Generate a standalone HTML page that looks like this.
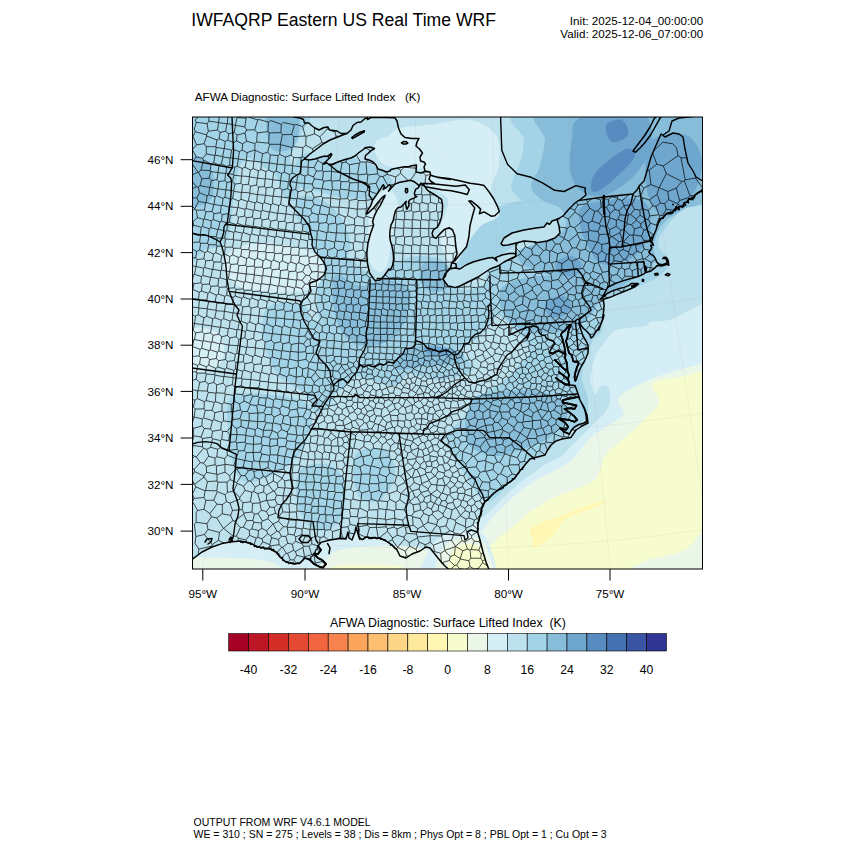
<!DOCTYPE html><html><head><meta charset="utf-8"><title>WRF</title><style>html,body{margin:0;padding:0;background:#fff}svg{display:block}text{font-family:"Liberation Sans",sans-serif;fill:#000}</style></head><body>
<svg width="850" height="850" viewBox="0 0 850 850">
<rect width="850" height="850" fill="#fff"/>
<defs><clipPath id="mc"><rect x="192.5" y="117.0" width="510.0" height="452.0"/></clipPath></defs>
<g clip-path="url(#mc)">
<rect x="192.5" y="117.0" width="510.0" height="452.0" fill="#bde2ee"/>
<path d="M185,110C204.5,85.8,282.8,105.8,302,110C321.2,114.2,302,126.7,300,135C298,143.3,290,153.3,290,160C290,166.7,299,168.3,300,175C301,181.7,298.7,196.5,296,200C293.3,203.5,287.3,200,284,196C280.7,192,279.7,181,276,176C272.3,171,266.3,169,262,166C257.7,163,253.7,158,250,158C246.3,158,242.7,159.8,240,166C237.3,172.2,235.7,184.3,234,195C232.3,205.7,232,221.7,230,230C228,238.3,226.2,241.7,222,245C217.8,248.3,211.2,248.3,205,250C198.8,251.7,188.3,278.3,185,255C181.7,231.7,165.5,134.2,185,110Z" fill="#a3d3e6"/>
<path d="M298,158C303,152,319.7,149.7,330,150C340.3,150.3,350.8,156.3,360,160C369.2,163.7,379.7,167.8,385,172C390.3,176.2,393.7,180.7,392,185C390.3,189.3,382.8,195.8,375,198C367.2,200.2,354.2,199,345,198C335.8,197,327.5,194,320,192C312.5,190,303.7,191.7,300,186C296.3,180.3,293,164,298,158Z" fill="#a3d3e6"/>
<path d="M322,262C326.7,254.5,337.3,253.3,345,255C352.7,256.7,359.7,270.8,368,272C376.3,273.2,386.3,264.7,395,262C403.7,259.3,411.7,256,420,256C428.3,256,439.7,257.2,445,262C450.3,266.8,447.8,280.3,452,285C456.2,289.7,463.3,290.3,470,290C476.7,289.7,487.5,279.7,492,283C496.5,286.3,498.7,301.3,497,310C495.3,318.7,487.8,328.3,482,335C476.2,341.7,463.7,344.2,462,350C460.3,355.8,475.7,365,472,370C468.3,375,450.3,379.3,440,380C429.7,380.7,417.5,373,410,374C402.5,375,401.7,385,395,386C388.3,387,377.5,382.3,370,380C362.5,377.7,355.8,376.2,350,372C344.2,367.8,339.7,362,335,355C330.3,348,325,339.2,322,330C319,320.8,317,311.3,317,300C317,288.7,317.3,269.5,322,262Z" fill="#a3d3e6"/>
<path d="M524,110C555,105,679,95.3,710,110C741,124.7,713.3,182.2,710,198C706.7,213.8,696.7,201,690,205C683.3,209,675.3,215.7,670,222C664.7,228.3,658.3,236.7,658,243C657.7,249.3,667.3,254.8,668,260C668.7,265.2,666.7,269.7,662,274C657.3,278.3,647,282.8,640,286C633,289.2,626,290.7,620,293C614,295.3,607,293.8,604,300C601,306.2,604,323,602,330C600,337,595.3,334.5,592,342C588.7,349.5,582.7,365.3,582,375C581.3,384.7,587.7,392.5,588,400C588.3,407.5,588.3,414,584,420C579.7,426,568.2,430.8,562,436C555.8,441.2,553.7,446,547,451C540.3,456,528.7,460.2,522,466C515.3,471.8,512.7,480,507,486C501.3,492,493.3,501.3,488,502C482.7,502.7,479.3,495.3,475,490C470.7,484.7,466.2,476.7,462,470C457.8,463.3,452.7,455.7,450,450C447.3,444.3,445,440.2,446,436C447,431.8,452,429.3,456,425C460,420.7,465.7,415.2,470,410C474.3,404.8,477,398.3,482,394C487,389.7,494.3,388.3,500,384C505.7,379.7,511,373.3,516,368C521,362.7,529.3,357.5,530,352C530.7,346.5,524.2,340.3,520,335C515.8,329.7,510.3,325,505,320C499.7,315,491.2,312,488,305C484.8,298,484.3,285.8,486,278C487.7,270.2,492.3,262.7,498,258C503.7,253.3,513,251.8,520,250C527,248.2,534.7,250,540,247C545.3,244,550.7,237.3,552,232C553.3,226.7,552,219.5,548,215C544,210.5,534,209.2,528,205C522,200.8,514.3,194.8,512,190C509.7,185.2,512.5,181,514,176C515.5,171,519.3,166,521,160C522.7,154,523.5,148.3,524,140C524.5,131.7,493,115,524,110Z" fill="#a3d3e6"/>
<path d="M235,395C247,390,287.2,395.8,300,400C312.8,404.2,311.7,411.7,312,420C312.3,428.3,307,441.7,302,450C297,458.3,290.7,464.7,282,470C273.3,475.3,257.8,482,250,482C242.2,482,238.7,478.7,235,470C231.3,461.3,228,442.5,228,430C228,417.5,223,400,235,395Z" fill="#a3d3e6"/>
<path d="M300,470C305.3,463.3,322.5,462.5,330,465C337.5,467.5,343.3,475.8,345,485C346.7,494.2,345,512.5,340,520C335,527.5,322,532.5,315,530C308,527.5,300.5,515,298,505C295.5,495,294.7,476.7,300,470Z" fill="#a3d3e6"/>
<path d="M355,455C359.5,447.5,378.3,446.7,385,450C391.7,453.3,395.8,466.7,395,475C394.2,483.3,386.2,496.7,380,500C373.8,503.3,362.2,502.5,358,495C353.8,487.5,350.5,462.5,355,455Z" fill="#a3d3e6"/>
<path d="M455,264C456,257.5,463.8,245.8,468,238C472.2,230.2,474.7,222.3,480,217C485.3,211.7,491.7,208.8,500,206C508.3,203.2,521.3,200,530,200C538.7,200,549.2,201.7,552,206C554.8,210.3,552,220.2,547,226C542,231.8,529.8,236,522,241C514.2,246,506.7,251.5,500,256C493.3,260.5,488.3,264.5,482,268C475.7,271.5,466.5,277.7,462,277C457.5,276.3,454,270.5,455,264Z" fill="#a3d3e6"/>
<path d="M296,200C298,196,304.3,195.2,310,196C315.7,196.8,324.2,200.2,330,205C335.8,209.8,341.7,217.5,345,225C348.3,232.5,351.7,243.8,350,250C348.3,256.2,340.3,261.2,335,262C329.7,262.8,322.5,259.5,318,255C313.5,250.5,311.3,240.8,308,235C304.7,229.2,300,225.8,298,220C296,214.2,294,204,296,200Z" fill="#a3d3e6"/>
<path d="M267.6,307.6C272,303.3,281.9,302.5,288.4,302.5C294.8,302.5,302.6,303.3,306.5,307.6C310.4,312,309.5,321.4,311.6,328.4C313.8,335.3,316.4,342.2,319.4,349.1C322.4,356,327.2,363.7,329.8,369.8C332.3,375.8,334.9,379.2,334.9,385.3C334.9,391.3,333.2,401.7,329.8,406C326.3,410.3,318.1,412.9,314.2,411.2C310.4,409.5,309.9,400,306.5,395.6C303,391.3,298.3,388.7,293.5,385.3C288.8,381.8,282.3,380.1,278,374.9C273.7,369.8,270.2,362,267.6,354.2C265.1,346.5,262.5,336.1,262.5,328.4C262.5,320.6,263.3,312,267.6,307.6Z" fill="#a3d3e6"/>
<path d="M291.2,322.9C295.9,320.6,322.9,319.4,333.5,322.9C344.1,326.5,350.2,337.1,354.7,344.1C359.2,351.2,361.3,358.7,360.4,365.3C359.4,371.9,354,378.5,349.1,383.6C344.1,388.8,336.1,393.1,330.7,396.4C325.3,399.6,320.8,403.9,316.6,403.4C312.4,402.9,306,398.7,305.3,393.5C304.6,388.4,310.5,379.4,312.4,372.4C314.2,365.3,317.8,357.1,316.6,351.2C315.4,345.3,309.5,341.8,305.3,337.1C301.1,332.4,286.5,325.3,291.2,322.9Z" fill="#a3d3e6"/>
<path d="M546,110C573.5,105,682.7,96.2,710,110C737.3,123.8,714.7,176.3,710,193C705.3,209.7,690,204.7,682,210C674,215.3,666.7,219.2,662,225C657.3,230.8,655.3,238.8,654,245C652.7,251.2,656.7,256.8,654,262C651.3,267.2,645,271,638,276C631,281,620,288,612,292C604,296,596.2,300,590,300C583.8,300,580,295.3,575,292C570,288.7,565.8,283.3,560,280C554.2,276.7,546.3,274.7,540,272C533.7,269.3,525.5,267.5,522,264C518.5,260.5,516.3,254.5,519,251C521.7,247.5,531.5,245.5,538,243C544.5,240.5,553.3,239.5,558,236C562.7,232.5,565.7,226.7,566,222C566.3,217.3,564,211.7,560,208C556,204.3,546.8,203.7,542,200C537.2,196.3,531.3,191.7,531,186C530.7,180.3,537.7,173.7,540,166C542.3,158.3,544,149.3,545,140C546,130.7,518.5,115,546,110Z" fill="#87bdd9"/>
<path d="M505,285C511.7,280.2,527.5,276.8,540,276C552.5,275.2,570.3,276.8,580,280C589.7,283.2,596.3,289,598,295C599.7,301,594.7,310.3,590,316C585.3,321.7,578.3,326.2,570,329C561.7,331.8,549.2,333.5,540,333C530.8,332.5,521.7,330.7,515,326C508.3,321.3,501.7,311.8,500,305C498.3,298.2,498.3,289.8,505,285Z" fill="#87bdd9"/>
<path d="M335,275C339.3,271,351.7,285.2,360,286C368.3,286.8,376.7,279.3,385,280C393.3,280.7,406.7,283.3,410,290C413.3,296.7,408.3,311.7,405,320C401.7,328.3,396.7,335.7,390,340C383.3,344.3,372.5,346.7,365,346C357.5,345.3,350.2,342,345,336C339.8,330,335.7,320.2,334,310C332.3,299.8,330.7,279,335,275Z" fill="#87bdd9"/>
<path d="M394,364C394.3,361.3,397.7,356.5,400,354C402.3,351.5,404.7,350.3,408,349C411.3,347.7,416,346.7,420,346C424,345.3,427.7,344.8,432,345C436.3,345.2,441.7,346,446,347C450.3,348,455,349.7,458,351C461,352.3,463.7,353.3,464,355C464.3,356.7,462.3,359.5,460,361C457.7,362.5,454,363.3,450,364C446,364.7,441,364.5,436,365C431,365.5,424.7,366.3,420,367C415.3,367.7,411.7,368.5,408,369C404.3,369.5,400.3,370.8,398,370C395.7,369.2,393.7,366.7,394,364Z" fill="#87bdd9"/>
<path d="M480,395C490,392.5,516.3,389.2,530,390C543.7,390.8,556,395,562,400C568,405,568.7,413.3,566,420C563.3,426.7,553.7,435,546,440C538.3,445,528.5,447.3,520,450C511.5,452.7,503.3,456.7,495,456C486.7,455.3,475,451.2,470,446C465,440.8,465,431.8,465,425C465,418.2,467.5,410,470,405C472.5,400,470,397.5,480,395Z" fill="#87bdd9"/>
<path d="M188,158C191.7,151.8,205.8,158.8,210,165C214.2,171.2,214.7,188.2,213,195C211.3,201.8,204.2,204.8,200,206C195.8,207.2,190,210,188,202C186,194,184.3,164.2,188,158Z" fill="#87bdd9"/>
<path d="M268,112C272.5,106.3,292.2,107.3,297,112C301.8,116.7,299,133.5,297,140C295,146.5,289.5,150,285,151C280.5,152,272.8,152.5,270,146C267.2,139.5,263.5,117.7,268,112Z" fill="#87bdd9"/>
<path d="M425,262C429.5,259.5,442.8,261.2,447,265C451.2,268.8,452.5,280.5,450,285C447.5,289.5,437,292.8,432,292C427,291.2,421.2,285,420,280C418.8,275,420.5,264.5,425,262Z" fill="#87bdd9"/>
<path d="M580,118C591.3,113.3,628,108.3,640,112C652,115.7,651.7,131,652,140C652.3,149,647,158.3,642,166C637,173.7,629,181,622,186C615,191,607,195.3,600,196C593,196.7,585,194.3,580,190C575,185.7,571.3,178.3,570,170C568.7,161.7,570.3,148.7,572,140C573.7,131.3,568.7,122.7,580,118Z" fill="#6ea6ce"/>
<path d="M652,140C658.8,134.2,677.7,131.7,686,135C694.3,138.3,701,149.8,702,160C703,170.2,698,186.7,692,196C686,205.3,673,215.3,666,216C659,216.7,653.5,207.7,650,200C646.5,192.3,644.7,180,645,170C645.3,160,645.2,145.8,652,140Z" fill="#6ea6ce"/>
<path d="M585,205C595,200.8,629,196.7,640,200C651,203.3,650.8,216.7,651,225C651.2,233.3,646.2,243.7,641,250C635.8,256.3,626.8,260.8,620,263C613.2,265.2,605.3,265.8,600,263C594.7,260.2,591.3,252.3,588,246C584.7,239.7,580.5,231.8,580,225C579.5,218.2,575,209.2,585,205Z" fill="#6ea6ce"/>
<path d="M548,300C551,297.8,559.2,295,563,296C566.8,297,571,302.7,571,306C571,309.3,566.3,314.2,563,316C559.7,317.8,554,318.2,551,317C548,315.8,545.5,311.8,545,309C544.5,306.2,545,302.2,548,300Z" fill="#6ea6ce"/>
<path d="M424,348C425.3,346.8,432,346.5,436,346.6C440,346.7,444.7,347.5,448,348.6C451.3,349.7,455.7,351.7,456,353C456.3,354.3,453,356.2,450,356.6C447,357,441.7,355.8,438,355.4C434.3,355,430.3,355.2,428,354C425.7,352.8,422.7,349.2,424,348Z" fill="#6ea6ce"/>
<path d="M556,262C558,259,567.7,255.3,572,256C576.3,256.7,581.7,262.7,582,266C582.3,269.3,577.7,274.7,574,276C570.3,277.3,563,276.3,560,274C557,271.7,554,265,556,262Z" fill="#6ea6ce"/>
<path d="M596,172C601.7,165,619.7,151.3,626,149C632.3,146.7,637.3,151.8,634,158C630.7,164.2,613,180.5,606,186C599,191.5,593.7,193.3,592,191C590.3,188.7,590.3,179,596,172Z" fill="#588cc0"/>
<path d="M606,125C607.7,121.3,618.3,118.3,622,120C625.7,121.7,629.7,131.3,628,135C626.3,138.7,615.7,143.7,612,142C608.3,140.3,604.3,128.7,606,125Z" fill="#588cc0"/>
<path d="M602.4,298 607.1,293.5 612.9,290.6 618.8,288.8 624.7,287.1 629.4,285.3 631.2,283.5 637.6,283.5 631.8,286.2 635.3,285.9 638.5,283.9 635.3,286.5 630.6,288.8 624.7,291.2 617.6,294.1 610.6,297.1 603.5,299.2 602.4,298Z" fill="#a3d3e6"/>
<path d="M304.5,159 310,154 318,148 323,144 330,140 339,136.5 345,134 347,133.5 351,130 353,125.5 357,122.5 361,122 365,118.5 367.5,117.8 367.5,119.5 371,117.5 377,117.2 385,117.5 395,117.8 397,121 398.5,128 401,134 405,137.5 412,138.5 419,138.5 417,142 416,146 419.5,149 422.5,153 420,157 420.5,161 424,162 425.5,164 424,167 425,171 430,172 430.5,175 430,172 425,171.5 421,173 416,172 416.5,165 413,165.5 409,166.5 403,167 395,168.5 391,169.5 390,171 386,172 383,170.5 378,169 376,165 373,162 369,160 365,159 365.5,155.5 368,153.5 371,150.7 374.5,148.5 370,147 365,147.8 364,149 359,152.5 355,156 351,158 345,159.5 339,161.5 333,164 329,164.5 327,163 323.5,164 326,161.5 328,159.5 330,157.5 331.8,154.5 331,153.5 329.5,155 327,156.5 325,156 321,157 315,159 309,160 304.5,159Z" fill="#bde2ee"/>
<path d="M390.3,270 389,269 384,276 380,280 375,280.6 369.6,273 367.4,263 366.8,253 368,243 370.4,234 373.6,225 372.6,221.8 374.4,215.9 376.8,210.6 380.3,205.3 383.2,199.4 385,196.1 385,195.3 382.6,197.1 378.5,201.8 373.8,207.7 369.1,212.3 366.2,214.1 367.9,210 370.9,205.3 372.6,200.3 376.2,195.3 380.3,189.4 383.2,184.7 384.4,186.5 383.2,189.4 386.2,187.7 389.1,184.7 390.9,185.9 389.7,189.4 388.5,191.2 391.5,187.7 395,184.1 399.7,182.3 405.6,181.2 410.3,180.3 414.4,181.8 417.4,184.1 419.1,185.9 420.3,184.1 418.5,187.7 415.6,189.4 414.4,192.9 415,195.9 416.8,196.5 413.8,198.2 410.3,199.4 408.5,201.8 409.1,205.3 406.8,209.4 405.6,204.1 406.2,201.2 403.2,204.7 400.9,207.1 397.9,207.7 395.6,210.6 394.4,214.7 393.2,220.6 390.9,225.3 390.1,230 389.7,235.9 390.3,240.6 392.1,246.5 393.2,252.3 393.6,259.4 392.6,265.3 390.3,270Z" fill="#bde2ee"/>
<path d="M420.6,183.2 427.6,190.3 437.1,197.3 442.9,205.6 442.9,216.2 440.6,224.4 435.9,230.3 433.5,233.8 435.9,237.3 440.6,235 446.5,229.1 451.6,227.5 454.7,235 455.9,246.8 457.1,253.8 453.5,260.9 460.6,253.8 466.5,246.8 468.8,237.3 470,225.6 472.4,216.2 474.7,207.9 471.2,200.9 477.1,205.6 480.6,209.1 484.1,211.9 491.2,216.2 499.4,211.5 497.1,205.6 493.5,198.5 488.8,191.5 484.1,185.6 479.4,184.4 470,183.2 460.6,180.9 448.8,178.5 437.1,177.3 427.6,175 422.9,178.5Z" fill="#bde2ee"/>
<path d="M443,279 445,274 450,269 455,268 460,269 466,265 473,262 480,260 488,258 493,257.6 497,261 495.6,257.6 502,255 509,253.6 515,253.6 515.9,256.2 510,259 504,262 498,266 490,269 484,273 478,277 472,280 466,283 460,286 455,287.6 451,286.4 448,286 445,282 443,279Z" fill="#bde2ee"/>
<path d="M501,243.6 504,238 512,233 524,230 536,228 544,227 547,223 549.6,224.4 552,221 558,219 557,219.4 559,226 560,233 555,238 547,241 535,243 536,242 524,241 516,243 508,245 503,245.6 501,243.6Z" fill="#bde2ee"/>
<path d="M232,250C238,245.8,248.7,243.3,260,243C271.3,242.7,289.5,244.8,300,248C310.5,251.2,320,255.8,323,262C326,268.2,322.7,280,318,285C313.3,290,304.3,291,295,292C285.7,293,271.5,292,262,291C252.5,290,244.3,289.8,238,286C231.7,282.2,225,274,224,268C223,262,226,254.2,232,250Z" fill="#d6eef5"/>
<path d="M428,125C440.5,123.3,458.7,118.3,470,120C481.3,121.7,491.2,127.5,496,135C500.8,142.5,499.8,155.8,499,165C498.2,174.2,491,181.7,491,190C491,198.3,500.7,209,499,215C497.3,221,486.5,220.8,481,226C475.5,231.2,470.2,239.8,466,246C461.8,252.2,459.5,261.3,456,263C452.5,264.7,447.7,261.5,445,256C442.3,250.5,439.5,239.3,440,230C440.5,220.7,449.7,207.3,448,200C446.3,192.7,434.7,191.7,430,186C425.3,180.3,425,170.3,420,166C415,161.7,405.8,162.7,400,160C394.2,157.3,385.8,155,385,150C384.2,145,387.8,134.2,395,130C402.2,125.8,415.5,126.7,428,125Z" fill="#d6eef5"/>
<path d="M375,196C378.3,192.7,386.2,188.5,390,190C393.8,191.5,397.7,197.5,398,205C398.3,212.5,393.7,225.5,392,235C390.3,244.5,390,255.8,388,262C386,268.2,383,272,380,272C377,272,372,268.2,370,262C368,255.8,368,243.7,368,235C368,226.3,368.8,216.5,370,210C371.2,203.5,371.7,199.3,375,196Z" fill="#d6eef5"/>
<path d="M378,140C384.8,135.7,409.5,132.3,420,134C430.5,135.7,439.2,144.7,441,150C442.8,155.3,437.8,162.8,431,166C424.2,169.2,408.7,170,400,169C391.3,168,382.7,164.8,379,160C375.3,155.2,371.2,144.3,378,140Z" fill="#d6eef5"/>
<path d="M188,332C192,325.3,206,327.8,212,330C218,332.2,223,339,224,345C225,351,224,361.8,218,366C212,370.2,193,375.7,188,370C183,364.3,184,338.7,188,332Z" fill="#d6eef5"/>
<path d="M717.1,297.7C713.5,251.1,706.9,301.9,702.2,304.1C697.5,306.2,693.4,308.1,688.8,310.4C684.2,312.8,678.9,316.4,674.7,318.2C670.5,319.9,667.4,320.4,663.4,321C659.4,321.6,653.5,320.9,650.7,321.7C647.9,322.5,649.5,325,646.5,325.9C643.4,326.9,637.1,326.8,632.4,327.4C627.6,327.9,621.8,328.4,618.2,329.5C614.7,330.5,613.5,331.5,611.2,333.7C608.8,335.9,606.5,339.7,604.1,342.9C601.8,346.1,598.9,349.2,597.1,352.8C595.2,356.3,593.9,360.1,592.8,364.1C591.8,368.1,591.1,374,590.7,376.8C590.3,379.5,589.7,377.7,590.4,380.6C591.1,383.5,593.3,393.2,595,394.1C596.7,395,598.2,387.1,600.4,386C602.7,384.9,607,384.6,608.5,387.4C610.1,390.1,610.6,398,609.9,402.2C609.2,406.5,606.7,409.9,604.5,413.1C602.2,416.2,599.1,418.5,596.4,421.2C593.6,423.9,590.9,426.6,588.2,429.3C585.5,432,583.3,434.3,580.1,437.4C577,440.6,572.4,445.1,569.3,448.2C566.1,451.4,564.8,453.9,561.2,456.4C557.6,458.8,552.2,460.4,547.6,463.1C543.1,465.8,538.6,469.4,534.1,472.6C529.6,475.7,525.1,478.5,520.6,482.1C516.1,485.7,511.6,490,507.1,494.2C502.6,498.5,498,503.5,493.5,507.8C489,512,484.1,515.4,480,519.9C475.9,524.5,471,524.2,469.2,534.8C467.4,545.4,426.8,575.4,469.2,583.5C511.6,591.6,682.2,631.2,723.5,583.5C764.8,535.9,720.6,344.3,717.1,297.7Z" fill="#d6eef5"/>
<path d="M717.1,359.8C713.5,323.1,706.9,362.2,702.2,363.4C697.5,364.5,693.4,365.6,688.8,366.9C684.2,368.2,679.4,369.7,674.7,371.1C670,372.5,665.3,373.7,660.6,375.4C655.9,377,651.2,378.9,646.5,381C641.8,383.1,636.4,385.9,632.4,388.1C628.4,390.2,624.8,391.8,622.5,393.7C620.1,395.6,618.8,397.5,618.2,399.4C617.7,401.2,618.5,403.6,618.9,405C619.4,406.4,620,406.1,620.7,407.6C621.5,409.2,624.3,412.2,623.4,414.4C622.5,416.7,618.9,418.7,615.3,421.2C611.7,423.7,606.3,426.1,601.8,429.3C597.3,432.4,592.3,436.1,588.2,440.1C584.2,444.2,580.6,450,577.4,453.6C574.3,457.3,572.9,459.1,569.3,461.8C565.7,464.5,560.7,467.2,555.8,469.9C550.8,472.6,544.9,474.8,539.5,478C534.1,481.2,528.7,484.8,523.3,488.8C517.9,492.9,512,497.8,507.1,502.4C502.1,506.9,497.6,511.4,493.5,515.9C489.5,520.4,485.9,525.3,482.7,529.4C479.6,533.5,475.9,531.2,474.6,540.2C473.2,549.3,433.1,576.3,474.6,583.5C516.1,590.7,683.1,620.8,723.5,583.5C763.9,546.2,720.6,396.5,717.1,359.8Z" fill="#e9f6e8"/>
<path d="M717.1,366.9C713.5,331.4,706,369.4,702.2,370.4C698.5,371.5,697.9,372.2,694.5,373.2C691.1,374.3,686,375.8,681.8,376.8C677.5,377.7,673.3,378.2,669.1,378.9C664.8,379.6,659.2,379.9,656.4,381C653.5,382.1,652.6,383.6,652.1,385.2C651.6,386.9,652.6,389,653.5,390.9C654.5,392.8,656.9,394.2,657.8,396.5C658.6,398.9,659.2,402.7,658.5,405C657.7,407.3,655.9,407.7,653.2,410.4C650.5,413,646,417.6,642.4,421.2C638.7,424.8,636,427.9,631.5,432C627,436.1,619.8,441.5,615.3,445.5C610.8,449.6,607.2,451.8,604.5,456.4C601.8,460.9,600.9,468.5,599.1,472.6C597.3,476.6,596.8,478.2,593.6,480.7C590.5,483.2,585.5,485.2,580.1,487.5C574.7,489.7,567,491.8,561.2,494.2C555.3,496.7,550.4,499.2,544.9,502.4C539.5,505.5,534.1,509.1,528.7,513.2C523.3,517.2,517.4,522.7,512.5,526.7C507.5,530.8,503,533.9,498.9,537.5C494.9,541.1,490.8,545.2,488.1,548.4C485.4,551.5,484.1,550.6,482.7,556.5C481.4,562.3,439.9,579,480,583.5C520.1,588,684,619.6,723.5,583.5C763,547.4,720.6,402.4,717.1,366.9Z" fill="#f7fcce"/>
<path d="M631.5,575.4C618,573.2,636.9,565,642.4,561.9C647.8,558.7,656.8,558.5,664,556.5C671.2,554.4,679.8,553.3,685.6,549.7C691.5,546.1,696,538.7,699.2,534.8C702.3,531,700.5,528.1,704.6,526.7C708.6,525.4,720.4,518.6,723.5,526.7C726.7,534.8,738.9,567.3,723.5,575.4C708.2,583.5,645.1,577.7,631.5,575.4Z" fill="#e9f6e8"/>
<path d="M530.1,529.4C532.1,526.7,539.8,523.5,544.9,521.3C550.1,519,555.8,517.9,561.2,515.9C566.6,513.9,572,511.1,577.4,509.1C582.8,507.1,588.7,505.1,593.6,503.7C598.6,502.4,607.2,500.3,607.2,501C607.2,501.7,599.5,505.3,593.6,507.8C587.8,510.2,577.4,513.2,572,515.9C566.6,518.6,564.8,520.4,561.2,524C557.6,527.6,554.9,533.7,550.4,537.5C545.8,541.4,537.1,547,534.1,547C531.2,547,533.4,540.5,532.8,537.5C532.1,534.6,528,532.1,530.1,529.4Z" fill="#fff7b3"/>
<path d="M449,569.6 446,567 442,563 438,558 434,553 430,548 426,547 420,551 412,554 406,558 400,556 397,550 392,545 386,541 380,538 372,538 366,537 362.4,539.6 360,538 358,534 356,527 355,532 352,540 349,538 348,532 346,539 340,538.4 330,540 321,542.4 318,546 321,550 318,554 314,554 318,558 322,560 326,564 323,567.6 320,567 314,564 310,560 305,558 300,563 294,564 286,562 280,557 276,552 270,549 264,548 258,547 250,543 240,541 230,542 222,543.6 212,547 202,552 192,559.4 185,560 185,580 450,580Z" fill="#d6eef5"/>
<path d="M185,580C167.8,576.7,177.5,563.7,185,560C192.5,556.3,215.8,557.7,230,558C244.2,558.3,260.3,558.3,270,562C279.7,565.7,302.2,577,288,580C273.8,583,202.2,583.3,185,580Z" fill="#e9f6e8"/>
<path d="M322,580C302.5,576,325.3,561.3,330,556C334.7,550.7,338.3,549.7,350,548C361.7,546.3,386.7,545.3,400,546C413.3,546.7,422.2,546.3,430,552C437.8,557.7,465,575.3,447,580C429,584.7,341.5,584,322,580Z" fill="#e9f6e8"/>
<path d="M328,580C315.2,577.7,326.3,568.5,335,566C343.7,563.5,368.3,564.7,380,565C391.7,565.3,399.7,565.5,405,568C410.3,570.5,424.8,578,412,580C399.2,582,340.8,582.3,328,580Z" fill="#f7fcce"/>
<path d="M425,580C414.7,574.7,426.7,555.5,430,548C433.3,540.5,438.3,538,445,535C451.7,532,463.2,529.5,470,530C476.8,530.5,482.3,529.7,486,538C489.7,546.3,502.2,573,492,580C481.8,587,435.3,585.3,425,580Z" fill="#d6eef5"/>
<path d="M438,580C429.5,575.3,438.7,558.5,441,552C443.3,545.5,447.2,543.5,452,541C456.8,538.5,464.8,537,470,537C475.2,537,480,538.5,483,541C486,543.5,486.5,545.5,488,552C489.5,558.5,500.3,575.3,492,580C483.7,584.7,446.5,584.7,438,580Z" fill="#e9f6e8"/>
<path d="M448,580C441.3,576.7,448.8,565.3,450,560C451.2,554.7,452.5,550.7,455,548C457.5,545.3,461.5,544.5,465,544C468.5,543.5,473.3,544,476,545C478.7,546,479.5,547.5,481,550C482.5,552.5,483.5,555,485,560C486.5,565,496.2,576.7,490,580C483.8,583.3,454.7,583.3,448,580Z" fill="#f7fcce"/>
<path d="M193,136.3l-0.5,0.1M196.6,144.9l-4.1,4.6M192.5,150l3.8,6.9M192.5,161.8l3.8,-4.9M192.5,164.3l5.6,7.8M192.5,175.3l0.2,-0.6M192.5,182l4.1,4.8M192.5,188.6l4.1,-1.8M192.5,197.8l4.4,0.1M192.5,206.7l2.4,2M192.5,210.7l2.5,-1.6M192.5,221.4l0.5,0.2M192.5,227.3l1.2,-2.1M192.5,232.2l0.7,1.5M192.5,235.2l0.7,-1.5M192.5,242.3l7.1,-0.2M192.5,249.3l4.2,2.1M192.5,257.8l3.2,0M196.1,266.4l-3.6,-0.5M192.5,274.7l0.9,0.3M192.5,279.8l0.9,-4.8M192.5,281.9l1.4,1.8M192.5,289.7l0.3,-0.2M192.5,299.1l6,-0.1M192.5,307.3l6.2,0.4M195.6,316.2l-3.1,-1.3M194.5,323.5l-2,-0.5M193.1,330.1l-0.6,0.1M193.8,340l-1.3,-0.4M192.5,356.4l6.5,-0.5M192.5,363.4l5.2,2M192.5,371.6l4,0.5M192.5,380.3l3.6,-1.1M192.5,389.6l5.1,1.3M192.5,399.4l2.5,0.8M192.5,406.9l0.9,-0.1M192.5,416.7l1.6,0.3M194.2,417.1l-1.7,5.2M192.5,426.8l1.2,1.5M193.8,435.8l-1.3,5.5M192.5,444.7l0.6,0.7M193.1,445.4l-0.6,3.3M194.3,456.4l-1.8,-2.1M194.3,456.4l-1.8,1.7M192.5,468.5l1.7,0.8M192.5,475.1l2.1,-3.5M194.2,484l-1.7,-3.9M192.5,484.5l1.7,-0.5M192.5,494l3.4,-7.1M194,498.4l-1.5,-4.2M194,498.4l-1.5,3.1M197.7,510.5l-5.2,-8.8M192.6,346.6l7.5,2.7M192.6,346.6l1.2,-6.6M192.7,174.7l5.4,-2.6M192.8,289.5l6.5,2.8M192.8,289.5l1.1,-5.8M193.7,225.2l-0.7,-3.6M193,221.6l4.5,-3.9M196.6,144.9l-3.6,-8.6M193,136.3l2.3,-4.6M202.5,446.9l-9.4,-1.5M193.1,330.1l2.6,2.8M194.5,323.6l-1.4,6.5M193.2,233.7l7,0.8M193.4,406.8l1.8,2.3M193.4,406.8l1.6,-6.6M194.5,274.4l-1.1,0.6M201.3,227.3l-7.6,-2.1M193.7,428.3l-0.4,6.8l0.5,0.7M193.7,428.3l8.2,-2.3M193.8,340l0.7,-0.5M193.8,435.8l7.3,1.2M193.9,283.7l6.9,-0.9M194,498.4l10.1,-0.9M194.1,417l1.1,-7.9M194.2,417.1l8.1,1.8M194.2,469.3l0.4,2.3M194.2,469.3l6.1,-6.7M194.2,484l0.5,0.3M194.3,456.4l2,0.5M195.6,316.2l-1.1,7.3M194.5,274.4l7,2.1M196.1,266.5l-1.6,7.9M194.5,339.5l8.4,1.7M194.5,339.5l1.2,-6.6M194.5,323.6l8.2,0.9M204,476l-9.4,-4.4M195.9,486.9l-1.2,-2.6M194.7,484.3l9.3,-7.2M195,209.1l-0.1,-0.4M194.9,208.7l3.6,-7.3M195,209.1l1.3,1.1M195,400.2l2.4,-1.6M204.1,408.8l-8.9,0.3M206.5,134.8l-11.2,-3.1M196.3,122.3l-2,6.8l1,2.6M195.6,316.2l2.5,-1.5M195.7,332.9l6.5,-1.1M197.2,259.5l-1.5,-1.7M196.7,251.4l-1,6.4M195.9,486.9l9.2,3.9M198.9,549.1l-3.8,-5.5l0.7,-7l0.1,-0.1M196.2,522.3l-1.9,1.8l1.6,12.4M204.4,534.5l-8.5,2M196.1,266.4l1.1,-6.9M196.1,266.5l7.5,1.7M196.1,379.2l3.7,3.2M196.1,379.2l1,-6.1M206.9,523.7l-10.7,-1.4M196.2,522.3l0,-10l1.5,-1.8M196.3,156.9l6.4,1.5M197.5,217.7l-1.2,-7.5M196.3,210.2l8.1,-0.1M207.1,123.7l-10.8,-1.4M196.3,122.3l-1,-2.2l2.6,-3.1M196.3,456.9l4,5.7M196.3,456.9l7.3,-8.6M197.1,373.1l-0.6,-1M197.7,365.4l-1.2,6.7M198.3,187.1l-1.7,-0.3M196.6,144.9l7.5,-1.2M199.7,250l-3,1.4M196.9,197.9l1.6,3.5M199.5,192.8l-2.6,5.1M205.7,373.2l-8.6,-0.1M197.2,259.5l6.7,-0.7M204.3,401.6l-6.9,-3M197.4,398.6l0.2,-7.7M197.5,217.7l6.1,1.7M197.9,390.7l-0.3,0.2M199.6,364.1l-1.9,1.3M204,509.3l-6.3,1.2M207.3,391.1l-9.4,-0.4M197.9,390.7l1.9,-8.3M198.5,172.2l-0.4,-0.1M198.1,314.7l5.9,3.1M198.1,314.7l0.9,-6.6M199.5,192.8l-1.2,-5.7M200,185.7l-1.7,1.4M198.5,201.4l7.1,1.4M198.5,299l0.9,1.1M199.3,292.3l-0.8,6.7M201.9,178.8l-3.4,-6.6M201,170.1l-2.5,2.1M198.6,554.5l-0.4,-0.6l0.7,-4.8M198.7,307.7l0.3,0.4M198.7,307.7l0.7,-7.6M211.6,546.2l-12.7,2.9M199,308.1l8.2,0.6M199,355.9l1.5,1.8M199,355.9l1.1,-6.6M199.3,292.3l2.1,-1.3M199.4,300.1l7.5,-0.2M207.2,195.8l-7.7,-3M199.6,242.1l1,1.1M200.6,235l-1,7.1M206.3,366.8l-6.7,-2.7M200.5,357.7l-0.9,6.4M199.7,250l5.1,2.6M199.7,250l0.9,-6.8M205,381.3l-5.2,1.1M209.7,187.5l-9.7,-1.8M201.9,178.8l-1.9,6.9M200.1,349.3l1.6,-1M200.2,234.5l0.4,0.5M200.2,234.5l1.1,-7.2M200.3,462.6l3.2,0.6M207.7,357.4l-7.2,0.3M207.6,243.4l-7,-0.2M200.6,235l7.8,0.5M200.8,282.8l1.5,1.6M201.5,276.5l-0.7,6.3M210,170.6l-9,-0.5M201,170.1l2.5,-9.9M201.1,437l1.3,1.5M201.1,437l3.2,-8.6M201.3,227.3l1.2,-0.8M201.4,291l6.6,2.2M202.3,284.4l-0.9,6.6M201.5,276.5l1.4,-1M208.9,350.6l-7.2,-2.3M201.7,348.3l1.2,-7.1M204.3,428.4l-2.4,-2.4M202.3,418.9l-0.4,7.1M201.9,178.8l7.1,-0.5M202.2,331.8l2,2M202.8,324.7l-0.6,7.1M202.3,284.4l7,-0.3M202.3,418.9l1.3,-1M202.5,446.9l-0.1,-8.4M202.4,438.5l9.2,-1.3M203.6,448.3l-1.1,-1.4M202.5,226.5l6.8,2.2M203.6,219.4l-1.1,7.1M202.7,324.5l1.3,-6.7M202.7,158.4l0.8,1.8M206.3,153.9l-3.6,4.5M202.8,324.7l8.9,1.2M202.9,341.2l0.5,-0.5M210.6,277.4l-7.7,-1.9M202.9,275.5l0.7,-7.3M211.4,342.3l-8,-1.6M203.4,340.7l0.8,-6.9M206.3,466.4l-2.8,-3.2M203.5,463.2l5.2,-7M211.2,163.9l-7.7,-3.7M203.6,448.3l3.1,1M203.6,417.9l8.8,2.7M205.2,410.4l-1.6,7.5M203.6,219.4l0.7,-0.4M203.6,268.2l1.1,-0.7M203.9,258.8l1.9,2.1M203.9,258.8l0.9,-6.2M204,509.3l5.9,4.3M205.8,500.4l-1.8,8.9M204,317.8l2.7,-1.6M204,477.1l0,-1.1M206.6,472.4l-2.6,3.6M207.4,481.6l-3.4,-4.5M204.1,408.8l1.1,1.6M204.3,401.6l-0.2,7.2M204.1,143.7l2.2,2.9M206.7,136l-2.6,7.7M205.8,500.4l-1.7,-2.9M204.1,497.5l1,-6.7M204.2,333.8l6.4,-1M210.5,429l-6.2,-0.6M204.3,219l7.1,1.8M205.9,211.8l-1.6,7.2M204.3,401.6l1.6,-1M204.4,210.1l1.5,1.7M205.6,202.8l-1.2,7.3M212.2,544.6l-7.8,-10.1M207.9,529.4l-3.5,5.1M212.4,269.6l-7.7,-2.1M205.8,260.9l-1.1,6.6M207.5,251.3l-2.7,1.3M208.3,383.8l-3.3,-2.5M205,381.3l1.3,-7.3M205.6,490.5l-0.5,0.3M205.2,410.4l6.9,-0.1M205.6,490.5l11.1,0.3M207.4,481.6l-1.8,8.9M206,202.5l-0.4,0.3M206.3,374l-0.6,-0.8M206.3,366.8l-0.6,6.4M205.8,500.4l7.9,-0.2M205.8,260.9l6.6,-0.8M205.9,211.8l6.2,-0.3M205.9,400.6l8.5,1.7M205.9,400.6l2.4,-8.3M213.8,204.5l-7.8,-2M207.2,195.8l-1.2,6.7M206.3,153.9l8.5,1.6M206.3,153.9l0,-7.3M206.6,472.4l-0.3,-6M215,464.7l-8.7,1.7M206.3,146.6l9.5,0.2M206.3,374l8.3,0.7M208.7,365.1l-2.4,1.7M206.5,134.8l0.2,1.2M208.3,131.2l-1.8,3.6M216.6,474.2l-10,-1.8M212.8,318.8l-6.1,-2.6M206.7,316.2l0.6,-7.2M206.7,136l10.3,4M206.7,449.3l2,6.9M206.7,449.3l3.9,-2M206.9,299.9l1.7,2M208,293.2l-1.1,6.7M206.9,523.7l1,5.7M206.9,523.7l4.5,-6.9M208.3,131.2l-1.2,-7.5M208.9,121.1l-1.8,2.6M207.2,308.7l1.4,-6.8M208.6,194.9l-1.4,0.9M207.3,391.1l1,1.2M208.3,383.8l-1,7.3M207.3,309l8.7,1.3M207.4,481.6l9.6,-0.6M207.5,251.3l6,2.7M208.6,244.6l-1.1,6.7M208.6,244.6l-1,-1.2M207.6,243.4l1.4,-7.1M209.6,359.6l-1.9,-2.2M207.7,357.4l1.2,-6.8M219.4,532.4l-11.5,-3M208,293.2l1.7,-1.1M208.3,392.3l7.6,0.8M208.3,383.8l5.5,-1.3M208.3,131.2l9.2,-1.2M208.4,235.5l0.6,0.8M209.3,228.7l-0.9,6.8M215.2,301.3l-6.6,0.6M208.6,244.6l7.5,0.3M215.2,196.7l-6.6,-1.8M208.6,194.9l1.1,-7.4M208.7,456.2l6.3,1.9M208.7,365.1l7.1,3.3M209.6,359.6l-0.9,5.5M208.9,117.2l0,3.9M208.9,117.2l0.3,-0.2M210.1,349.9l-1.2,0.7M208.9,121.1l9.6,1.4M216.2,236.8l-7.2,-0.5M209,178.3l2.3,2.2M210.7,171.6l-1.7,6.7M209.3,228.7l1.6,-1.1M209.3,284.1l1.7,2.2M209.3,284.1l1.3,-6.7M209.6,359.6l6.8,-1.1M209.7,187.5l0.3,-0.3M216.4,295.2l-6.7,-3.1M211,286.3l-1.3,5.8M209.9,513.6l1.5,3.2M209.9,513.6l7.1,-9.4M210,170.6l0.7,1M210,170.6l1.2,-6.7M210,187.2l7.9,1.8M210,187.2l1.3,-6.7M210.1,349.9l7.2,2.1M210.1,349.9l1.3,-7.6M212.5,431.3l-2,-2.3M212.4,420.6l-1.9,8.4M210.6,277.4l0.4,-0.3M210.6,447.3l7,1.9M212.5,438.7l-1.9,8.6M213,335.3l-2.4,-2.5M211.8,326.1l-1.2,6.7M218,172.5l-7.3,-0.9M210.9,227.6l6.9,1.9M210.9,227.6l0.5,-6.8M217.9,285.9l-6.9,0.4M211,277.1l7.7,1.7M212.4,269.6l-1.4,7.5M211.2,163.9l2.6,-1.2M217,179.7l-5.7,0.8M213.2,219.5l-1.8,1.3M211.4,516.8l5.3,1.1M212.1,341.8l-0.7,0.5M211.6,546.2l0.3,0.8M211.6,546.2l0.6,-1.6M211.6,437.2l0.9,1.5M212.5,431.3l-0.9,5.9M211.7,325.9l1.1,-7.1M211.8,326.1l8.3,1.3M219.7,343.9l-7.6,-2.1M212.1,341.8l0.9,-6.5M212.1,410.3l2.7,2.4M212.1,410.3l2.3,-8M213.9,213.6l-1.8,-2.1M213.8,204.5l-1.7,7M218.5,540.3l-6.3,4.3M212.8,269.3l-0.4,0.3M214,262l-1.6,-1.9M212.4,260.1l1.1,-6.1M213.9,419.7l-1.5,0.9M212.5,431.3l8.3,-1.5M212.5,438.7l8,1.9M220.7,270.7l-7.9,-1.4M212.8,269.3l1.2,-7.3M212.8,318.8l2,-1.1M213,335.3l5.9,-1.1M220,222l-6.8,-2.5M213.9,213.6l-0.7,5.9M213.5,254l2.3,-1.3M213.7,500.2l3.3,4M213.7,500.2l3.6,-8.5M213.8,382.5l2.8,2.3M215,375.2l-1.2,7.3M219,165l-5.2,-2.3M214.8,155.5l-1,7.2M220.4,212.8l-6.5,0.8M221.5,422.4l-7.6,-2.7M214.8,412.7l-0.9,7M214,204.4l7.3,1.3M215.2,196.7l-1.2,7.7M220.8,262l-6.8,0M214.4,402.3l1,-0.6M215,375.2l-0.4,-0.5M214.6,374.7l1.2,-6.3M214.8,412.7l7.1,-1.7M221.2,320.2l-6.4,-2.5M216.3,310.7l-1.5,7M214.8,155.5l0.4,-0.3M215,375.2l8.8,1.5M215,464.7l0,-6.6M215,458.1l1.8,-1.3M216.4,465.9l-1.4,-1.2M215.2,196.7l1.4,-0.9M216.8,303.1l-1.6,-1.8M215.2,301.3l1.2,-6.1M215.2,155.2l7.5,1.3M215.2,155.2l1,-7.8M215.4,401.7l6.7,2.3M215.4,401.7l0.5,-8.6M215.8,146.8l0.4,0.6M215.8,146.8l1.2,-6.8M217.7,367l-1.9,1.4M221.8,255.4l-6,-2.7M217,246.1l-1.2,6.6M215.9,393.1l0.4,-0.3M216.3,310.7l-0.3,-0.4M216,310.3l0.8,-7.2M216.1,244.9l0.9,1.2M216.1,244.9l1.1,-6.8M216.2,147.4l8,1.2M216.2,236.8l1,1.3M216.2,236.8l1.6,-7.3M224.4,311.3l-8.1,-0.6M216.3,392.8l8.4,0.5M216.3,392.8l0.3,-8M216.6,474.2l-0.2,-8.3M216.4,465.9l8.5,-1.4M216.4,295.2l1.9,-1.2M216.4,358.5l2.1,2.2M216.4,358.5l0.9,-6.5M216.6,195.8l6.5,2.6M217.9,189l-1.3,6.8M216.6,384.8l6.4,-1.6M216.6,474.2l0.4,0.4M223.4,528.4l-6.7,-10.5M216.7,517.9l5.6,-4.1M216.7,490.8l0.6,0.9M216.7,490.8l1.2,-8.6M216.8,303.1l7,-0.4M224.7,458.6l-7.9,-1.8M217.6,449.2l-0.8,7.6M217,481l0,-6.4M217,474.6l8,-2.4M217,140l2.1,-1.3M218.9,181.6l-1.9,-1.9M218,172.6l-1,7.1M217,246.1l7.6,0.2M217,481l0.9,1.2M222.3,504.6l-5.3,-0.4M217.2,238.1l7.4,0M217.3,352l1.5,-1M225.1,494.7l-7.8,-3M217.5,130l2.6,2.4M217.5,130l1.1,-7.4M217.6,449.2l2.8,-1.5M217.7,367l7.2,2.2M218.5,360.7l-0.8,6.3M218.3,229.2l-0.5,0.3M217.9,189l0.2,-0.2M217.9,285.9l1.4,1.4M218.7,278.8l-0.8,7.1M217.9,482.2l9.1,-0.1M219,165l-1,7.5M225.5,173.5l-7.5,-0.9M218.1,188.8l7.7,1.1M218.9,181.6l-0.8,7.2M218.3,294l6.5,2.3M218.3,294l1,-6.7M225.8,231.3l-7.5,-2.1M220,222l-1.7,7.2M218.5,540.3l5.5,2.9M218.5,540.3l0.9,-7.9M219.4,117l-0.9,5.5M225.6,359.5l-7.1,1.2M218.6,122.6l8.4,1.2M220.1,277.8l-1.4,1M226,353.2l-7.2,-2.2M219.7,343.9l-0.9,7.1M221.7,336.8l-2.8,-2.6M218.9,334.2l1.2,-6.8M225,180.7l-6.1,0.9M219,165l2.3,-1.1M219.1,138.7l6.2,2.7M219.1,138.7l1,-6.3M219.3,287.3l6.8,-0.3M219.4,532.4l4,-4M220.6,343.3l-0.9,0.6M221.4,221.2l-1.4,0.8M227,279.9l-6.9,-2.1M220.7,270.7l-0.6,7.1M220.1,132.4l5.5,-1.2M220.7,327.1l-0.6,0.3M220.4,212.8l1.9,1.8M220.4,212.8l0.9,-7.1M227,450.4l-6.6,-2.7M220.5,440.6l-0.1,7.1M220.5,440.6l1.2,-1.1M220.6,343.3l8.3,1.8M220.6,343.3l1.1,-6.5M228.3,328.7l-7.6,-1.6M220.7,327.1l0.5,-6.9M220.7,270.7l0.6,-0.5M220.8,429.8l1.8,1.7M221.5,422.4l-0.7,7.4M222.1,263.5l-1.3,-1.5M220.8,262l1,-6.6M223.7,318.6l-2.5,1.6M229.5,271.6l-8.2,-1.4M221.3,270.2l0.8,-6.7M222.1,205.2l-0.8,0.5M221.3,163.9l5.5,2.6M221.3,163.9l1.7,-6.9M227.7,223.1l-6.3,-1.9M221.4,221.2l0.9,-6.6M221.5,422.4l2,-1.5M221.7,336.8l5.7,-1.4M228.5,440.7l-6.8,-1.2M222.6,431.5l-0.9,8M224.5,254l-2.7,1.4M221.9,411l1.5,1.4M221.9,411l0.2,-7M222.1,205.2l7.1,1.9M223.1,198.4l-1,6.8M222.1,404l1.9,-1.3M229.3,262.7l-7.2,0.8M222.3,214.6l6.2,-1M222.3,513.8l0,-9.2M222.3,504.6l4.2,-3M230.6,515.4l-8.3,-1.6M222.6,431.5l4.4,0M223,157l-0.3,-0.5M222.7,156.5l1.5,-7.9M223,157l7.1,1M223,383.2l3.2,3.1M223.8,376.7l-0.8,6.5M223.1,198.4l1.9,-1.2M223.5,420.9l-0.1,-8.5M223.4,412.4l8,-0.7M223.5,420.9l8.1,1.1M223.6,528.4l9.7,7.9M223.6,528.4l9.3,-7.8M230.1,321.2l-6.4,-2.6M223.7,318.6l0.7,-7.3M225.5,304.7l-1.7,-2M223.8,302.7l1,-6.4M223.8,376.7l0.3,-0.2M231.2,404.4l-7.2,-1.7M224,402.7l1.3,-8.5M232.9,377.6l-8.8,-1.1M224.1,376.5l0.8,-7.3M224.4,148.5l7.2,1.5M224.4,148.5l0.9,-7.1M224.4,311.3l8.7,1.6M224.4,311.3l1.1,-6.6M229.8,256.5l-5.3,-2.5M224.5,254l0.8,-6.9M224.6,238.1l0.8,1M224.6,238.1l1.2,-6.8M225.3,247.1l-0.7,-0.8M225.4,239.1l-0.8,7.2M224.7,393.3l0.6,0.9M226.2,386.3l-1.5,7M225,464.3l-0.3,-5.7M227.3,455.2l-2.6,3.4M224.8,296.3l1.9,-1.2M224.9,464.5l0.1,7.7M226.6,368l-1.7,1.2M225,464.3l9,1.2M227,182.4l-2,-1.7M225.5,173.5l-0.5,7.2M225,197.2l6.1,2.1M225.8,189.9l-0.8,7.3M225,472.2l4.7,3.5M226.5,501.6l-1.4,-6.9M225.1,494.7l2.3,-2.4M227.8,140.1l-2.5,1.3M225.3,247.1l7.3,0.1M234.1,395.4l-8.8,-1.2M225.4,239.1l7.9,0.3M232.6,303.8l-7.1,0.9M225.5,173.5l0.4,-0.2M225.6,131.2l3.1,2.5M227,123.8l-1.4,7.4M227.4,361.4l-1.8,-1.9M226,353.2l-0.4,6.3M226.8,230.6l-1,0.7M225.9,173.3l7.5,1.2M225.9,173.3l0.9,-6.8M225.9,189.8l7.7,1M227,182.4l-1.1,7.4M226,353.2l2,-1.6M226.1,287l1.2,1.3M227,279.9l-0.9,7.1M226.2,386.3l6.1,-1.6M226.5,501.6l3.5,1.5M233.8,370.4l-7.2,-2.4M227.4,361.4l-0.8,6.6M233.1,297.3l-6.4,-2.2M226.7,295.1l0.6,-6.8M229.6,165.1l-2.8,1.4M226.8,230.6l7,1.7M227.7,223.1l-0.9,7.5M228.4,278.9l-1.4,1M232.4,181.5l-5.4,0.9M227,123.8l0.4,-0.2M227.4,492.3l-0.4,-10.2M227,482.1l3.2,-2.5M229.8,434.5l-2.8,-3M227,431.5l5.4,-6.2M229.9,442.2l-2.9,8.2M227.3,455.2l-0.2,-4.7M237.1,449.3l-10,1.2M227.3,455.2l8.6,3.5M234.5,287.8l-7.2,0.5M235.4,125.2l-8,-1.6M227.8,117l-0.4,6.6M233.7,491.3l-6.3,1M227.4,361.4l6.9,-0.8M229.9,337.9l-2.5,-2.5M227.4,335.4l0.9,-6.7M227.7,223.1l1.5,-0.8M227.8,140.1l5.9,2.6M228.7,133.7l-0.9,6.4M228,351.6l7.4,2.7M228,351.6l0.9,-6.5M228.3,328.7l0.9,-0.6M228.4,278.9l7.1,2.1M229.5,271.6l-1.1,7.3M228.5,542.3l4.8,-6M230.4,215.5l-1.9,-1.9M228.5,213.6l0.7,-6.5M229.9,442.2l-1.4,-1.5M228.5,440.7l1.3,-6.2M228.7,133.7l5.5,-1.3M229.9,337.9l-1,7.2M228.9,345.1l8.8,0.6M229.2,207.1l0.5,-0.4M235.9,224.5l-6.7,-2.2M229.2,222.3l1.2,-6.8M229.2,328.1l7.8,1.8M229.2,328.1l0.9,-6.9M230.8,264.4l-1.5,-1.7M229.8,256.5l-0.5,6.2M229.5,271.6l8.3,1.3M230.8,264.4l-1.3,7.2M234.9,167.3l-5.3,-2.2M229.6,165.1l0.5,-7.1M237.7,207.8l-8,-1.1M231.1,199.3l-1.4,7.4M229.7,475.7l0.5,3.9M235.9,469l-6.2,6.7M237,434.6l-7.2,-0.1M229.8,256.5l2.9,-1.6M235.8,441.9l-5.9,0.3M229.9,337.9l6.3,-1.1M232.5,510.4l-2.5,-7.3M239.7,499.2l-9.7,3.9M230.1,158l0.3,-0.3M230.1,321.2l1.9,-1.3M236.7,482.7l-6.5,-3.1M236.3,215l-5.9,0.5M238.2,158.9l-7.8,-1.2M230.4,157.7l1.2,-7.7M230.6,515.4l2.3,5.2M230.6,515.4l1.9,-5M237.5,264l-6.7,0.4M231.1,199.3l1.5,-0.8M231.4,411.7l-0.2,-7.3M231.2,404.4l3.5,-2.9M231.4,411.7l0.3,0.3M232.8,149.3l-1.2,0.7M231.6,422l0.8,3.3M231.6,422l1.7,-2.4M231.7,412l1.6,7.6M231.7,412l8.8,-2M232,319.9l7.2,2.4M232,319.9l1.1,-7M232.3,384.7l3.4,3M233.1,377.9l-0.8,6.8M232.4,425.3l4.1,3.2M232.4,181.5l2.6,2.6M232.4,181.5l1.5,-6.3M242.1,509.6l-9.6,0.8M232.6,247.2l0.9,1.1M232.6,247.2l1,-7.3M232.6,198.5l6.1,2.4M233.9,191.3l-1.3,7.2M234.3,305.5l-1.7,-1.7M232.6,303.8l0.5,-6.5M232.7,254.9l5.8,2.6M232.7,254.9l0.8,-6.6M239.5,151.6l-6.7,-2.3M233.7,142.7l-0.9,6.6M234.5,521.1l-1.6,-0.5M233.1,377.9l-0.2,-0.3M233.8,370.4l-0.9,7.2M235.1,296l-2,1.3M241.5,378.3l-8.4,-0.4M233.2,312.8l8.5,1.3M233.2,312.8l1.1,-7.3M233.3,239.4l0.3,0.5M233.3,239.4l0.5,-7.1M233.3,419.6l6.6,-0.9M233.3,536.3l3.2,-0.2M233.9,175.2l-0.5,-0.7M233.4,174.5l1.5,-7.2M233.5,248.3l7.2,-0.1M233.6,190.8l0.3,0.5M235,184.1l-1.4,6.7M233.6,239.9l7.3,0.5M236.5,141l-2.8,1.7M239.7,497.4l-6,-6.1M233.7,491.3l3.5,-7.9M235.3,369.2l-1.5,1.2M234.9,231.5l-1.1,0.8M233.9,175.2l7.7,0.9M241.4,192.5l-7.5,-1.2M234,465.5l1.9,3.5M235.9,458.7l-1.9,6.8M234.7,401.5l-0.6,-6.1M234.1,395.4l1.3,-1.5M237,135.1l-2.8,-2.7M234.2,132.4l1.3,-7.1M240.7,304.9l-6.4,0.6M234.3,360.6l1.6,1.8M235.4,354.3l-1.1,6.3M240.3,527.6l-5.8,-6.5M234.5,521.1l9.2,-7M235.9,289.4l-1.4,-1.6M235.5,281l-1,6.8M234.7,401.5l4.8,2.4M234.9,167.3l2.3,-1.1M234.9,231.5l7.4,1.6M235.9,224.5l-1,7M235,184.1l5.8,-0.8M241.8,298.2l-6.7,-2.2M235.9,289.4l-0.8,6.6M235.3,369.2l7.5,1.9M235.3,369.2l0.6,-6.8M235.4,125.2l1.7,-7.7M235.4,354.3l1.5,-1.1M242.6,394.7l-7.2,-0.8M235.7,387.7l-0.3,6.2M244.8,126.9l-9.3,-1.6M236.8,280.2l-1.3,0.8M241.4,385.4l-5.7,2.3M235.8,441.9l0.9,0.9M235.8,441.9l1.2,-7.3M235.9,469l0.9,0.2M235.9,224.5l1.6,-1.1M243.2,289l-7.3,0.4M235.9,458.7l0.4,-0.2M235.9,362.4l7.4,-0.5M236.2,336.8l2.6,2.5M237,329.9l-0.8,6.9M238.5,217.2l-2.2,-2.2M236.3,215l1.4,-7.2M244.6,460.5l-8.3,-2M238.6,450.9l-2.3,7.6M238.3,538.1l-1.8,-2M240.3,527.6l-3.8,8.5M237,434.5l-0.5,-6M241.1,426.5l-4.6,2M236.5,141l6.2,2.8M236.5,141l0.5,-5.9M237.1,449.3l-0.4,-6.5M245.2,442.1l-8.5,0.7M237.2,483.4l-0.5,-0.7M236.7,482.7l4.5,-7M236.8,117l0.3,0.5M236.8,469.2l4.4,6.5M243.4,466.6l-6.6,2.6M244,282.3l-7.2,-2.1M237.9,272.9l-1.1,7.3M236.9,353.2l6.9,2M237.7,345.7l-0.8,7.5M245.6,435.2l-8.6,-0.7M237,329.9l0.8,-0.5M237,135.1l8,-2.1M237.1,449.3l1.5,1.6M246.1,118.2l-9,-0.7M243.5,486.2l-6.3,-2.8M237.2,166.2l5,2.3M237.2,166.2l1.1,-7.2M237.5,264l1.4,1.6M237.5,264l1,-6.5M237.5,223.4l6.8,2.4M237.5,223.4l1,-6.2M237.7,345.7l0.3,-0.3M237.7,207.8l0.4,-0.3M237.8,329.4l7.7,1.9M237.8,329.4l1.4,-7.1M238.9,265.6l-1.1,7.3M246.2,274l-8.3,-1.1M238.3,538.1l-0.3,3.1M246.6,347.5l-8.6,-2.1M238,345.4l0.8,-6.1M238.1,207.5l6.9,1.7M238.1,207.5l0.6,-6.6M238.2,158.9l1.3,-7.3M238.3,159l8.1,1.2M238.3,538.1l7.5,1.9M238.5,217.2l6.1,-1.1M238.5,257.5l2.3,-1.3M238.6,450.9l5.7,-0.3M241,199.3l-2.3,1.6M238.8,339.3l6.1,-1.6M238.9,265.6l6.9,-0.3M239.2,322.3l1.9,-1.2M242.1,150.1l-2.6,1.5M239.5,403.9l1,6.1M244,401.1l-4.5,2.8M243,502.7l-3.3,-3.5M239.7,497.4l0,1.8M239.7,497.4l5.4,-7M241.2,420l-1.3,-1.3M239.9,418.7l2.3,-7.1M240.3,527.6l3,-0.4M240.5,410l1.7,1.6M240.7,304.9l2.1,2.1M240.7,304.9l1.1,-6.7M240.7,248.2l1,1.3M241.9,241.6l-1.2,6.6M246.7,258.6l-5.9,-2.4M240.8,256.2l0.9,-6.7M240.8,183.3l1.7,1.5M240.8,183.3l0.8,-7.2M240.9,240.4l1,1.2M242.3,233.1l-1.4,7.3M241,199.3l6.5,2.1M241.4,192.5l-0.4,6.8M241.1,321.1l6,2.4M241.1,321.1l0.7,-6.8M246.8,428.8l-5.7,-2.3M241.2,420l-0.1,6.5M245.2,475.5l-4,0.2M249.1,420.9l-7.9,-0.9M241.7,192.3l-0.3,0.2M241.4,385.4l3.7,2.6M242.1,379l-0.7,6.4M242.1,379l-0.6,-0.7M242.8,371.1l-1.3,7.2M249.7,192.9l-8,-0.6M241.7,192.3l0.8,-7.5M241.7,314.1l1.1,-7.1M249.3,176.6l-7.6,-0.6M241.7,176l0.5,-7.5M241.7,249.5l7.2,0.1M241.8,314.3l8.9,0.6M241.8,298.2l1.7,-1.1M241.9,241.6l7.5,0M242.1,379l8.6,0.6M247.1,152.6l-5,-2.5M242.1,150.1l0.6,-6.3M244,513l-1.9,-3.4M243,502.7l-0.9,6.9M242.2,168.5l2.8,-1.3M247.4,411.5l-5.2,0.1M243.3,232.5l-1,0.6M248.4,184.3l-5.9,0.5M243.9,396.3l-1.3,-1.6M242.6,394.7l2.5,-6.7M242.7,143.8l3.9,-2.6M242.8,307l6.2,-0.9M244.2,370.1l-1.4,1M250.4,501.8l-7.4,0.9M243.2,289l1.1,1.4M244,282.3l-0.8,6.7M244.9,363.7l-1.6,-1.8M243.3,361.9l0.5,-6.7M243.3,232.5l6.9,2.4M244.3,225.8l-1,6.7M243.3,527.2l6,3.1M243.3,527.2l3.4,-6.6M243.4,466.6l4.9,4.1M244.6,460.5l-1.2,6.1M245.1,490.4l-1.6,-4.2M248.4,481l-4.9,5.2M243.5,297.1l6.4,2.2M244.3,290.4l-0.8,6.7M243.7,514.1l3,6.5M244,513l-0.3,1.1M245.6,353.8l-1.8,1.4M243.9,396.3l0.1,4.8M243.9,396.3l7.3,-1.7M244,401.1l5.6,2.4M244,513l8,-1M245.2,281.5l-1.2,0.8M244.2,370.1l7.2,2.5M244.2,370.1l0.7,-6.4M244.3,290.4l7.4,-0.3M244.3,450.6l2,2M244.3,450.6l1.8,-7.1M244.3,225.8l1.2,-0.8M246.4,217.7l-1.8,-1.6M245,209.2l-0.4,6.9M244.9,460.4l-0.3,0.1M246.7,130l-1.9,-3.1M244.8,126.9l1.3,-8.7M244.9,460.4l7.5,1.5M246.3,452.6l-1.4,7.8M252,362.4l-7.1,1.3M247.5,339.8l-2.6,-2.1M245.5,331.3l-0.6,6.4M250.5,170l-5.5,-2.8M245,167.2l1.5,-6.8M245,209.2l1,-0.7M246.6,141.2l-1.6,-8.2M245,133l1.7,-3M252,492.3l-6.9,-1.9M249.9,387.6l-4.8,0.4M248.4,481l-3.2,-5.5M248.3,470.7l-3.1,4.8M246.1,443.5l-0.9,-1.4M245.2,442.1l0.7,-6.5M252.5,283.2l-7.3,-1.7M246.2,274l-1,7.5M245.5,225l7.2,1.5M245.5,225l0.9,-7.3M246.7,330.3l-1.2,1M245.9,435.6l-0.3,-0.4M245.6,435.2l1.2,-6.4M252.9,356.6l-7.3,-2.8M245.6,353.8l1,-6.3M245.8,265.3l1,1.1M245.8,265.3l0.9,-6.7M245.8,540l1.1,2.4M245.8,540l3.7,-4.7M253.5,436.6l-7.6,-1M246,208.5l7.3,1.9M246,208.5l1.5,-7.1M246.1,443.5l7.3,0.9M247.3,117l-1.2,1.2M246.2,274l8,0.6M246.2,274l0.6,-7.6M246.3,452.6l6.9,-0.2M252.3,217l-5.9,0.7M247.1,152.6l-0.7,7.6M253.8,161.3l-7.3,-0.9M246.6,347.5l0.4,-0.4M246.6,141.2l8.4,2.4M246.7,130l8,-0.2M246.7,520.6l6.1,-0.1M246.7,258.6l2.1,-1.2M254.4,331.7l-7.7,-1.4M246.7,330.3l0.4,-6.8M247.8,427.9l-1,0.9M246.8,266.4l7.4,-0.2M255.3,347.7l-8.3,-0.6M247,347.1l0.5,-7.3M247.1,152.6l7.7,-2.7M249.7,322l-2.6,1.5M247.4,411.5l1.8,2M247.4,411.5l2.8,-6.9M253.6,338.4l-6.1,1.4M248.3,201l-0.8,0.4M255.2,429.6l-7.4,-1.7M247.8,427.9l1.3,-7M257.8,119.9l-9.5,-2.9M248.3,201l6.7,1.9M250,193.3l-1.7,7.7M251.7,470.1l-3.4,0.6M248.4,481l2.2,0M250.5,186.2l-2.1,-1.9M248.4,184.3l1.1,-7.5M248.8,257.4l6,2.4M249.9,250.8l-1.1,6.6M249.9,250.8l-1,-1.2M248.9,249.6l1.1,-7.2M251.1,308l-2.1,-1.9M249,306.1l0.9,-6.8M249.2,413.5l0,7.3M249.2,413.5l8.8,-0.5M249.2,420.8l8.3,0.7M249.5,535.3l-0.2,-5M249.3,530.3l2.5,-1.4M249.5,176.8l-0.2,-0.2M249.3,176.6l1.2,-6.6M250,242.4l-0.6,-0.8M250.2,234.9l-0.8,6.7M249.5,535.3l6.7,2.7M249.5,176.8l7.9,1.4M249.6,403.5l0.6,1.1M252.7,396.2l-3.1,7.3M249.7,192.9l0.3,0.4M250.5,186.2l-0.8,6.7M256,324.7l-6.3,-2.7M250.7,314.9l-1,7.1M249.9,299.3l2,-1.2M249.9,250.8l7.6,0M249.9,387.6l0.3,0.2M249.9,387.6l0.8,-8M257.9,243.1l-7.9,-0.7M257.4,194.6l-7.4,-1.3M256.7,405.7l-6.5,-1.1M251.6,233.9l-1.4,1M250.2,387.8l1,6.8M250.2,387.8l8.6,-0.2M250.4,501.8l2.2,1.6M250.4,501.8l1.6,-9.5M253.1,168.6l-2.6,1.4M250.5,186.2l6,-1.2M250.6,481l4.6,6.1M250.6,481l4,-4M250.7,314.9l0.4,-6.9M258.8,316l-8.1,-1.1M250.9,379.5l8.7,1.2M251.4,372.6l-0.5,6.9M257.8,306.6l-6.7,1.4M251.2,394.6l1.5,1.6M251.4,372.6l1.9,-1.3M251.6,233.9l7.1,1.8M252.7,226.5l-1.1,7.4M251.7,470.1l2.2,1.4M251.7,470.1l0.7,-8.2M251.7,290.1l1.1,1.4M252.5,283.2l-0.8,6.9M251.8,528.9l6.7,1.6M253.8,522.2l-2,6.7M258.3,300.5l-6.4,-2.4M252.8,291.5l-0.9,6.6M252,512l2.4,2M252,512l0.6,-8.6M252,492.3l1.7,-0.8M254,364.6l-2,-2.2M252.9,356.6l-0.9,5.8M254.1,218.8l-1.8,-1.8M252.3,217l1,-6.6M253.9,460.8l-1.5,1.1M252.5,283.2l0.7,-0.5M252.6,503.4l7.2,-0.5M252.7,226.5l0.4,-0.4M258.1,396.3l-5.4,-0.1M252.8,520.5l1,1.7M254.4,514l-1.6,6.5M260.3,291.1l-7.5,0.4M254.8,355.2l-1.9,1.4M258.4,170.8l-5.3,-2.2M253.1,168.6l0.7,-7.3M253.1,226.1l7.4,1.4M253.1,226.1l1,-7.3M253.4,444.4l-0.2,8M253.2,282.7l7.8,1.6M253.2,282.7l1.2,-7.7M253.9,460.8l-0.7,-8.3M260.5,452.3l-7.3,0.2M253.3,371.3l7.3,1.9M253.3,371.3l0.7,-6.7M254.2,209.8l-0.9,0.6M253.6,444.3l-0.1,-7.7M253.5,436.6l1.5,-1.1M253.6,444.3l7.6,-0.5M256.2,341l-2.6,-2.6M254.4,331.7l-0.8,6.7M257.6,493.6l-3.9,-2.1M255.2,487.1l-1.5,4.4M261.2,523.1l-7.4,-0.9M253.9,460.8l5.5,0.8M253.9,471.5l0.7,5.5M260.4,469.5l-6.5,2M253.9,161.3l7.3,0.6M253.9,161.3l1.2,-11M254,545l2.2,-7M261,363.8l-7,0.8M260.4,218.2l-6.3,0.6M254.4,275l-0.2,-0.4M254.2,274.6l0.9,-7.3M261.2,211.4l-7,-1.6M255,202.9l-0.8,6.9M254.2,266.2l0.9,1.1M254.2,266.2l0.6,-6.4M255,331.2l-0.6,0.5M254.4,514l3.5,-0.4M262.2,276l-7.8,-1M259.2,479.1l-4.6,-2.1M257.3,132.9l-2.6,-3.1M257.8,119.9l-3.1,9.9M254.8,259.8l2.5,-1.6M254.8,149.9l0.3,0.4M255,143.6l-0.2,6.3M254.8,355.2l7,2.3M254.8,355.2l0.7,-7.2M261.9,437.5l-6.9,-2M255,435.5l0.2,-5.9M256.7,201.8l-1.7,1.1M255,143.6l1.6,-1.6M255,331.2l8,1.8M255,331.2l1,-6.5M262.7,153.7l-7.6,-3.4M262.3,267.2l-7.2,0.1M255.2,487.1l4.5,-2.6M257.4,427.8l-2.2,1.8M255.5,348l-0.2,-0.3M256.2,341l-0.9,6.7M255.5,348l8.7,0.9M256,324.7l2.1,-1.5M257.9,537.2l-1.7,0.8M256.2,341l6.1,-1.5M258.7,187.1l-2.2,-2.1M257.4,178.2l-0.9,6.8M268.7,143.2l-12.1,-1.2M257.3,132.9l-0.7,9.1M256.7,201.8l6,2M256.7,201.8l0.7,-7.2M256.7,405.7l1.3,7.3M257.9,404.6l-1.2,1.1M263.2,260.7l-5.9,-2.5M258,251.5l-0.7,6.7M257.3,132.9l10.7,-1.3M257.4,194.5l8.1,0.9M257.4,194.5l1.3,-7.4M263.3,430.4l-5.9,-2.6M257.6,421.6l-0.2,6.2M257.5,250.8l0.5,0.7M257.5,250.8l0.5,-7.5M265.1,179l-7.6,-0.8M258.4,170.8l-0.9,7.4M257.5,421.5l0.5,-8.5M260.4,502.3l-2.8,-8.7M257.6,493.6l6,-1.6M257.6,421.6l7.2,-0.1M257.8,119.9l0.8,-0.5l9.8,2.7M257.8,306.6l2,1.9M257.8,306.6l0.5,-6.1M257.9,404.6l7.3,1.2M259.3,397.6l-1.4,7M258.7,235.7l-0.8,7.4M262,538.9l-4.1,-1.7M258.5,530.5l-0.6,6.7M257.9,513.6l4.6,7.4M257.9,513.6l3.5,-3.3M263.6,412.7l-5.6,0.3M258,251.5l7.5,0.3M266.1,243.7l-8.1,-0.4M259.3,397.6l-1.2,-1.3M258.1,396.3l1.4,-7.5M258.1,323.2l6.4,2.2M258.9,316l-0.8,7.2M258.3,300.5l2,-1.3M260.9,169.5l-2.5,1.3M261.9,528.4l-3.4,2.1M259.8,234.9l-1.1,0.8M264.5,186.6l-5.8,0.5M259.5,388.8l-0.7,-1.2M260,381.2l-1.2,6.4M259.8,308.5l-1,7.5M267.2,316.8l-8.3,-0.8M259.1,547.2l3.7,-5.4M259.7,484.5l-0.5,-5.4M263.4,476.3l-4.2,2.8M259.3,397.6l6.9,0.5M261.9,454l-2.5,7.6M259.4,461.7l8.9,0.2M259.4,461.7l1,7.8M267.7,390l-8.2,-1.2M259.6,380.7l0.4,0.5M260.6,373.2l-1,7.5M259.7,484.5l4.4,1.6M259.8,234.9l7,1.5M260.5,227.5l-0.7,7.4M266.3,307.8l-6.5,0.7M259.8,502.9l1.6,7.4M260.4,502.3l-0.6,0.6M260,381.2l8.3,0.6M267.3,301.4l-7,-2.2M261.3,292.3l-1,6.9M261.3,292.3l-1,-1.2M260.3,291.1l0.7,-6.8M260.4,502.3l6,-2M262.2,220l-1.8,-1.8M261.2,211.4l-0.8,6.8M261.2,469.8l-0.8,-0.3M260.5,227.5l1.1,-0.8M260.5,452.3l1.4,1.7M260.5,452.3l1.9,-7.1M261.5,372.5l-0.9,0.7M260.9,169.5l5,2M260.9,169.5l0.7,-7.1M262.8,365.8l-1.8,-2M261,363.8l0.8,-6.3M261.7,283.7l-0.7,0.6M262.3,210.5l-1.1,0.9M261.6,162.4l-0.4,-0.5M261.2,161.9l1.5,-8.2M261.2,469.8l2.2,6.5M268.1,467.6l-6.9,2.2M261.2,523.1l0.7,5.3M261.2,523.1l1.3,-2.1M261.2,443.8l1.2,1.4M261.2,443.8l0.7,-6.3M268.3,292.4l-7,-0.1M261.4,510.3l5,1.2M261.5,372.5l7.8,2M262.8,365.8l-1.3,6.7M261.6,226.7l6.8,1.8M262.2,220l-0.6,6.7M269.3,163l-7.7,-0.6M269.7,284.8l-8,-1.1M261.7,283.7l0.5,-7.7M263.4,356.4l-1.6,1.1M261.9,454l7.8,1.4M261.9,437.5l1.1,-1M266.6,530.8l-4.7,-2.4M262,538.9l0.8,2.9M267.7,533.9l-5.7,5M268.3,218.9l-6.1,1.1M262.2,276l0.6,-0.5M262.3,210.5l7,1.6M262.3,210.5l0.4,-6.7M263.5,268.6l-1.2,-1.4M262.3,267.2l0.9,-6.5M265.2,342l-2.9,-2.5M262.3,339.5l0.7,-6.5M269.4,446l-7,-0.8M262.5,521l5.5,-2.1M262.7,203.8l1.6,-1.1M267.7,152.2l-5,1.5M262.8,365.8l7.3,-0.6M269.8,544.7l-7,-2.9M262.8,275.5l8.1,1.4M262.8,275.5l0.7,-6.9M263.8,332.4l-0.8,0.6M269.2,437.4l-6.2,-0.9M263.4,430.4l-0.4,6.1M265.8,259.1l-2.6,1.6M266.2,422.6l-2.9,7.8M272.1,430.2l-8.7,0.2M265.5,477l-2.1,-0.7M263.4,356.4l7.1,2M263.4,356.4l0.8,-7.5M270.6,267.9l-7.1,0.7M265.4,414.5l-1.8,-1.8M263.6,412.7l2.4,-5.6M266.7,494.8l-3.1,-2.8M263.6,492l0.5,-5.9M272.2,333.8l-8.4,-1.4M264.5,325.4l-0.7,7M268,484.2l-3.9,1.9M264.2,348.9l0.2,-0.2M271,204.7l-6.7,-2M265.5,195.4l-1.2,7.3M272.7,350.1l-8.3,-1.4M264.4,348.7l0.8,-6.7M266.1,187.9l-1.6,-1.3M265.1,179l-0.6,7.6M266.7,324l-2.2,1.4M264.8,421.5l1.4,1.1M265.4,414.5l-0.6,7M265.1,179l0.3,-0.3M271.3,340.3l-6.1,1.7M265.2,405.8l0.8,1.3M266.2,398.1l-1,7.7M265.4,414.5l6.3,0.2M272.7,179.6l-7.3,-0.9M265.4,178.7l0.5,-7.2M265.5,251.8l0.6,0.7M266.8,244.6l-1.3,7.2M268.1,484l-2.6,-7M265.5,477l7.5,-4.7M265.7,195.3l7.2,1M266.1,187.9l-0.4,7.4M265.8,259.1l5.6,2.3M266.1,252.5l-0.3,6.6M265.9,171.5l2.7,-1.3M266,407.1l6,0.3M266.1,243.7l0.7,0.9M266.8,236.4l-0.7,7.3M274.1,252.7l-8,-0.2M266.1,187.9l5.9,-1M272.6,423.3l-6.4,-0.7M266.2,398.1l1,-0.6M266.3,307.8l2,2.2M266.3,307.8l1,-6.4M266.4,500.3l0.4,0.3M266.4,500.3l0.3,-5.5M266.4,511.5l2.2,4.3M269.8,507l-3.4,4.5M266.6,530.8l1.1,3.1M273,523.9l-6.4,6.9M266.7,324l6.4,2.8M266.7,324l0.9,-6.6M266.7,494.8l6.6,-3.8M267.8,235.6l-1,0.8M269.8,507l-3,-6.4M266.8,500.6l8.2,-1.1M274.2,244.7l-7.4,-0.1M267,548.5l3.2,-2.7M267.6,317.4l-0.4,-0.6M268.3,310l-1.1,6.8M273.5,400.1l-6.3,-2.6M268.1,390.6l-0.9,6.9M267.3,301.4l1.6,-1.1M267.6,317.4l8.4,0.7M270.3,155l-2.6,-2.8M267.7,152.2l1.9,-7.9M268.1,390.6l-0.4,-0.6M267.7,390l0.9,-7.8M267.7,533.9l3,1.9M267.8,235.6l7.1,1.5M267.8,235.6l0.6,-7.1M268,131.6l1.2,1.3M268.4,122.1l-0.4,9.5M268,484.2l5.3,6.8M273,523.9l-5,-5M268,518.9l0.6,-3.1M268.1,467.6l4.9,4.7M268.3,461.9l-0.2,5.7M268.1,484l5.1,-2.9M268.1,390.6l7.7,-0.1M268.3,461.9l0.8,-1.1M270.8,221.2l-2.5,-2.3M268.3,218.9l1,-6.8M268.3,310l6.7,-0.8M268.6,382.2l-0.3,-0.4M269.3,374.5l-1,7.3M268.3,292.4l1.4,1.6M269.7,284.8l-1.4,7.6M269.9,227.5l-1.5,1M268.4,122.1l2.4,-1.6l10.5,3.9M275.6,513.3l-7,2.5M273.8,172.3l-5.2,-2.1M269.3,163l-0.7,7.2M277.3,383l-8.7,-0.8M268.7,143.2l0.9,1.1M269.2,132.9l-0.5,10.3M268.9,300.3l6.6,2.2M268.9,300.3l0.8,-6.3M269.1,460.8l7.1,2.8M269.1,460.8l0.6,-5.4M280.9,132.6l-11.7,0.3M270.2,438.9l-1,-1.5M272.4,430.7l-3.2,6.7M269.3,374.5l1.7,-1.2M269.3,212.1l0.5,-0.3M270,446.6l-0.6,-0.6M269.4,446l0.8,-7.1M277.1,164.2l-7.7,-1.3M270.3,155l-0.9,7.9M280.4,144.3l-10.8,0M269.7,284.8l0.5,-0.4M270.4,454.8l-0.7,0.6M269.7,294l7.4,-0.8M274.2,507.4l-4.4,-0.4M277.5,213.4l-7.7,-1.6M271,204.7l-1.2,7.1M270.2,545.8l-0.4,-1.1M269.8,544.7l1.8,-7M276.8,229.7l-6.9,-2.2M270.8,221.2l-0.9,6.3M270,446.6l0.4,8.2M270,446.6l7.3,-1.4M270.1,365.2l1.1,1.2M270.5,358.4l-0.4,6.8M270.2,284.4l7.7,1.9M270.2,284.4l0.7,-7.5M277.6,439l-7.4,-0.1M272.5,550.2l-2.2,-4.4M270.3,545.8l8.8,-1.1M278.1,155.5l-7.8,-0.5M277.6,455l-7.2,-0.2M270.5,358.4l1.7,-1.3M272.3,269.8l-1.7,-1.9M271.4,261.4l-0.8,6.5M271.6,537.7l-0.9,-1.9M276.9,531.2l-6.2,4.6M276.8,220l-6,1.2M270.9,276.9l0.3,-0.2M271,373.3l6.8,2M271.2,366.4l-0.2,6.9M272.6,203.7l-1.6,1M279.9,278l-8.7,-1.3M272.3,269.8l-1.1,6.9M271.2,366.4l7.7,-0.7M274.2,343.2l-2.9,-2.9M271.3,340.3l0.9,-6.5M273.7,260.1l-2.3,1.3M278.6,539.5l-7,-1.8M271.7,414.7l2.4,2.4M271.7,414.7l0.3,-7.3M272,407.4l0.9,-0.7M272,186.9l2.3,2M272.8,179.8l-0.8,7.1M272.1,430.2l0.3,0.5M272.6,423.3l-0.5,6.9M272.2,333.8l0.2,-0.2M272.2,357.1l7.7,2M272.2,357.1l0.5,-7M279,269l-6.7,0.8M272.4,430.7l5,2.3M272.4,333.6l8.7,1.1M272.4,333.6l0.7,-6.8M272.6,203.7l6.2,1.8M272.6,203.7l0.3,-7.4M272.6,423.3l0.6,-0.5M273.8,172.3l-1.1,7.3M273.4,349.5l-0.7,0.6M280.5,180.5l-7.7,-0.7M279.7,408.8l-6.8,-2.1M273.5,400.1l-0.6,6.6M273.6,473.4l-0.5,-1.1M273.1,472.3l1.5,-1.5M273.1,523.9l3.8,7.3M278.5,521.3l-5.4,2.6M281.5,197.1l-8.4,-0.9M274.3,188.9l-1.2,7.3M273.1,326.8l2.3,-1.6M273.2,422.8l7.5,1.8M273.2,422.8l0.9,-5.7M277.2,483l-4,-1.9M273.2,481.1l0.4,-7.7M274.3,491.2l-1,-0.2M281.7,351l-8.3,-1.5M273.4,349.5l0.8,-6.3M275.9,398.8l-2.4,1.3M273.6,473.4l8.5,4.8M279.6,262.6l-5.9,-2.5M274.8,253.4l-1.1,6.7M276.2,171.1l-2.4,1.2M274.1,417.1l6.4,-3M274.8,253.4l-0.7,-0.7M274.4,245l-0.3,7.7M275.6,513.3l-1.4,-5.9M277.4,504.3l-3.2,3.1M274.2,244.7l0.2,0.3M274.9,237.1l-0.7,7.6M274.2,343.2l6.3,-1.5M274.3,491.2l2.2,4M277.9,487.4l-3.6,3.8M279.8,188.1l-5.5,0.8M282,245.4l-7.6,-0.4M274.6,470.8l1.6,-7.2M274.6,470.8l9.3,-1.8M281.9,253.4l-7.1,0M274.9,237.1l1.2,-0.9M277.4,504.3l-2.4,-4.8M276.5,495.2l-1.5,4.3M275,309.2l1.4,1.3M275,309.2l0.5,-6.7M282.1,327.3l-6.7,-2.1M275.4,325.2l0.6,-7.1M275.5,302.5l2.3,-1.5M279.7,515.5l-4.1,-2.2M275.8,390.5l0.1,8.3M276.9,389.5l-1.1,1M275.9,398.8l6.3,1.2M283.2,238.1l-7.1,-1.9M276.8,229.7l-0.7,6.5M276.2,318l8.2,0.6M276.4,310.5l-0.2,7.5M281.7,173.5l-5.5,-2.4M277.1,164.2l-0.9,6.9M276.2,463.6l1.1,-0.6M276.4,310.5l7.3,-0.9M283.2,495.8l-6.7,-0.6M276.8,553l5,-5.8M276.8,220l1.8,1.7M276.8,220l0.7,-6.6M278,228.7l-1.2,1M278.9,531.7l-2,-0.5M276.9,389.5l7.6,2.7M277.3,383.1l-0.4,6.4M277.1,293.2l1.2,1.4M277.1,293.2l0.8,-6.9M284.8,164.8l-7.6,-0.7M278.1,155.5l-0.9,8.6M277.9,487.4l-0.7,-4.4M282.1,478.5l-4.9,4.5M277.3,383l0.5,-7.7M277.3,445.2l2,1.7M277.3,445.2l0.3,-6.2M284.2,464.8l-6.9,-1.8M278,455.3l-0.7,7.7M277.3,383.1l9.1,0.2M277.4,433l1.1,4.9M281.5,429.6l-4.1,3.4M281.6,504.9l-4.2,-0.6M277.5,213.4l0.3,-0.3M277.6,439l0.9,-1.1M277.6,455l0.4,0.3M279.3,446.9l-1.7,8.1M284.3,303.3l-6.5,-2.3M277.8,301l0.5,-6.4M277.8,213.1l8.1,0.9M278.8,205.5l-1,7.6M277.8,375.3l2,-1.3M277.9,286.3l0.8,-0.6M284.6,488.1l-6.7,-0.7M284.8,456.5l-6.8,-1.2M278,228.7l7.1,1.2M278,228.7l0.6,-7M279.7,154.4l-1.6,1.1M285.9,294.2l-7.6,0.4M283.6,526.6l-5.1,-5.3M280,517.5l-1.5,3.8M286.1,438.5l-7.6,-0.6M279.1,544.7l-0.5,-5.2M281.4,536.2l-2.8,3.3M278.6,221.7l6.2,-0.6M286,287.2l-7.3,-1.5M278.7,285.7l1.2,-7.7M278.8,205.5l1.7,-1M281.4,536.2l-2.5,-4.5M283.6,526.6l-4.7,5.1M278.9,365.7l1.9,2.3M279.9,359.1l-1,6.6M280.6,270.6l-1.6,-1.6M279,269l0.6,-6.4M281.8,547.2l-2.7,-2.5M279.3,446.9l6.3,-0.5M279.6,262.6l2.8,-1.8M279.7,515.5l0.3,2M279.7,515.5l3,-3.6M285.5,157.1l-5.8,-2.7M279.7,154.4l0.8,-9.8M280.5,414.1l-0.8,-5.3M282,406l-2.3,2.8M286.7,376.7l-6.9,-2.7M280.8,368l-1,6M279.8,188.1l2.3,1.8M279.8,188.1l0.9,-7.4M288,278.9l-8.1,-0.9M279.9,278l0.7,-7.4M280.8,358.5l-0.9,0.6M280,517.5l9.1,2.3M280.5,144.6l-0.1,-0.3M280.4,144.3l2,-9.6M283.8,416l-3.3,-1.9M286.6,206.7l-6.1,-2.2M280.5,204.5l1.1,-7.3M282.8,343.8l-2.3,-2.1M280.5,341.7l0.6,-7M280.5,180.5l1.2,-7M291.9,147.5l-11.4,-2.9M287.3,269.7l-6.7,0.9M280.7,424.6l0.8,5M282.3,423.2l-1.6,1.4M280.7,180.7l7.7,1.1M288.5,360.1l-7.7,-1.6M281.7,351l-0.9,7.5M287.8,367l-7,1M282.4,134.7l-1.5,-2.1M281.3,124.4l-0.4,8.2M281.5,334.3l-0.4,0.4M294.4,124.9l-11,-2.4l-2.1,1.9M281.3,558.1l5,-5M281.4,536.2l4.4,0.3M281.5,197.1l0.6,-7.2M281.5,429.6l5.8,2.3M289.7,335.5l-8.2,-1.2M281.5,334.3l0.6,-7M281.6,197.2l7.6,0.7M282.7,511.9l-1.1,-7M281.6,504.9l1.8,-1.3M281.7,351l0.6,-0.4M284.3,172.2l-2.6,1.3M281.8,547.2l0.8,0.1M281.9,253.4l1.1,1.4M281.9,253.4l1.2,-6.8M289,408.3l-7,-2.3M282,406l0.2,-6M282,245.4l1.1,1.2M283.2,238.1l-1.2,7.3M287.7,188.7l-5.6,1.2M282.1,478.5l0,-0.3M282.1,478.2l3.4,-6.3M282.1,327.3l2.1,-1.6M282.1,478.5l2.5,2.3M282.7,399.6l-0.5,0.4M282.3,350.6l7.9,1.3M282.3,350.6l0.5,-6.8M290.8,425.4l-8.5,-2.2M283.8,416l-1.5,7.2M291.6,134.5l-9.2,0.2M288.1,263.6l-5.7,-2.8M283,254.8l-0.6,6M282.6,547.3l3.7,5.8M287.8,543.3l-5.2,4M282.7,511.9l6.7,0.4M290.6,401l-7.9,-1.4M284.5,392.2l-1.8,7.4M289.1,342.5l-6.3,1.3M283,254.8l7.5,-0.4M283.1,246.6l7.2,-0.1M284.1,237.5l-0.9,0.6M283.4,503.6l-0.2,-7.8M290.5,496.2l-7.2,-0.5M284.6,488.1l-1.3,7.6M289,504l-5.6,-0.4M283.6,526.6l3.4,0.4M283.7,309.6l1.7,1.9M284.3,303.3l-0.6,6.3M288,415.4l-4.2,0.6M285.5,471.9l-1.6,-2.9M284.4,465.2l-0.5,3.8M291,239.1l-6.9,-1.6M284.1,237.5l1,-7.6M284.4,465.2l-0.2,-0.4M284.8,456.5l-0.6,8.3M291,328.1l-6.8,-2.4M284.2,325.7l0.5,-6.7M284.3,172.2l5.2,2.3M285.1,165.2l-0.8,7M284.3,303.3l2,-1.4M284.7,319l-0.3,-0.4M284.4,318.6l1,-7.1M292.2,464.1l-7.8,1.1M286.2,391l-1.7,1.2M284.6,488.1l0.5,-0.3M285.1,487.8l-0.5,-7M284.6,480.8l7.4,-1.2M284.7,319l8.9,0.5M286.6,223l-1.8,-1.9M285.9,214l-1.1,7.1M285.1,456.3l-0.3,0.2M285.1,165.2l-0.3,-0.4M285.5,157.1l-0.7,7.7M292.2,458l-7.1,-1.7M285.1,456.3l2.1,-7.5M285.5,229.6l-0.4,0.3M285.1,165.2l7.4,0.2M285.1,487.8l6.1,0.7M285.4,311.5l6.6,-0.7M291.7,473.3l-6.2,-1.4M291.2,155l-5.7,2.1M292.9,231.4l-7.4,-1.8M285.5,229.6l1.1,-6.6M287.2,448.8l-1.6,-2.4M287.1,440.9l-1.5,5.5M285.8,536.5l2,6.8M288.1,534.1l-2.3,2.4M285.9,294.2l1.4,1.5M285.9,294.2l0.1,-7M293.4,215.1l-7.4,-1.2M286,213.9l0.6,-7.2M286,287.2l1.3,-1M287.1,440.9l-1,-2.4M286.1,438.5l1.7,-4.6M291.3,392.7l-5.1,-1.7M286.2,391l0.4,-7.4M286.3,553.1l1.2,0.3M286.3,301.9l6.6,2.5M287.3,295.7l-1,6.2M286.6,383.6l-0.2,-0.3M286.4,383.3l0.3,-6.6M286.6,206.7l1.7,-1M286.6,383.6l9.1,0.2M293.1,222.2l-6.5,0.8M286.7,376.7l2.3,-1.9M287,527l0.4,0.4M287,527l2.1,-7.1M287.1,440.9l8.3,0.7M287.2,448.8l6.8,0.9M287.3,286.2l7.1,1.8M287.3,286.2l0.8,-7.2M287.3,431.9l0.5,2M290.9,425.4l-3.6,6.5M293.8,294.7l-6.5,1M289.1,271.6l-1.8,-1.9M287.3,269.7l0.8,-6.1M288.1,534.1l-0.7,-6.7M287.4,527.4l8.3,-0.2M290.4,559.9l-2.9,-6.5M287.5,553.4l6.1,-3.1M287.7,562.4l2.7,-2.5M290,190.5l-2.3,-1.8M287.7,188.7l0.7,-6.9M287.8,543.3l4.5,0.9M287.8,367l1.6,1.7M288.5,360.1l-0.7,6.9M296.7,434.9l-8.9,-1M288,415.4l2.1,2.1M288,415.4l2,-5.3M289.1,271.6l-1.1,7.3M288.1,279l8.4,1.1M294.1,535.1l-6,-1M290.8,262.1l-2.7,1.5M288.3,205.7l6.6,1.7M288.3,205.7l1,-7.7M289,181.3l-0.6,0.5M288.5,360.1l1.2,-0.9M289.6,512.2l-0.6,-8.2M290.3,503.2l-1.3,0.8M290,410.1l-1,-1.8M289,408.3l1.6,-7.3M289,181.3l7.6,1.3M289,181.3l0.5,-6.8M289,374.8l7.2,2.3M289.4,368.7l-0.4,6.1M289.1,519.8l0.3,-7.5M291.3,344.5l-2.2,-2M289.1,342.5l0.6,-7M289.1,271.6l6.6,-0.5M289.1,519.9l7.1,0.4M290,190.5l-0.8,7.4M289.3,198l7.5,0.9M296.6,367.7l-7.2,1M289.5,174.5l2.6,-1.4M289.6,512.2l6.7,-0.3M289.7,335.5l0.3,-0.3M289.7,359.2l8.4,1.9M289.7,359.2l0.5,-7.3M295.7,189.6l-5.7,0.9M290,410.1l7,-1M290,335.2l8.8,1.4M290,335.2l1,-7.1M290.8,425.4l-0.7,-7.9M290.1,417.5l8.5,-0.8M290.2,351.9l0.5,-0.5M290.3,503.2l6.5,1.2M290.3,503.2l0.2,-7M290.3,246.5l0.8,0.8M291,239.1l-0.7,7.4M290.4,559.9l3.4,0M291.3,255.2l-0.8,-0.8M291.1,247.3l-0.6,7.1M290.5,496.2l1.5,-1.4M291.9,400.4l-1.3,0.6M290.7,351.4l7.5,0.8M291.3,344.5l-0.6,6.9M296.4,264l-5.6,-1.9M290.8,262.1l0.5,-6.9M290.9,425.4l5,0.8M292.2,238.2l-1.2,0.9M291,328.1l1.6,-1M298.5,247.3l-7.4,0M291.2,155l2.5,2.5M291.2,155l0.7,-7.5M292,494.8l-0.8,-6.3M291.2,488.5l1.3,-8.3M291.2,488.5l6.6,-0.6M298.7,255.2l-7.4,0M291.3,392.7l0.6,7.7M291.3,392.7l4.1,-2M291.3,344.5l7.4,-1.5M293.8,136.6l-2.2,-2.1M294.4,124.9l-2.8,9.6M291.7,473.3l0.3,6.3M291.7,473.3l0.5,-0.4M291.9,147.5l1.3,-1M291.9,400.4l5.4,1.2M292,310.8l2,1.9M292.9,304.4l-0.9,6.4M292,479.6l0.5,0.6M292,494.8l5.7,1.5M297.8,175l-5.7,-1.9M292.7,165.7l-0.6,7.4M292.2,472.9l0.8,-8.1M292.2,472.9l6.1,-0.4M292.2,458l0,6.1M292.2,458l1.9,-1.4M292.2,464.1l0.8,0.7M299.4,240l-7.2,-1.8M292.9,231.4l-0.7,6.8M292.3,544.2l1.3,6.1M295.7,541.4l-3.4,2.8M292.5,165.4l0.2,0.3M293.7,157.5l-1.2,7.9M299.1,481l-6.6,-0.8M292.6,327.1l6.8,2M293.6,319.5l-1,7.6M300.7,166.8l-8,-1.1M295.5,302.8l-2.6,1.6M293.9,230.6l-1,0.8M293,464.8l6.4,0.1M294.5,223.5l-1.4,-1.3M293.1,222.2l0.3,-7.1M302.9,147.7l-9.7,-1.2M293.2,146.5l0.6,-9.9M293.4,215.1l0.6,-0.6M293.6,319.5l0.4,-6.8M293.6,319.5l6.6,0.9M295.4,551.5l-1.8,-1.2M301,157.7l-7.3,-0.2M293.8,136.6l11.5,-0.6M296.3,563.3l-2.5,-3.4M293.8,559.9l2.9,-4.6M293.8,294.7l1.8,1.5M293.8,294.7l0.6,-6.7M301.1,232l-7.2,-1.4M293.9,230.6l0.6,-7.1M294,449.7l0.1,6.9M294,449.7l1.1,-0.9M301.7,310.9l-7.7,1.8M302,215.8l-8,-1.3M294,214.5l0.9,-7.1M294.1,456.6l6.2,1.5M294.1,535.1l1.5,1.8M296.3,527.9l-2.2,7.2M294.4,124.9l1.1,-0.7l7.1,2.3M294.4,288l1.4,-1.1M294.5,223.5l6.5,-0.6M294.9,207.4l1.2,-0.8M295.1,448.8l7.2,1.9M295.9,442.6l-0.8,6.2M295.4,390.7l4,3.2M295.4,390.7l0.9,-6M296.7,555.3l-1.3,-3.8M303,547.4l-7.6,4.1M295.4,441.6l0.5,1M297.2,435.4l-1.8,6.2M301.3,305.2l-5.8,-2.4M295.6,296.2l-0.1,6.6M304.1,294.8l-8.5,1.4M295.6,536.9l0.1,4.5M295.6,536.9l6.4,-2.5M302.1,543.8l-6.4,-2.4M296.3,527.9l-0.6,-0.7M296.2,520.3l-0.5,6.9M296.3,384.7l-0.6,-0.9M295.7,383.8l0.6,-6.6M295.7,271.1l1.5,1.4M296.4,264l-0.7,7.1M295.7,189.6l2.2,2.1M296.7,182.7l-1,6.9M301.8,288.6l-6,-1.7M296.5,280.1l-0.7,6.8M296.7,434.9l-0.8,-8.7M295.9,426.2l1.4,-0.7M295.9,442.6l8.7,1M303,208.2l-6.9,-1.6M296.8,198.9l-0.7,7.7M296.2,563.6l0.1,-0.3M297.1,519.6l-0.9,0.7M296.6,367.7l-0.4,9.4M296.3,563.3l3.7,-0.3M302,529l-5.7,-1.1M296.3,511.9l0.8,7.7M296.3,511.9l0.8,-0.9M304.2,385.2l-7.9,-0.5M302.3,376l-6,1.2M296.4,264l2.4,-1.4M296.9,279.7l-0.4,0.4M298.3,366.2l-1.7,1.5M297.8,175l-1.2,7.6M296.7,555.3l7.5,1.9M304.4,183.4l-7.7,-0.7M296.7,434.9l0.5,0.5M296.8,198.9l0.6,-0.5M297.1,511l-0.3,-6.6M297.3,504l-0.5,0.4M302.2,280.3l-5.3,-0.6M297.2,272.5l-0.3,7.2M297,409.1l1.9,7.4M297.9,407.7l-0.9,1.4M297.1,511l7.6,0.8M303.9,520.3l-6.8,-0.7M297.2,435.4l5.5,-0.3M302.6,271.6l-5.4,0.9M297.3,425.5l6.7,1.1M298.6,416.7l-1.3,8.8M297.9,496.5l-0.6,7.5M297.3,504l7.8,-0.3M297.3,401.6l0.6,6.1M297.3,401.6l2,-1.8M297.4,198.4l7.5,1.4M297.9,191.7l-0.5,6.7M297.7,496.3l2,-6.5M299.7,173.9l-1.9,1.1M299.7,489.8l-1.9,-1.9M299.6,481.4l-1.8,6.5M305.4,497l-7.5,-0.5M297.9,407.7l8.5,0.8M297.9,191.7l5.9,-1.3M298.3,366.2l-0.2,-5.1M298.1,361.1l0.2,-0.3M298.7,343l-0.5,9.2M298.3,366.2l4.4,2.6M298.3,360.8l0,-8.5M298.3,360.8l7.6,-1.5M298.3,352.3l7.1,-0.6M299.5,473.7l-1.2,-1.2M298.3,472.5l1.9,-6.5M298.5,247.3l0.8,0.9M299.4,240l-0.9,7.3M298.6,416.7l0.3,-0.2M298.7,255.2l1.1,1.2M299.3,248.2l-0.6,7M298.8,336.6l0.6,-7.5M298.9,342.8l-0.1,-6.2M298.8,336.6l6.1,-0.5M305.2,265.6l-6.4,-3M299.8,256.4l-1,6.2M303,416.7l-4.1,-0.2M298.9,342.8l4.4,1.2M299.1,481l0.5,0.4M299.1,481l0.4,-7.3M299.3,248.2l8.2,-0.2M299.3,399.8l7.6,1.1M299.3,399.8l0.1,-5.9M299.4,393.9l5.2,-2.5M299.4,240l1.1,-0.7M299.4,329.1l1.3,-0.9M299.4,464.9l0.8,1.1M300.6,458.6l-1.2,6.3M307.3,473.9l-7.8,-0.2M299.6,481.4l5.8,0.5M306.5,489.7l-6.8,0.1M299.7,173.9l5.2,2.2M300.8,166.9l-1.1,7M299.8,256.4l7.9,-0.5M306.6,467.2l-6.4,-1.2M300.2,320.4l0.5,7.8M302.7,318.7l-2.5,1.7M300.6,458.6l-0.3,-0.5M300.3,458.1l2.1,-7.3M300.5,239.3l6.9,1.4M300.5,239.3l0.6,-7.3M308.1,459.4l-7.5,-0.8M300.7,166.8l0.3,-9.1M307.8,328.5l-7.1,-0.3M308,167.1l-7.2,-0.2M301,222.9l1.9,1.8M301,222.9l1,-7.1M302.2,156.8l-1.2,0.9M301.1,232l1.3,-1.1M301.3,305.2l0.4,0.6M304.6,295.1l-3.3,10.1M301.7,310.9l1.6,1.8M301.7,310.9l0,-5.1M310.7,304.1l-9,1.7M301.8,288.6l2.3,6.2M305.1,284.1l-3.3,4.5M302,529l0,5.4M302,529l1.1,-0.9M302,215.8l0.4,-0.4M302,534.4l2.8,2.5M302.1,543.8l1.5,2.4M304.8,536.9l-2.7,6.9M302.2,156.8l3.5,1.1M302.9,147.7l-0.7,9.1M305.1,284.1l-2.9,-3.8M305.9,275.2l-3.7,5.1M302.3,376l3.3,2M302.7,368.8l-0.4,7.2M304.6,443.6l-2.3,7.1M308.1,452.6l-5.7,-1.8M308.9,216.5l-6.5,-1.1M303,208.2l-0.6,7.2M302.4,230.9l5.9,1.7M302.4,230.9l0.5,-6.2M302.6,126.5l2.7,9.5M306.5,123l-3.9,3.5M305.9,275.2l-3.3,-3.6M305.2,265.6l-2.6,6M308.7,321.9l-6,-3.2M302.7,318.7l0.6,-6M304.7,443.4l-2,-8.3M302.7,368.8l5.2,-1.1M304,426.6l-1.2,8.4M309.4,434.8l-6.6,0.2M305.8,145.4l-2.9,2.3M302.9,224.7l6.3,-1.2M303,416.7l3.3,2.9M303,416.7l3.7,-7.7M304.2,207.3l-1.2,0.9M304.5,556.8l-1.5,-9.4M303.6,546.2l-0.6,1.2M303.1,528.1l6.8,1.4M303.1,528.1l0.9,-7.7M307.1,312.5l-3.8,0.2M306.2,347l-2.9,-3M303.3,344l4.2,-5.1M309,546.2l-5.4,0M303.8,190.4l2.4,2M304.4,183.4l-0.6,7M303.9,520.3l1.4,-7.8M311.3,521.5l-7.3,-1.1M304,426.6l2.2,-1.2M304.1,294.8l0.5,0.3M304.1,558.9l0.1,-1.7M304.5,556.8l-0.3,0.4M310.8,209l-6.6,-1.7M304.2,207.3l0.9,-7.3M304.6,391.4l-0.4,-6.2M304.7,384.7l-0.5,0.5M311.7,554.6l-7.2,2.2M312.2,184l-7.7,-0.6M304.5,183.4l0.4,-7.3M304.6,391.4l3.2,2M305.8,295.1l-1.2,0M304.7,384.7l8,1M304.7,384.7l0.9,-6.7M304.7,443.4l4.8,0M305.3,512.5l-0.6,-0.7M305.5,504.1l-0.8,7.7M309.9,536.3l-5.1,0.6M307.5,338.9l-2.6,-2.8M304.9,336.1l2.8,-5.3M306.2,192.4l-1.3,7.4M304.9,176.1l3,-1.4M308,284.2l-2.9,-0.1M305.1,503.7l0.4,0.4M305.4,497l-0.3,6.7M312.5,200.5l-7.4,-0.5M308.5,264.5l-3.3,1.1M310.8,512.5l-5.5,0M306,136.5l-0.7,-0.5M305.4,481.9l0.2,0.2M307.4,474.1l-2,7.8M306.7,353.5l-1.3,-1.8M306.2,347l-0.8,4.7M306,496.4l-0.6,0.6M305.5,504.1l5.3,0.4M307.6,377.2l-2,0.8M305.6,482.1l0.9,7.6M314.6,482.1l-9,0M312.5,148.7l-6.7,-3.3M305.8,145.4l0.2,-8.9M305.8,295.1l5.3,8.5M308.3,293.7l-2.5,1.4M309.2,362.3l-3.3,-3M305.9,359.3l0.8,-5.8M309.5,275.5l-3.6,-0.3M306,136.5l8.4,-2.6M313.5,498.6l-7.5,-2.2M306,496.4l0.8,-6.3M308.8,426.5l-2.6,-1.1M306.3,419.6l-0.1,5.8M311.5,191.4l-5.3,1M310.5,345.5l-4.3,1.5M309.4,418.1l-3.1,1.5M306.4,408.5l0.3,0.5M306.4,408.5l0.5,-7.6M306.8,490.1l-0.3,-0.4M306.6,467.2l1.5,-7.8M307.3,473.9l-0.6,-6.5M314.6,466.4l-7.9,1M309.8,410l-3.1,-1M313.3,353.2l-6.6,0.3M306.8,490.1l6,-0.3M306.9,400.9l0.6,-0.5M312.1,317.5l-5,-5M310.5,309.3l-3.4,3.2M307.4,240.7l0.1,7.3M307.4,240.7l1.5,-1.3M313.3,474.7l-5.9,-0.6M307.5,338.9l2.6,0.4M307.5,248l0.6,0.7M307.5,400.4l2,0.2M307.8,393.4l-0.3,7M311,377.5l-3.4,-0.3M308.4,368.2l-0.8,9M307.7,255.9l1.3,1.5M308.1,248.7l-0.4,7.2M312,336.8l-4.3,-6M307.7,330.8l0.1,-2.3M307.8,393.4l4.2,-1.7M307.8,328.5l0.9,-6.6M314.4,329.3l-6.6,-0.8M308.4,368.2l-0.5,-0.5M309.2,362.3l-1.3,5.4M307.9,174.7l5.6,2.2M308.2,167.4l-0.3,7.3M308,167.1l0.2,0.3M308.7,159.9l-0.7,7.2M310,286.5l-2,-2.3M311,278.5l-3,5.7M316.1,248l-8,0.7M308.1,459.4l0.3,-0.2M308.4,459.2l-0.3,-6.6M310.3,451.1l-2.2,1.5M314.1,167.6l-5.9,-0.2M308.3,293.7l7,0.6M310,286.5l-1.7,7.2M308.9,239.4l-0.6,-6.8M308.3,232.6l3,-2.3M315.6,371.3l-7.2,-3.1M314.2,459.9l-5.8,-0.7M311.8,271.9l-3.3,-7.4M308.5,264.5l0.7,-1M308.7,321.9l3.2,-2.1M310.7,429.4l-1.9,-2.9M308.8,426.5l7.3,-4.4M308.9,216.5l1.2,5.7M308.9,216.5l3.2,-3.5M316.6,239.8l-7.7,-0.4M309,546.2l2.7,8.4M309,546.2l2.8,-2.3M309.2,263.5l-0.2,-6.1M317.5,255.2l-8.5,2.2M311.3,230.3l-2.1,-6.8M310.1,222.2l-0.9,1.3M309.2,362.3l1.1,-0.3M317.3,264l-8.1,-0.5M309.4,418.1l6,2.1M309.4,418.1l2.1,-6.1M309.4,434.8l1.5,1.6M310.7,429.4l-1.3,5.4M309.5,443.4l0.8,7.7M310.3,442.9l-0.8,0.5M314.4,404.9l-4.9,-4.3M309.5,400.6l5.6,-3M311,278.5l-1.5,-3M311.8,271.9l-2.3,3.6M311.5,412l-1.7,-2M309.8,410l4.6,-5.1M309.9,536.3l1.7,1.4M309.9,536.3l0,-6.8M310,286.5l6.3,0M317.4,529.4l-7.3,-0.1M310.1,529.3l1.2,-7.8M310.5,345.5l-0.4,-6.2M311.9,338l-1.8,1.3M318.1,222l-8,0.2M310.3,362l7.3,1.2M314.3,354.1l-4,7.9M316.6,443.9l-6.3,-1M310.9,436.4l-0.6,6.5M314.8,451.9l-4.5,-0.8M313.4,346.6l-2.9,-1.1M316.2,312.7l-5.7,-3.4M310.5,309.3l0.2,-5.2M311.1,303.6l-0.4,0.5M310.7,429.4l6.6,0.7M312.3,506.3l-1.5,-1.8M313.5,498.6l-2.7,5.9M311.8,513.3l-1,-0.8M312.3,506.3l-1.5,6.2M312.1,213l-1.3,-4M313.9,204.5l-3.1,4.5M317.8,435.3l-6.9,1.1M311,278.5l5.5,1.7M314.1,382.5l-3.1,-5M315.5,372.6l-4.5,4.9M314.9,302.8l-3.8,0.8M311.7,521.3l-0.4,0.2M317.3,231.1l-6,-0.8M311.5,412l3.4,0.7M314.2,197.4l-2.7,-6M313.7,187.8l-2.2,3.6M311.6,537.7l0.2,6.2M311.6,537.7l5.6,-1.7M311.7,521.3l5.6,0.5M311.8,513.3l-0.1,8M314.2,555.5l-2.5,-0.9M311.8,543.9l6.2,2.1M317.9,271.4l-6.1,0.5M311.8,513.3l6.3,-0.2M317.9,322.8l-6,-3M312.1,317.5l-0.2,2.3M311.9,338l6.7,2.7M311.9,338l0.1,-1.2M312,336.8l3.9,-5.2M314.1,393.1l-2.1,-1.4M312.7,385.7l-0.7,6M316.2,312.7l-4.1,4.8M318.2,214.7l-6.1,-1.7M313.7,187.8l-1.5,-3.8M312.2,184l2.2,-5.1M318.3,506.5l-6,-0.2M313.9,204.5l-1.4,-4M314.2,197.4l-1.7,3.1M312.5,148.7l0.7,2.9M312.5,148.7l9.5,-6.4M314,384.5l-1.3,1.2M314.3,498.2l-1.5,-8.4M320.5,490.7l-7.6,-1M314.7,482.2l-1.8,7.5M313.3,353.2l1,0.9M313.4,346.6l-0.1,6.6M313.3,474.7l1.3,7.4M313.3,474.7l0.7,-0.5M313.4,346.6l4.7,-2.2M314.4,178.9l-0.9,-2M313.5,176.9l3,-5.8M314.3,498.2l-0.8,0.4M313.7,563.7l1.4,-0.5M313.7,187.8l8.1,1.2M320.6,205.9l-6.7,-1.4M321.3,475.2l-7.3,-1M315.7,467.5l-1.7,6.7M314,384.5l5.2,2M314,384.5l0.1,-2M319.7,378.1l-5.6,4.4M314.1,167.6l2.4,3.5M317.7,160.5l-3.6,7.1M314.1,393.1l1,4.5M314.1,393.1l5.2,-1.6M315.2,563l-1,-7.5M315,555l-0.8,0.5M314.6,466.4l-0.4,-6.5M315.1,459.2l-0.9,0.7M314.2,197.4l7.2,-1.1M314.3,498.2l4.1,0.6M318,355l-3.7,-0.9M315.9,331.6l-1.5,-2.3M318,323l-3.6,6.3M322.5,180l-8.1,-1.1M314.4,133.9l5.5,2.9M314.5,127.6l-0.1,6.3M314.4,404.9l1.3,0M314.6,466.4l1.1,1.1M320.1,482.5l-5.4,-0.3M315.1,459.2l-0.3,-7.3M316.5,450.6l-1.7,1.3M315.5,303l-0.6,-0.2M315.3,294.3l-0.4,8.5M316.9,416.3l-2,-3.6M319.4,408.3l-4.5,4.4M321.9,459.2l-6.8,0M315.1,397.6l2.8,1.6M315.1,563.2l0.8,1.8M322.4,561.5l-7.2,1.5M315.8,293.9l-0.5,0.4M315.4,420.2l0.7,1.9M315.4,420.2l1.5,-3.9M319.7,378.1l-4.2,-5.5M315.6,371.3l-0.1,1.3M315.5,303l2.6,9.1M322,302.2l-6.5,0.8M315.6,371.3l1.6,-1.5M321.8,467.4l-6.1,0.1M319.3,408l-3.6,-3.1M315.7,404.9l2.2,-5.7M321.9,295.7l-6.1,-1.8M315.8,293.9l1.3,-6.5M315.9,331.6l3.6,1.6M316.1,422.1l2.4,1.8M316.1,248l1.6,1.6M316.6,239.8l-0.5,8.2M316.2,312.7l1.9,-0.6M316.3,286.5l0.8,0.9M316.5,280.2l-0.2,6.3M316.5,280.2l1.4,-1.1M318.8,552.5l-2.3,1.5M322.4,453.6l-5.9,-3M317.7,445l-1.2,5.6M316.5,171.1l6,-0.3M316.6,443.9l1.1,1.1M318.2,435.8l-1.6,8.1M325.2,240.6l-8.5,-0.9M316.7,239.7l0.6,-8.6M317.7,160.5l-1,-2.1M316.9,416.3l5.4,-0.8M323.2,287.4l-6.1,0M317.2,536l2.9,1.5M317.5,529.5l-0.3,6.5M325.2,370.9l-8,-1.1M317.2,369.8l0.4,-6.6M317.3,430.1l0.5,5.2M317.3,430.1l1.4,-2M317.4,529.4l-0.1,-7.6M317.3,521.8l0.4,-0.2M318.3,264.9l-1,-0.9M318.2,255.9l-0.9,8.1M317.3,231.1l1,-0.8M317.5,529.5l6.8,0M318.2,255.9l-0.7,-0.7M317.5,255.2l0.2,-5.6M317.6,363.2l0.5,-0.5M322.5,163.4l-4.8,-2.9M317.7,521.6l6.2,1.7M317.7,521.6l2.1,-6.8M323.6,444.7l-5.9,0.3M324.9,248l-7.2,1.6M317.8,435.3l0.4,0.5M317.9,271.4l0.4,0.5M317.9,271.4l0.4,-6.5M317.9,399.2l0.7,-0.1M323.8,280.1l-5.9,-1M318.3,271.9l-0.4,7.2M321.7,316.9l-3.8,5.9M322.3,326l-4.3,-3M318.5,355.6l-0.5,-0.6M318,355l2.9,-7.5M318.1,513.1l1.7,1.7M318.3,506.5l-0.2,6.6M318.1,344.4l2.8,3.1M318.6,340.7l-0.5,3.7M318.1,362.7l7.4,0.6M318.5,355.6l-0.4,7.1M319.7,312.5l-1.6,-0.4M318.1,222l1.1,1.4M318.2,214.7l-0.1,7.3M318.2,435.8l4.6,0.6M324.7,257.3l-6.5,-1.4M318.2,214.7l1.1,-0.8M318.3,264.9l5.8,-0.8M318.3,506.5l0.4,-0.4M318.3,230.3l8.6,2.4M319.2,223.4l-0.9,6.9M318.3,271.9l6.7,0.5M318.4,498.8l0.3,7.3M319.8,497.8l-1.4,1M318.5,423.9l0.2,4.2M318.5,423.9l5.8,-2.9M325.9,355.8l-7.4,-0.2M318.6,340.7l0.7,-0.7M318.6,399.1l4.5,3.3M318.6,399.1l3.4,-4.9M318.7,428.1l6.7,1.7M318.7,506.1l6.9,0.5M318.8,552.5l0.6,-4.6M319.2,223.4l7.3,-0.9M319.2,386.5l0.1,5M319.2,386.5l3.5,-1.7M319.5,333.2l-0.2,6.8M326.1,339.7l-6.8,0.3M319.3,391.5l2.6,2.2M319.3,213.9l8.3,1.1M319.3,213.9l1.3,-8M320.1,537.5l-0.8,6.9M319.3,408l3.8,-5.6M319.4,408.3l1.6,1.1M319.5,333.2l2.5,-1.5M321.7,316.9l-2,-4.4M323.8,308.9l-4.1,3.6M322.9,378.7l-3.2,-0.6M319.8,514.8l5.2,-0.6M319.8,497.8l7.3,1.7M319.8,497.8l0.7,-7.1M322,142.3l-2.1,-5.5M327.3,129l-7.4,7.8M324,536.6l-3.9,0.9M320.1,482.5l0.7,0.8M322.1,476.2l-2,6.3M320.5,490.7l0.9,-0.7M320.6,205.9l0.9,-0.6M320.8,483.3l0.6,6.7M320.8,483.3l8.6,-0.2M320.9,347.5l5,0.7M321,409.4l1.3,6.1M327.9,408.8l-6.9,0.6M322.1,476.2l-0.8,-1M321.8,467.4l-0.5,7.8M321.4,490l5.7,0.5M321.4,196.3l1.4,1.6M321.4,196.3l0.4,-7.3M321.5,205.3l8,2.5M321.5,205.3l1.3,-7.4M327.2,318.3l-5.5,-1.4M322.2,467.1l-0.4,0.3M321.8,189l0.4,-0.4M321.9,393.7l0.1,0.5M325.5,389.9l-3.6,3.8M322,302.2l-0.1,-6.5M321.9,295.7l1.9,-1.4M321.9,459.2l0.3,7.9M322,302.2l1.2,0.8M322,142.3l1.9,1.2M327,397.3l-5,-3.1M322,331.7l5.2,1.7M322.3,326l-0.3,5.7M322.1,476.2l5.9,-0.2M322.2,459l6.8,0.4M322.2,459l0.2,-5.4M327.9,468l-5.7,-0.9M322.2,188.6l9.5,1.7M323.6,181.2l-1.4,7.4M322.3,415.5l2.1,1.6M322.3,326l5.1,-1.7M325.3,564.8l-2.9,-3.3M322.4,561.5l0.3,-0.8M322.4,453.6l2,-1.8M322.5,163.4l0,7.4M322.5,163.4l2.4,-0.8M322.5,170.8l0.9,0.7M322.5,180l1.1,1.2M322.5,180l0.9,-8.5M322.7,384.8l1.9,1.2M322.9,378.7l-0.2,6.1M324.6,438.2l-1.8,-1.8M325.4,429.8l-2.6,6.6M322.8,197.9l7.7,0.1M322.9,378.7l1.9,-1.3M323.1,402.4l3.9,-5.1M328.8,406.3l-5.7,-3.9M323.2,303l0.6,5.9M329.4,301.3l-6.2,1.7M324.3,288.2l-1.1,-0.8M323.8,280.1l-0.6,7.3M331.4,171.1l-8,0.4M323.6,181.2l7.4,-0.8M324.1,445.2l-0.5,-0.5M323.6,444.7l1,-6.5M324.9,279.3l-1.1,0.8M323.8,294.3l5.9,2.1M324.3,288.2l-0.5,6.1M323.8,308.9l6.1,1.8M324.3,529.5l-0.4,-6.2M323.9,523.3l1.9,-1.4M324,536.6l4.6,3.4M324,536.6l1.1,-6.4M326.2,265.8l-2.1,-1.7M324.1,264.1l0.6,-6.8M330.9,445.4l-6.8,-0.2M324.4,451.8l-0.3,-6.6M325.1,530.2l-0.8,-0.7M330,287.6l-5.7,0.6M327.4,423.6l-3.1,-2.6M324.3,421l0.1,-3.9M329.8,452.8l-5.4,-1M327.5,415.1l-3.1,2M324.6,386l0.9,3.9M330.8,384.4l-6.2,1.6M327.8,437.6l-3.2,0.6M327.5,255.6l-2.8,1.7M326.6,378.1l-1.8,-0.7M324.8,377.4l0.4,-6.5M331.2,281.2l-6.3,-1.9M325.5,273l-0.6,6.3M327.6,250.2l-2.7,-2.2M325.2,240.6l-0.3,7.4M325,514.2l1,0.7M325.6,506.6l-0.6,7.6M325,272.4l0.5,0.6M325,272.4l1.2,-6.6M330.5,529.6l-5.4,0.6M325.2,370.9l0.4,-0.4M325.9,240l-0.7,0.6M326.9,429.2l-1.5,0.6M325.5,273l7.1,0.4M330.4,391.9l-4.9,-2M325.6,370.5l-0.1,-7.2M326.5,362.3l-1,1M325.6,506.6l0.7,-0.6M325.6,370.5l7.3,0.1M325.8,521.9l5.9,1.6M326,514.9l-0.2,7M325.9,355.8l0,-7.6M326.6,347.7l-0.7,0.5M325.9,355.8l0.4,0.5M334.6,242l-8.7,-2M325.9,240l1,-7.3M326,514.9l6.5,-0.1M327.1,340.7l-1,-1M326.1,339.7l1.1,-6.3M326.2,265.8l5.3,-0.9M333.3,508.3l-7,-2.3M327.1,499.5l-0.8,6.5M326.3,356.3l0.2,6M333,355.1l-6.7,1.2M326.5,222.5l1.9,1.7M327.6,215l-1.1,7.5M329.7,362.8l-3.2,-0.5M333.4,348.5l-6.8,-0.8M327.1,340.7l-0.5,7M330.8,383.9l-4.2,-5.8M332.7,376.1l-6.1,2M327.3,129l-0.5,-1.8M327.9,232l-1,0.7M326.9,429.2l3.9,2.4M327.4,423.6l-0.5,5.6M329.6,397l-2.6,0.3M327.1,499.5l0.4,-0.3M327.9,491.5l-0.8,-1M329.4,483.1l-2.3,7.4M334.2,340.5l-7.1,0.2M327.2,318.3l0.2,6M328.6,317.3l-1.4,1M329.2,332.3l-2,1.1M327.3,129l2.1,0.9M327.4,423.6l5.7,-1.5M329.5,325.9l-2.1,-1.6M332.3,416.3l-4.8,-1.2M327.9,408.8l-0.4,6.3M333.5,499.5l-6,-0.3M327.5,499.2l0.4,-7.7M331.9,258.1l-4.4,-2.5M327.6,250.2l-0.1,5.4M327.6,215l1.3,-1M334.5,247.6l-6.9,2.6M331.4,440.9l-3.6,-3.3M331,432.8l-3.2,4.8M328.5,408l-0.6,0.8M336.3,233l-8.4,-1M328.4,224.2l-0.5,7.8M327.9,468l0.1,8M328.4,467.7l-0.5,0.3M334.7,491.5l-6.8,0M328,476l0.3,0.3M328.9,155.4l-0.7,3.9M328.3,476.3l1.2,6.8M328.3,476.3l6.3,-1.4M335.6,223.1l-7.2,1.1M328.4,540.4l0.2,-0.4M328.4,467.7l7,1.9M328.4,467.7l2.3,-6.8M328.5,408l6.1,3.6M328.5,408l0.3,-1.7M335.8,319.1l-7.2,-1.8M328.6,317.3l1.3,-6.6M328.6,540l4,-0.9M328.9,214l6.6,2.7M328.9,214l0.6,-6.2M329,406.1l1.5,-8.2M337.1,404.4l-8.1,1.7M330.7,460.9l-1.7,-1.5M329.8,452.8l-0.8,6.6M334.4,334.4l-5.2,-2.1M329.5,325.9l-0.3,6.4M329.4,301.3l2.7,2.3M329.7,296.4l-0.3,4.9M329.5,207.8l0.9,-0.8M329.5,483.1l5.4,0.9M334.5,324.8l-5,1.1M330.5,397.9l-0.9,-0.9M329.6,397l0.8,-5.1M331.6,294.7l-1.9,1.7M333.3,367.5l-3.6,-4.7M334,360l-4.3,2.8M331,451.9l-1.2,0.9M329.8,130l5.1,2.1M329.9,154.6l1.9,0M330.3,310.5l-0.4,0.2M331.3,288.9l-1.3,-1.3M331.2,281.2l-1.2,6.4M330.3,310.5l6.8,1.7M332.1,303.6l-1.8,6.9M330.9,391.5l-0.5,0.4M330.4,207l8.4,0.3M330.7,198.2l-0.3,8.8M330.5,529.6l2,2M330.5,529.6l1.2,-6.1M330.5,397.9l2.3,0.5M330.5,198l0.2,0.2M330.5,198l1.2,-7.7M331.8,165.4l-1.2,-1.1M330.7,460.9l4.4,-0.3M330.7,198.2l9.2,1.1M330.8,384.4l0.3,0.4M330.8,383.9l0,0.5M334.8,378.6l-4,5.3M330.8,431.6l0.2,1.2M335.4,428.1l-4.6,3.5M331.1,384.8l-0.2,6.7M336.5,391.1l-5.6,0.4M330.9,445.4l0.7,0.7M330.9,445.4l0.5,-4.5M331,451.9l5.2,2.1M331,451.9l0.6,-5.8M336.6,437.6l-5.6,-4.8M331,180.4l0.9,0.7M331.6,171.4l-0.6,9M338.3,386.3l-7.2,-1.5M331.2,281.2l0.7,-0.4M331.3,288.9l0.3,5.8M338.1,288.1l-6.8,0.8M331.4,171.1l0.2,0.3M331.4,171.1l0.4,-5.7M331.4,440.9l5.2,-3.3M332.5,265.8l-1,-0.9M331.9,258.1l-0.4,6.8M331.6,171.4l8.7,1.2M331.6,446.1l6.4,-0.1M337.7,296l-6.1,-1.3M331.7,190.3l0.7,-0.6M334,521.8l-2.3,1.7M331.8,165.4l7.5,-4M337.2,281.6l-5.3,-0.8M331.9,280.8l0.7,-7.4M331.9,181.1l0.5,8.6M331.9,181.1l7.9,-0.6M336.5,256.5l-4.6,1.6M336.1,303.1l-4,0.5M332.3,416.3l0.8,5.8M335,413.8l-2.7,2.5M332.4,189.7l7,0.5M332.5,531.6l0.1,7.5M332.5,531.6l8,-2.4M333.1,515.5l-0.6,-0.7M333.8,509l-1.3,5.8M332.5,265.8l0.3,7.4M332.5,265.8l6.4,-0.5M332.6,273.4l0.2,-0.2M332.6,539.1l0.8,0.4M334.8,378.6l-2.1,-2.5M332.7,376.1l0.2,-5.5M337.3,404l-4.5,-5.6M338,395.3l-5.2,3.1M332.8,273.2l6.8,0.4M337.9,371.2l-5,-0.6M333.3,367.5l-0.4,3.1M334.6,356.6l-1.6,-1.5M333,355.1l0.4,-6.6M333.1,515.5l0.9,6.3M341.3,515l-8.2,0.5M333.1,422.1l1.8,1M336.9,363.9l-3.6,3.6M333.8,509l-0.5,-0.7M334.3,500.2l-1,8.1M333.6,348.2l-0.2,0.3M342.4,537l-9,2.5M334.3,500.2l-0.8,-0.7M335.5,492.4l-2,7.1M333.6,348.2l7.6,0.8M333.6,348.2l0.8,-7.4M333.8,509l7.7,-1M339.3,523.7l-5.3,-1.9M334,360l2.9,3.9M334.6,356.6l-0.6,3.4M334.4,340.8l-0.2,-0.3M334.4,334.4l-0.2,6.1M334.3,500.2l7.3,1.1M341.7,341.6l-7.3,-0.8M336.6,333l-2.2,1.4M337.6,250.5l-3.1,-2.9M334.6,242l-0.1,5.6M334.5,324.8l2.3,2.2M335.8,319.1l-1.3,5.7M334.6,474.9l1.6,1.6M335.4,469.6l-0.8,5.3M341,356.3l-6.4,0.3M335,413.8l-0.4,-2.2M334.6,411.6l3.2,-4.8M335.5,241.1l-0.9,0.9M335.5,492.4l-0.8,-0.9M334.9,484l-0.2,7.5M334.8,378.6l4.2,0.6M335.9,425.4l-1,-2.3M339,419.6l-4.1,3.5M335.6,483.6l-0.7,0.4M336,136.1l-1.1,-4M335.9,130.8l-1,1.3M335,413.8l3.8,1.4M336.2,461.4l-1.1,-0.8M336.2,454l-1.1,6.6M335.4,137.9l0.6,-1.8M335.4,469.6l1.5,-1M339.3,431.9l-3.9,-3.8M335.4,428.1l0.5,-2.7M335.6,223.1l-0.1,-6.4M335.5,216.7l3.4,-2.5M335.5,241.1l9.2,1M335.5,241.1l0.8,-8.1M342.8,492.7l-7.3,-0.3M342,484.2l-6.4,-0.6M335.6,483.6l0.6,-7.1M335.6,223.1l1.3,1.2M335.8,319.1l1,-0.7M344,425.4l-8.1,0M339.3,136.4l-3.3,-0.3M338.5,304.7l-2.4,-1.6M336.1,303.1l1.6,-7.1M338.7,452.6l-2.5,1.4M342.5,476l-6.3,0.5M336.2,461.4l0.7,7.2M343,460.6l-6.8,0.8M336.3,233l0.3,-0.2M339.4,258.9l-2.9,-2.4M336.5,256.5l1.1,-6M338,395.3l-1.5,-4.2M336.5,391.1l2.4,-3.8M336.6,232.8l8.6,0.5M336.9,224.3l-0.3,8.5M336.6,437.6l1,0.1M341.9,334.1l-5.3,-1.1M336.8,327l-0.2,6M336.8,318.4l5.7,1.6M336.8,318.4l0.3,-6.2M342.3,325.6l-5.5,1.4M342.2,469.5l-5.3,-0.9M336.9,363.9l3.9,0.1M336.9,224.3l7.1,-1M339,310.7l-1.9,1.5M337.8,406.8l-0.7,-2.4M337.1,404.4l0.2,-0.4M338.1,288.1l-0.9,-6.5M339.2,280.1l-2,1.5M340.1,401.8l-2.8,2.2M337.6,250.5l5.6,-1M337.6,437.7l0.4,8.3M338.3,437.3l-0.7,0.4M338.1,295.7l-0.4,0.3M342.3,409.6l-4.5,-2.8M340.5,374.6l-2.6,-3.4M337.9,371.2l3.6,-5.1M340.8,396.6l-2.8,-1.3M338.7,446.5l-0.7,-0.5M344.6,297l-6.5,-1.3M338.8,288.6l-0.7,7.1M338.1,288.1l0.7,0.5M338.3,386.3l0.6,1M339,379.2l-0.7,7.1M338.3,437.3l3.8,0.7M339.3,431.9l-1,5.4M338.5,304.7l0.5,6M344,302.7l-5.5,2M338.7,452.6l0,-6.1M342.1,445.8l-3.4,0.7M338.7,452.6l4.5,2.1M338.8,288.6l5.4,-0.6M338.8,415.2l0.2,4.4M342,413.6l-3.2,1.6M338.9,214.2l-0.1,-6.9M338.8,207.3l0.3,-0.2M343.2,388.2l-4.3,-0.9M340.1,266.4l-1.2,-1.1M339.4,258.9l-0.5,6.4M338.9,214.2l6.5,2.8M339,379.2l1.4,-1M342.9,421l-3.9,-1.4M344.6,311.8l-5.6,-1.1M348.8,208.2l-9.7,-1.1M339.9,199.3l-0.8,7.8M339.2,280.1l5.6,2.2M339.2,280.1l0.6,-6.3M339.3,523.7l1.8,3.8M343,518l-3.7,5.7M339.3,431.9l4.6,-2M339.3,161.4l2.8,1.3M339.4,258.9l6.4,-1M340.4,198.9l-1,-8.7M339.4,190.2l1.1,-1M339.8,273.8l-0.2,-0.2M340.1,266.4l-0.5,7.2M339.8,273.8l6.7,0.3M339.8,180.5l1,1.2M340.9,173.5l-1.1,7M340.4,198.9l-0.5,0.4M346,265.7l-5.9,0.7M345.7,403.5l-5.6,-1.7M340.1,401.8l0.7,-5.2M340.3,172.6l0.6,0.9M342.1,162.7l-1.8,9.9M340.4,378.2l2.9,0.9M340.5,374.6l-0.1,3.6M340.4,198.9l7.1,-0.2M340.5,374.6l4.5,-3M342.4,537l-1.9,-7.8M341.1,527.5l-0.6,1.7M348.8,190l-8.3,-0.8M340.8,181.7l-0.3,7.5M340.8,364l0.7,1M341.7,357l-0.9,7M348.8,181.7l-8,0M341.6,396.2l-0.8,0.4M340.9,173.5l8.7,0.1M341,356.3l0.7,0.7M341.4,349.3l-0.4,7M347.9,526.8l-6.8,0.7M341.2,349l0.2,0.3M341.2,349l1,-6.9M343,518l-1.7,-3M341.3,515l1,-6M341.4,349.3l7.2,0.3M341.5,508l0.8,1M341.5,508l0.1,-6.7M345.1,370.8l-3.6,-4.7M341.5,366.1l0,-1.1M341.5,365l5.6,-0.8M344.2,498.6l-2.6,2.7M346.4,397.9l-4.8,-1.7M341.6,396.2l2.6,-5.7M342.2,342.1l-0.5,-0.5M341.9,334.1l-0.2,7.5M341.7,357l6.3,0.4M343.9,333l-2,1.1M342,413.6l4.4,2.9M342.3,409.6l-0.3,4M344.1,490.2l-2.1,-6M344.1,481.1l-2.1,3.1M342.1,438l2,4.7M346.2,435.8l-4.1,2.2M342.1,162.7l3.6,-0.6M346.5,449.3l-4.4,-3.5M344.1,442.7l-2,3.1M343.6,473.5l-1.4,-4M345.2,465.4l-3,4.1M342.2,342.1l6.5,-0.5M342.3,509l7.2,0.6M342.3,409.6l4.2,-2.5M342.3,325.6l2.7,2.5M342.3,325.6l0.2,-5.6M342.4,537l2.1,1.3M344.1,481.1l-1.6,-5.1M343.6,473.5l-1.1,2.5M343.7,319.3l-1.2,0.7M342.8,492.7l1.4,5.9M342.8,492.7l1.3,-2.5M344,425.4l-1.1,-4.4M346.4,416.5l-3.5,4.5M343,518l6.1,0.4M345.2,465.4l-2.2,-4.8M343,460.6l1.4,-3.3M344.4,457.3l-1.2,-2.6M346.5,449.3l-3.3,5.4M343.2,388.2l1,2.3M346.5,384.6l-3.3,3.6M345.8,251.6l-2.6,-2.1M344.7,242.1l-1.5,7.4M346.5,383.2l-3.2,-4.1M343.3,379.1l4.9,-3.7M343.6,473.5l8.1,0.1M343.7,319.3l6.5,1M343.7,319.3l0.9,-7.5M343.9,333l5.3,2.9M343.9,333l1.1,-4.9M346.2,435.8l-2.3,-5.9M343.9,429.9l0.8,-1.5M344.3,425.7l-0.3,-0.3M344,302.7l2.5,2.3M344.6,297l-0.6,5.7M344,223.3l1.7,2M344,223.3l1.4,-6.3M344.1,481.1l7.6,-0.3M347.6,442.3l-3.5,0.4M350.6,489.3l-6.5,0.9M350.9,500.2l-6.7,-1.6M344.2,390.5l5.2,2.4M344.2,288l2.1,1.9M344.2,288l0.6,-5.7M344.7,428.4l-0.4,-2.7M351.4,422l-7.1,3.7M351.7,456.9l-7.3,0.4M344.8,538.9l-0.3,-0.6M344.5,538.3l2.3,-2.1M345.9,311.1l-1.3,0.7M344.6,297l0.9,-0.6M345.5,241.3l-0.8,0.8M350.4,429.8l-5.7,-1.4M344.8,282.3l2.2,-1.7M345,328.1l5.2,-1.7M348.2,375.4l-3.2,-3.8M345,371.6l0.1,-0.8M345.1,370.8l4.3,-2.5M345.2,233.3l0.3,8M345.2,233.3l0.5,-8M345.2,233.3l8.8,-0.4M345.2,465.4l7.4,0.7M347.5,215.8l-2.1,1.2M345.5,296.4l6,1.4M345.5,296.4l0.8,-6.5M353.2,243.1l-7.7,-1.8M345.7,403.5l1,3.3M347.4,400.3l-1.7,3.2M345.7,225.3l8.9,-0.7M345.7,162.1l3.7,2.6M346.9,159l-1.2,3.1M345.8,257.9l0,-6.3M353.5,249.6l-7.7,2M345.8,257.9l1.1,1.1M345.9,311.1l5.7,1.8M346.5,305l-0.6,6.1M346,265.7l1.4,1.5M346,265.7l0.9,-6.7M351.8,288.7l-5.5,1.2M348.9,439.6l-2.5,-3.8M346.4,435.8l4.9,-2.7M348.1,416.4l-1.7,0.1M347.4,400.3l-1,-2.4M346.4,397.9l3.1,-4.5M346.5,449.3l5.1,-1M346.5,274.1l0.7,0.7M346.5,274.1l0.9,-6.9M346.5,305l4.7,-1M346.5,384.6l0,-1.4M351.1,379.6l-4.6,3.6M349.7,413.5l-3.2,-6.4M346.7,406.8l-0.2,0.3M346.5,384.6l6.6,3.1M351.5,406.1l-4.8,0.7M353.8,259l-6.9,0M352.5,282.9l-5.5,-2.3M347.2,274.8l-0.2,5.8M349.4,368.3l-2.3,-4.1M348.6,361.7l-1.5,2.5M347.2,274.8l6.5,-0.5M347.4,400.3l4.5,0M347.4,267.2l6.3,-0.3M354.5,218.7l-7,-2.9M348.8,208.2l-1.3,7.6M347.5,198.7l1.8,1.7M349.1,190.5l-1.6,8.2M347.6,442.3l4,6M347.6,442.3l1.3,-2.7M347.9,526.8l2.2,6.4M347.9,526.8l2.3,-2.4M348,357.4l0.6,4.3M348.7,356.7l-0.7,0.7M348.1,416.4l3.7,4.7M349.7,413.5l-1.6,2.9M351.1,379.6l-2.7,-4.2M351.8,372.6l-3.4,2.8M348.4,534.7l1.7,-1.5M348.7,356.7l-0.1,-7.1M349.6,348.6l-1,1M353.6,363.3l-5,-1.6M349.6,342.6l-0.9,-1M348.7,341.6l0.5,-5.7M348.7,356.7l7.4,-0.2M348.8,190l0.3,0.5M348.8,190l1.1,-7.1M348.8,181.7l1.1,1.2M349.6,173.6l-0.8,8.1M348.9,439.6l6.7,-0.7M349,208l8.2,1.2M349.3,200.4l-0.3,7.6M349.1,518.4l1.1,6M349.1,518.4l1.5,-1.9M357.5,191.7l-8.4,-1.2M349.2,335.9l3.1,-1.9M349.3,200.4l7.5,-1.2M349.8,368.5l-0.4,-0.2M349.4,392.9l0.1,0.5M353.1,387.7l-3.7,5.2M349.4,164.7l0.3,8.9M349.4,164.7l10,-1.7M352.8,396l-3.3,-2.6M350.6,516.5l-1.1,-6.9M349.5,509.6l1.1,-1.2M349.6,342.6l0,6M349.6,342.6l7.2,-0.7M349.6,348.6l7.1,1.8M349.7,173.6l7.9,0.5M349.7,413.5l4.5,-1.8M351.8,372.6l-2,-4.1M353.7,366.1l-3.9,2.4M349.9,182.9l8.4,-0.4M350.1,533.2l4.3,0.5M350.2,320.3l0,6.1M351.2,319.3l-1,1M350.2,524.4l7.8,1.8M352.4,327.9l-2.2,-1.5M351.3,433.1l-0.9,-3.3M352.4,427.2l-2,2.6M353.5,491.9l-2.9,-2.6M350.6,489.3l2,-7.3M357.3,516.7l-6.7,-0.2M358.7,509l-8.1,-0.6M350.9,500.2l-0.3,8.2M352.9,499.1l-2,1.1M351.1,379.6l3.6,0.5M357.5,320.4l-6.3,-1.1M351.6,312.9l-0.4,6.4M351.2,304l2.1,1.4M351.5,297.8l-0.3,6.2M355.6,435.5l-4.3,-2.4M352.4,427.2l-1,-5.2M351.8,421.1l-0.4,0.9M351.5,297.8l1.8,-0.9M351.5,406.1l3.1,4M351.5,406.1l2.2,-3.8M351.6,312.9l1.5,-0.9M351.6,448.3l1.2,0.3M351.7,473.6l0.6,1.1M351.7,473.6l0.9,-7.5M351.7,480.8l0.9,1.2M351.7,480.8l0.6,-6.1M354.1,459.8l-2.4,-2.9M351.7,456.9l1.1,-8.3M353.9,290.3l-2.1,-1.6M351.8,288.7l0.7,-5.8M351.8,372.6l3.7,0.8M355.4,420.4l-3.6,0.7M353.7,402.3l-1.8,-2M351.9,400.3l0.9,-4.3M352.3,334l4.7,2M352.3,334l0.1,-6.1M352.3,474.7l8.9,-0.2M357.4,326.8l-5,1.1M359.2,429.3l-6.8,-2.1M354.6,281.5l-2.1,1.4M352.6,466.1l1.3,-1.1M360.2,483.3l-7.6,-1.3M357.5,394.8l-4.7,1.2M353.8,448.2l-1,0.4M360.4,500.9l-7.5,-1.8M353.5,491.9l-0.6,7.2M353.1,387.7l0.7,-0.2M353.1,312l6.3,0.7M353.1,312l0.2,-6.6M353.2,243.1l0.3,6.5M353.2,243.1l1.8,-1.8M353.3,305.4l5.4,-1.8M353.3,296.9l5,1.7M353.9,290.3l-0.6,6.6M353.5,491.9l5.3,-1.7M353.5,249.6l1.9,1.9M353.6,363.3l0.1,2.8M356.4,360.4l-2.8,2.9M353.7,274.3l0.4,0.4M353.7,274.3l0.5,-7M353.7,402.3l3.7,0.1M356.5,368l-2.8,-1.9M353.7,266.9l0.5,0.4M353.8,259l-0.1,7.9M353.8,259l1.4,-1.2M353.8,448.2l5.7,1.3M353.8,448.2l2,-8.9M353.8,387.5l1.9,0.9M353.8,387.5l0.9,-7.4M353.9,290.3l6.1,-0.7M353.9,465l6,2M354.1,459.8l-0.2,5.2M354,232.9l1.1,1.4M354,232.9l1.2,-7.4M354.1,274.7l0.5,6.8M354.1,274.7l6.8,-0.2M354.1,459.8l7.7,-3.5M360.2,267.3l-6,0M354.2,411.7l3.1,3.6M354.6,410.1l-0.4,1.6M354.5,218.7l0.1,5.9M354.5,218.7l2.8,-2.4M354.6,281.5l5.5,1.1M354.6,224.6l0.6,0.9M354.6,410.1l3,-2M354.7,380.1l0.9,-0.7M363.1,242.5l-8.1,-1.2M355,241.3l0.1,-7M364.4,233.5l-9.3,0.8M355.2,225.5l8.8,0.5M355.2,257.8l5.6,2.1M355.2,257.8l0.2,-6.3M359.6,427.2l-4.2,-6.8M355.4,420.4l1.8,-1.8M355.4,251.5l7.4,-1.5M355.5,373.4l0.1,6M356.8,372.3l-1.3,1.1M355.8,439.3l-0.2,-0.4M355.6,435.5l0,3.4M355.6,435.5l3.6,-4M359.2,380.1l-3.6,-0.7M357.5,394.8l-1.8,-6.4M355.7,388.4l4.8,-1.5M355.8,439.3l8.1,2.1M356.6,357.2l-0.5,-0.7M356.1,356.5l0.6,-6.1M356.3,154.8l4.1,7.3M356.4,360.4l4.2,4.5M356.4,360.4l0.2,-3.2M356.5,368l0.3,4.3M356.5,368l4.1,-3.1M356.6,357.2l7.8,0.3M357.1,350l-0.4,0.4M358.1,200.5l-1.3,-1.3M357.5,191.7l-0.7,7.5M356.8,341.9l0.2,-5.9M360.8,372.5l-4,-0.2M364.9,342.6l-8,-0.6M356.9,342l0.2,8M357,336l2.7,-1.7M361.1,349.7l-4,0.3M357.2,418.6l5.4,1.2M357.3,415.3l-0.1,3.3M357.3,216.3l-0.1,-7.1M357.3,216.3l6.7,1.7M358.9,518.2l-1.6,-1.5M357.3,516.7l1.4,-7.7M357.3,415.3l3.8,-2.4M358.1,200.5l-0.7,8.6M366.1,208.8l-8.7,0.3M357.6,408.1l-0.2,-5.7M357.4,402.4l0.4,-0.3M359.6,328l-2.2,-1.2M357.5,320.4l-0.1,6.4M358.1,191.1l-0.6,0.6M358.1,395.2l-0.6,-0.4M359.3,319l-1.8,1.4M358.2,174.8l-0.6,-0.7M359.4,163l-1.8,11.1M357.6,408.1l3.6,1.2M362.2,402.6l-4.4,-0.5M357.8,402.1l0.3,-6.9M358.4,526.8l-0.4,-0.6M358.9,518.2l-0.9,8M365.7,537.2l-7.6,-3.5M358.1,533.7l0.3,-6.9M362.8,394.6l-4.7,0.6M365.5,191.9l-7.4,-0.8M358.1,191.1l0.2,-8.6M366,200.6l-7.9,-0.1M358.4,182.3l-0.2,-7.5M358.2,174.8l8.7,-0.8M358.7,303.6l-0.4,-5M360.8,296.6l-2.5,2M367.5,525.2l-9.1,1.6M367,183l-8.6,-0.7M358.7,303.6l2.4,2M359.9,508.1l-1.2,0.9M358.8,490.2l2.9,2.8M358.8,490.2l1.5,-6.8M358.9,518.2l8.4,-1.3M359.2,429.3l0.3,1M359.2,429.3l0.4,-2.1M364.5,436.3l-5.3,-4.8M359.2,431.5l0.3,-1.2M359.2,380.1l1.8,5.7M362.7,378.2l-3.5,1.9M359.3,319l6.6,2.5M359.3,319l0.1,-6.3M359.4,312.7l0.3,-0.3M360.4,162.1l-1,0.9M367.7,429.6l-8.2,0.7M361.8,456.3l-2.3,-6.8M359.5,449.5l4.2,-3.1M359.7,334.3l-0.1,-6.3M359.6,328l5.8,-1.7M359.6,427.2l4.7,-4.5M365.4,336.1l-5.7,-1.8M367,313.7l-7.3,-1.3M359.7,312.4l1.4,-6.8M359.9,467l1.7,7.1M364,464.5l-4.1,2.5M359.9,508.1l7.6,3.6M359.9,508.1l0.5,-7.2M361.1,290.7l-1.1,-1.1M360.1,282.6l-0.1,7M361.3,281.7l-1.2,0.9M360.2,483.3l1,-8.8M360.2,267.3l0.4,0.4M360.2,267.3l0.6,-7.4M368.7,484.5l-8.4,-1.1M360.4,500.9l0.6,-0.4M360.4,162.1l5.6,-0.1M364.3,391.2l-3.8,-4.3M360.5,386.9l0.5,-1.1M360.6,364.9l2.3,0.3M360.6,267.7l0.3,6.8M360.6,267.7l7.7,-0.6M360.8,296.6l6.8,2.5M361.1,290.7l-0.3,5.9M364.9,258.5l-4.1,1.4M362.7,378.2l-1.9,-5.7M361.6,371.9l-0.8,0.6M360.9,274.5l1,0.9M366.3,383.4l-5.3,2.4M361,500.5l8.1,0.2M361.7,493l-0.7,7.5M361.1,349.7l4.1,4.7M365.4,345l-4.3,4.7M361.1,305.6l6,-1.2M361.1,412.9l3.9,2.2M361.2,409.3l-0.1,3.6M367.5,290.1l-6.4,0.6M361.2,409.3l3.2,-2.3M361.6,474.1l-0.4,0.4M367.8,283.1l-6.5,-1.4M361.9,275.4l-0.6,6.3M361.6,371.9l4.6,0.3M361.6,371.9l1.3,-6.7M361.6,474.1l8.1,0M361.7,493l7.8,-2.3M361.8,456.3l1.1,0.5M366.4,274.6l-4.5,0.8M362.2,402.6l2.4,3.5M364.9,397.8l-2.7,4.8M364.3,422.7l-1.7,-2.9M362.6,419.8l2.4,-4.7M365.1,378.7l-2.4,-0.5M364.9,397.8l-2.1,-3.2M364.3,391.2l-1.5,3.4M365.5,252.2l-2.7,-2.2M362.8,250l0.3,-7.5M364,464.5l-1.1,-7.7M362.9,456.8l7.4,-1.9M362.9,365.2l2,-0.9M364.1,241.7l-1,0.8M363.7,446.4l7,4.7M363.7,446.4l0.6,-4.5M363.9,441.4l0.4,0.5M363.9,441.4l0.6,-5.1M364.7,226.8l-0.7,-0.8M364,218l0,8M364,464.5l6.8,1.8M366,216.4l-2,1.6M368.1,242.6l-4,-0.9M365,234.3l-0.9,7.4M365,390.9l-0.7,0.3M366.6,423.2l-2.3,-0.5M370.1,441.3l-5.8,0.6M364.4,407l2.9,4.5M364.6,406.1l-0.2,0.9M365.5,359.4l-1.1,-1.9M365.2,354.4l-0.8,3.1M365,234.3l-0.6,-0.8M364.7,226.8l-0.3,6.7M367.5,434.3l-3,2M368.2,404.7l-3.6,1.4M364.7,148.2l4,0.9l0.9,1.9M373,225.4l-8.3,1.4M366.7,365.6l-1.8,-1.3M364.9,364.3l0.6,-4.9M367.2,260.3l-2.3,-1.8M364.9,258.5l0.6,-6.3M365.4,345l-0.5,-2.4M366.2,340l-1.3,2.6M364.9,397.8l3.2,0.5M370.2,234.8l-5.2,-0.5M365,390.9l4.9,1.4M368.3,385.3l-3.3,5.6M365,415.1l1.2,-0.4M365.1,378.7l0.8,0.8M367.2,374l-2.1,4.7M367.9,352.5l-2.7,1.9M365.4,336.1l0.8,3.9M366.6,334.4l-1.2,1.7M366.5,327.5l-1.1,-1.2M365.4,326.3l0.5,-4.8M365.4,345l2.4,1.9M372.5,358.7l-7,0.7M366.9,251.8l-1.4,0.4M366.2,200.3l-0.7,-8.4M365.5,191.9l1.8,-1.5M366.3,383.4l-0.4,-3.9M365.9,379.5l7.9,-1.1M365.9,321.5l0.3,-0.2M373.6,218.3l-7.6,-1.9M366,216.4l0.1,-7.6M366,200.6l0.8,7.5M366.2,200.3l-0.2,0.3M366.9,174l-0.9,-12M366.8,161.6l-0.8,0.4M366.8,208.1l-0.7,0.7M366.2,321.3l7.6,0.2M366.2,321.3l1.4,-6.5M373.3,340.3l-7.1,-0.3M369.5,417.1l-3.3,-2.4M367.3,411.5l-1.1,3.2M367.2,374l-1,-1.8M366.2,372.2l1.6,-3.8M366.2,200.3l7.1,-0.9M368.3,385.3l-2,-1.9M369.6,277.8l-3.2,-3.2M368.8,269.2l-2.4,5.4M366.9,536.9l-0.4,0.2M366.5,327.5l7,0.6M366.6,334.4l-0.1,-6.9M368.4,428.8l-1.8,-5.6M366.6,423.2l3.1,-2.2M366.6,334.4l6.8,-0.8M367.8,368.4l-1.1,-2.8M372.8,364l-6.1,1.6M375.2,164.2l-8.4,-2.6M367.3,159.6l-0.5,2M366.8,208.1l2.2,0.2M366.9,536.9l5.7,1.1M369.6,527.5l-2.7,9.4M367.9,174.9l-1,-0.9M367,313.7l0.6,1.1M367,313.7l2,-5.3M367,183l1.1,1.3M367,183l0.9,-8.1M369,308.4l-1.9,-4M367.1,304.4l0.9,-1.9M367.2,374l5.1,0.3M376.8,193.8l-9.5,-3.4M367.3,190.4l0.8,-6.1M373.5,409.8l-6.2,1.7M367.3,516.9l0.6,0.8M367.3,516.9l0.2,-5.2M371.8,436.7l-4.3,-2.4M367.7,429.6l-0.2,4.7M369.6,527.5l-2.1,-2.3M367.5,525.2l0.4,-7.5M368.5,291l-1,-0.9M368.3,283.8l-0.8,6.3M367.5,511.7l1.7,-1.7M367.6,314.8l6.6,1M367.6,299.1l0.4,3.4M369.4,296.2l-1.8,2.9M368.4,428.8l-0.7,0.8M367.8,346.9l0.1,5.6M367.8,346.9l5.7,-0.2M367.8,283.1l0.5,0.7M369.6,277.8l-1.8,5.3M367.8,368.4l4.6,2M372.8,353.6l-4.9,-1.1M377.6,173.9l-9.7,1M377.3,518.7l-9.4,-1M376.1,302.7l-8.1,-0.2M376.1,183.3l-8,1M369.8,400.7l-1.7,-2.4M368.1,398.3l2.4,-3.4M368.2,404.7l5.7,4.1M369.8,400.7l-1.6,4M375.4,284.2l-7.1,-0.4M368.3,385.3l3.8,0.4M368.4,428.8l3.2,0.2M368.5,291l0.9,5.2M368.5,291l6.9,-1.6M368.7,484.5l0.8,6.2M368.7,484.5l0.7,-0.8M369,308.4l6.1,1.1M369.1,500.7l0.1,9.3M371.3,499l-2.2,1.7M377.8,509.7l-8.6,0.3M369.6,151l-0.4,1.4M369.4,296.2l6.8,0.2M369.4,483.7l9.2,0M369.4,483.7l0.9,-8.8M371,492.6l-1.5,-1.9M369.7,421l-0.2,-3.9M369.5,417.1l5,-3M369.6,527.5l6.7,-0.1M369.6,151l0.9,0.2M372.5,277.1l-2.9,0.7M369.7,421l4.4,1.3M369.7,474.1l0.6,0.8M370.8,466.3l-1.1,7.8M369.8,400.7l3.3,0.3M369.9,392.3l0.6,2.6M369.9,392.3l3.1,-3.6M370.1,441.3l3,2.9M371.8,436.7l-1.7,4.6M370.3,474.9l7.2,0.6M370.3,454.9l3.2,3.8M370.3,454.9l0.4,-3.8M370.5,394.9l5.2,1.1M370.7,451.1l2.8,-2.9M370.8,466.3l0.5,-0.5M371,492.6l0.3,6.4M371,492.6l8.2,-2.1M377.8,501.3l-6.5,-2.3M371.3,465.8l9.2,2.6M373.5,458.7l-2.2,7.1M374.8,432.2l-3.2,-3.2M371.6,429l3.3,-5.5M373.8,435.5l-2,1.2M373,388.7l-0.9,-3M372.1,385.7l2.4,-3.2M374.2,377.1l-1.9,-2.8M372.3,374.3l0.1,-3.9M372.4,370.4l2.9,-2.7M372.9,359.1l-0.4,-0.4M372.8,353.6l-0.3,5.1M372.8,208.7l2.7,0.3M373.6,352.9l-0.8,0.7M372.8,364l2.3,2.1M372.8,364l0.1,-4.9M379.1,359.3l-6.2,-0.2M373,225.4l0.2,0.8M373.5,224.7l-0.5,0.7M373,388.7l3.1,1.9M373.1,401l2.7,3M375.7,396l-2.6,5M373.1,444.2l0.4,4M378.3,440.4l-5.2,3.8M373.3,340.3l0.2,6.4M373.4,333.6l0.7,0.9M373.4,333.6l0.2,-5.5M373.5,458.7l6.3,-0.7M373.8,347.1l-0.3,-0.4M380.4,340.9l-6.9,-0.7M374.1,334.5l-0.6,5.7M373.5,328.1l0.6,-6.2M374.5,414.1l-1,-4.3M373.9,408.8l-0.4,1M381.3,449.3l-7.8,-1.1M373.6,328.1l6.7,0.1M379.4,353.6l-5.8,-0.7M373.6,352.9l0.2,-5.8M373.6,218.3l0.2,-0.4M374.1,321.9l-0.3,-0.4M374.2,315.8l-0.4,5.7M373.8,378.4l0.7,4.1M373.8,378.4l0.4,-1.3M373.8,435.5l4.6,3.9M373.8,435.5l1,-3.3M373.8,347.1l6,-0.4M375,407.9l-1.1,0.9M380.6,322.1l-6.5,-0.2M374.9,423.5l-0.8,-1.2M376.6,415.8l-2.5,6.5M374.1,334.5l6.4,-0.1M374.2,377.1l3.2,-1.3M374.2,315.8l0.6,-0.5M379.6,383.9l-5.1,-1.4M376.6,415.8l-2.1,-1.7M380.3,316.2l-5.5,-0.9M374.8,315.3l0.3,-5.8M374.8,432.2l3.1,-1M374.9,423.5l3.7,1M381.9,409.2l-6.9,-1.3M375,407.9l0.8,-3.9M375.1,309.5l0.7,-0.6M375.1,366.1l0.2,1.6M375.1,366.1l4.2,-3.6M375.3,367.7l4.3,2.6M375.4,289.4l0,-5.2M375.7,283.8l-0.3,0.4M375.4,289.4l1.3,1.2M376.3,211.7l-0.8,-2.7M379.4,202l-3.9,7M381.9,284.4l-6.2,-0.6M375.9,280.5l-0.2,3.3M375.8,404l2.7,-1.6M381.2,309.8l-5.4,-0.9M376.2,302.8l-0.4,6.1M375.9,395.9l3.3,1.3M376.1,390.6l-0.2,5.3M376.1,302.7l0.3,-6.1M376.1,390.6l4.1,-1.3M378.8,190.4l-2.7,-7.1M379.8,176.3l-3.7,7M376.7,290.6l-0.5,5.8M383,303.1l-6.8,-0.3M376.3,527.4l1,-8.7M382.8,296.9l-6.4,-0.3M378.3,537.9l-1.9,-10.4M386,526.8l-9.6,0.7M381,416.1l-4.4,-0.3M376.7,290.6l4.9,-0.6M376.8,194.4l0,-0.6M376.8,193.8l2,-3.4M377.6,173.9l-0.8,-7.3M377.3,518.7l0.3,-0.3M382.2,378.1l-4.8,-2.3M377.4,375.8l2.2,-5.5M377.5,475.5l1.8,7.4M377.5,475.5l1.7,-1.3M379.8,176.3l-2.2,-2.4M385.2,519.2l-7.6,-0.8M377.8,509.7l-0.2,8.7M378.9,508.6l-1.1,1.1M377.8,501.3l1.1,7.3M378.7,500.7l-0.9,0.6M380,432l-2.1,-0.8M378.6,424.5l-0.7,6.7M379.4,537.8l-1.1,0.1M378.3,440.4l4,4.3M378.4,439.4l-0.1,1M378.4,439.4l2.9,-2.7M378.5,402.4l5.2,1.9M379.2,397.2l-0.7,5.2M378.6,483.7l0.6,6.8M378.6,483.7l0.7,-0.8M379.1,424.4l-0.5,0.1M378.7,500.7l9,0.9M378.7,500.7l3.6,-8M379.7,190.3l-0.9,0.1M386.1,509.7l-7.2,-1.1M378.9,201.3l0.5,0.7M379.1,424.4l6.1,3.1M379.1,424.4l3.5,-5.8M379.5,359.7l-0.4,-0.4M379.4,353.6l-0.3,5.7M379.2,490.5l3.1,2.2M386.5,476.9l-7.3,-2.7M379.2,474.2l1.3,-5.8M381.8,396.4l-2.6,0.8M386.1,482.1l-6.8,0.8M382.1,365.5l-2.8,-3M379.5,359.7l-0.2,2.8M381.8,202.2l-2.4,-0.2M379.4,353.6l0.7,-0.7M379.8,538l-0.4,-0.2M379.4,537.8l8,-6.5M379.5,359.7l6.3,-0.4M379.6,383.9l0.6,5.4M381.6,382.6l-2,1.3M381.3,369.8l-1.7,0.5M379.8,458l0.3,0.2M379.8,458l1.5,-8.7M382.9,176.6l-3.1,-0.3M380,347l-0.2,-0.3M379.8,346.7l0.6,-5.8M381.3,436.7l-1.3,-4.7M380,432l5.9,-2.5M380,347l7,0.5M380.1,352.9l-0.1,-5.9M380.1,458.2l3.1,8.4M380.1,458.2l8.9,-1.1M380.1,352.9l6,0.9M381.7,390.2l-1.5,-0.9M380.6,322.1l-0.3,-5.9M381.6,315l-1.3,1.2M380.6,322.1l-0.3,6.1M380.3,328.3l6.8,0M380.3,328.3l0.2,6.1M380.5,468.4l2.7,-1.8M386.9,341l-6.3,-0.3M380.6,340.7l0,-6.2M380.6,334.5l6.3,-0.3M380.6,322.1l6.2,-0.2M381,416.1l1.4,1.3M381,416.1l0.9,-6.9M381.6,315l-0.4,-5.2M382.8,308.5l-1.6,1.3M381.3,436.7l3.3,0.5M384.8,371.4l-3.5,-1.6M381.3,369.8l0.8,-4.3M381.3,449.3l0.3,-0.2M389.6,451.2l-8,-2.1M382.3,444.7l-0.7,4.4M387,315.8l-5.4,-0.8M381.6,290l1.5,1.2M381.9,284.4l-0.3,5.6M381.6,382.6l4.1,1.6M382.2,378.1l-0.6,4.5M382.7,394.9l-1,-4.7M386.8,387.8l-5.1,2.4M381.8,396.4l3,4.6M382.7,394.9l-0.9,1.5M382.8,283.6l-0.9,0.8M381.9,409.2l2.7,-2M386.3,363.8l-4.2,1.7M384.9,376.6l-2.7,1.5M382.3,492.7l4.7,-0.5M382.3,444.7l4,-2.8M382.6,418.6l-0.2,-1.2M389.6,414l-7.2,3.4M387,422.4l-4.4,-3.8M382.6,277.4l0.2,6.2M388.6,394.5l-5.9,0.4M382.8,308.5l5.1,1.9M382.8,308.5l0.5,-5.1M383,303.1l-0.2,-6.2M382.8,283.6l5.6,1.3M389.5,296.8l-6.6,0M382.9,296.8l0.2,-5.6M388,185.8l-5.1,-9.2M386.9,174.3l-4,2.3M383,303.1l0.3,0.3M388,290l-4.9,1.2M388.4,467.3l-5.2,-0.7M388.9,303.1l-5.6,0.3M384.6,407.2l-0.9,-2.9M384.8,401l-1.1,3.3M385.2,275l-0.7,0.3M384.6,437.2l2.2,3.1M387.1,432l-2.5,5.2M386.6,407.8l-2,-0.6M384.9,376.6l-0.1,-5.2M386.6,370.5l-1.8,0.9M388.9,399.5l-4.1,1.5M384.9,376.6l4.2,1.9M385.2,275l4.2,3.1M385.2,275l0.9,-2M385.9,519.9l-0.7,-0.7M386.1,509.7l-0.9,9.5M385.9,429.5l-0.7,-2M385.2,427.5l1.8,-5.1M385.7,384.2l1.1,3.4M385.7,384.2l3.8,-4.5M385.8,359.3l0.6,0.7M386.1,353.8l-0.3,5.5M385.9,519.9l0.1,6.9M394.8,518.2l-8.9,1.7M387.6,528.8l-1.6,-2M386,429.6l1.1,2.4M386,429.6l6.7,-2.5M386.1,353.8l0.5,-0.5M386.8,509.3l-0.7,0.4M386.1,482.1l1.1,1.2M386.5,476.9l-0.4,5.2M387.5,365.3l-1.2,-1.5M386.3,363.8l0.1,-3.8M390.5,446.1l-4.2,-4.2M386.3,441.9l0.5,-1.6M386.4,360l6.2,-0.4M386.5,476.9l3.4,-4M386.6,370.5l4.7,1M386.6,370.5l0.9,-5.2M389.6,412.4l-3,-4.6M392.7,403.2l-6.1,4.6M386.6,353.3l6.3,0.8M387,347.5l-0.4,5.8M386.8,387.8l2.8,5.6M386.8,321.9l0.4,0.4M387,315.8l-0.2,6.1M394.4,510.8l-7.6,-1.5M386.8,509.3l0.9,-7.7M386.8,440.3l4.7,-1.9M392.2,386l-5.4,1.6M386.9,341l0.4,6.2M387.3,340.6l-0.4,0.4M387.5,334.7l-0.6,-0.5M386.9,334.2l0.2,-5.9M395.8,176.9l-8.9,-2.6M386.9,174.3l0.8,-2.7M387.3,347.2l-0.3,0.3M387,315.8l0.4,-0.2M390.6,421.6l-3.6,0.8M389.1,493.6l-2.1,-1.4M387.2,483.3l-0.2,8.9M387.1,432l5.5,3.1M394,328.6l-6.9,-0.3M387.2,322.3l-0.1,6M387.2,322.3l6.1,-0.3M394.8,482.9l-7.6,0.4M387.3,347.2l6.4,0.1M387.3,340.6l6.7,0.3M387.3,340.6l0.2,-5.9M387.4,315.6l6.4,0.5M387.4,315.6l0.5,-5.2M392.7,538l-5.3,-6.7M387.4,531.3l0.2,-2.5M387.4,542l4.8,-2.2M393.3,334.3l-5.8,0.4M387.5,365.3l5.5,0.3M387.6,528.8l6.3,-1.7M389.7,499.4l-2,2.2M387.9,310.4l1.7,-1.2M389.3,291.2l-1.3,-1.2M388.4,284.9l-0.4,5.1M388,270.4l2.2,-0.5M388.7,467.7l-0.3,-0.4M388.4,467.3l2.4,-7.6M388.6,284.7l6.2,0.2M389.4,278.1l-0.8,6.6M388.6,394.5l0.3,5M388.6,394.5l1,-1.1M388.7,467.7l1.2,5.2M388.7,467.7l9.9,-1.3M388.9,303.1l0.6,0.6M389.8,297.2l-0.9,5.9M388.9,399.5l3.4,2.3M390.8,459.7l-1.8,-2.6M389.6,451.2l-0.6,5.9M389.1,378.5l0.4,1.2M391.9,374.8l-2.8,3.7M389.7,499.4l-0.6,-5.8M397.2,490.7l-8.1,2.9M389.5,296.8l-0.2,-5.6M389.3,291.2l5.8,-0.7M389.4,278.1l5.7,-0.5M391.4,381.1l-1.9,-1.4M389.8,297.2l-0.3,-0.4M389.5,303.7l0.1,5.5M389.5,303.7l6,0M389.6,414l0.9,1.2M389.6,412.4l0,1.6M389.6,309.2l4.6,1.3M389.6,412.4l6,-3.5M393.3,393l-3.7,0.4M389.9,451l-0.3,0.2M395.9,502.4l-6.2,-3M394.5,235.7l-4.7,0.6M389.8,297.2l5.8,0M389.9,472.9l6.7,3.2M389.9,451l4.3,0.1M389.9,451l0.6,-4.9M395.1,183.9l-5.1,1.4M390.4,269.9l3.2,-0.8M390.5,446.1l4.2,-3.3M390.5,227.6l4.5,0.4M397.8,415.6l-7.3,-0.4M390.5,415.2l0.7,5.6M392.7,427.1l-2.1,-5.5M390.6,421.6l0.6,-0.8M390.8,459.7l4.6,-0.3M391.2,420.8l6.9,-0.1M391.3,371.5l0.6,3.3M391.3,371.5l3.2,-3.7M392.2,386l-0.8,-4.9M395.6,380.6l-4.2,0.5M391.5,244.6l2.9,0.6M394.7,442.8l-3.2,-4.4M392.6,435.1l-1.1,3.3M397.2,376.2l-5.3,-1.4M394.8,387.7l-2.6,-1.7M397.5,547.4l-5.3,-7.6M392.2,539.8l0.5,-1.8M392.7,403.2l-0.4,-1.4M396,395.5l-3.7,6.3M393.4,360.5l-0.8,-0.9M392.9,354.1l-0.3,5.5M392.6,435.1l2.9,-1.7M392.7,538l4.5,-2.8M393.8,403.8l-1.1,-0.6M392.7,427.1l1.7,0.7M394,353.1l-1.1,1M393,365.6l1.5,2.2M393.4,360.5l-0.4,5.1M393.2,261.9l0.5,0M393.8,322.6l-0.5,-0.6M393.3,322l0.5,-5.8M393.3,252.9l0.9,-0.1M394.3,335.5l-1,-1.2M393.3,334.3l0.7,-5.7M396,395.5l-2.7,-2.5M393.3,393l1.5,-5.3M393.4,360.5l3.6,-0.3M393.5,219.5l2.2,0.2M393.6,269.1l2.2,1.9M393.7,261.9l-0.1,7.2M394.3,261.4l-0.6,0.5M394,340.9l-0.3,6.4M394.2,310.5l-0.4,5.6M393.8,403.8l1.8,5.1M398.7,402.6l-4.9,1.2M400.2,316.6l-6.4,-0.4M394,328.5l-0.2,-5.9M400,322.1l-6.2,0.5M397,529l-3.1,-1.9M395.2,518.6l-1.3,8.5M394,353.1l-0.1,-5.6M393.9,347.5l6.6,-0.3M400.2,328.8l-6.2,-0.3M394,353.1l5.8,1.4M394.1,340.9l6.6,0.3M394.1,340.9l0.2,-5.4M394.2,451.1l3.1,4.2M394.2,451.1l3.7,-3.1M394.2,310.5l1.6,-1.2M394.4,245.2l-0.2,7.6M394.2,252.9l8.5,0.4M394.2,252.9l0.1,8.5M394.3,261.4l8.2,0.4M394.3,335.5l6.1,-0.8M395.5,433.4l-1.1,-5.6M394.4,427.8l3.1,-2.4M394.4,245.2l1.3,-1.2M394.8,518.2l-0.4,-7.4M396,509.3l-1.6,1.5M394.5,367.8l0.5,0.1M396,237.1l-1.5,-1.4M394.5,235.7l0.5,-7.7M397.8,443.4l-3.1,-0.6M394.8,284.9l0.3,5.6M395.5,284.2l-0.7,0.7M395.8,387.3l-1,0.4M394.8,482.9l2.5,3.5M396.6,476.1l-1.8,6.8M395.2,518.6l-0.4,-0.4M395.3,227.7l-0.3,0.3M399.7,375l-4.7,-7.1M400.2,365.8l-5.2,2.1M395.1,277.6l0.4,6.6M395.5,277.2l-0.4,0.4M396.2,291.4l-1.1,-0.9M395.1,183.9l0.7,-7M402.7,520.1l-7.5,-1.5M403.3,228.4l-8,-0.7M395.7,219.7l-0.4,8M395.4,459.4l3.4,2.9M395.4,459.4l1.9,-4.1M396.3,211.7l-0.8,-0.7M401.4,284.7l-5.9,-0.5M402.2,278.5l-6.7,-1.3M395.8,271l-0.3,6.2M395.5,433.4l4.1,1.2M395.5,303.7l0.6,0.6M395.6,297.2l-0.1,6.5M397.7,383.3l-2.1,-2.7M395.6,380.6l1.6,-4.4M395.6,408.9l2.6,1.3M395.6,297.2l6.5,0.7M395.6,297.2l0.6,-5.8M396.2,219.2l-0.5,0.5M395.7,244l7.6,1.5M396,237.1l-0.3,6.9M400.5,173.3l-4.7,3.6M395.8,387.3l5.9,2.5M397.7,383.3l-1.9,4M402.5,269.4l-6.7,1.6M400.7,311.1l-4.9,-1.8M396.1,304.3l-0.3,5M396,509.3l-0.1,-6.9M399.8,499.7l-3.9,2.7M404.3,509.9l-8.3,-0.6M399.8,395.9l-3.8,-0.4M403.4,236l-7.4,1.1M396,549l1.5,-1.6M401.9,303.6l-5.8,0.7M400.9,290.6l-4.7,0.8M404,219.9l-7.8,-0.7M396.2,219.2l0.1,-7.5M396.3,211.7l6.9,-1M398.1,475.5l-1.5,0.6M400.2,364l-3.2,-3.8M397,360.2l2.8,-3.5M397.2,535.2l-0.2,-6.2M403.7,526.2l-6.7,2.8M399.7,375l-2.5,1.2M397.2,168.1l3.6,2.5M404,537.2l-6.8,-2M400.8,493.6l-3.6,-2.9M397.2,490.7l0.1,-4.3M404.8,482.6l-7.5,3.8M397.3,455.3l2.7,-0.6M402.3,428l-4.8,-2.6M398.1,420.7l-0.6,4.7M397.6,547.3l7.6,3.8M397.6,547.3l6.9,-8.3M397.7,383.3l2.5,-0.5M397.8,415.6l0.3,5M399.1,413.6l-1.3,2M398,443.6l-0.2,-0.2M400.1,436.9l-2.3,6.5M401.4,450.6l-3.5,-2.6M398,443.6l-0.1,4.4M398,443.6l6.6,0.8M400.7,475.9l-2.6,-0.4M398.6,466.4l-0.5,9.1M404.5,421.1l-6.4,-0.5M399.1,413.6l-0.9,-3.4M398.2,410.2l4,-3.9M399.3,465.7l-0.7,0.7M398.7,402.6l3.5,3.7M400.6,397.2l-1.9,5.4M399.3,465.7l-0.5,-3.4M404.1,458l-5.3,4.3M405.4,414.6l-6.3,-1M399.3,465.7l4.7,1.1M400.1,436.9l-0.5,-2.3M400.7,433.6l-1.1,1M406.3,504.4l-6.5,-4.7M400.8,493.6l-1,6.1M400.6,397.2l-0.8,-1.3M399.8,395.9l2.1,-3.4M399.8,354.5l0,2.2M399.8,354.5l1,-0.8M403.4,360.2l-3.6,-3.5M399.9,375l2.5,4.1M399.9,375l4.1,-3.7M400.9,323.1l-0.9,-1M400,322.1l0.2,-5.5M404.1,458l-4.1,-3.3M401.4,450.6l-1.4,4.1M406.1,440l-6,-3.1M400.2,365.8l3.7,2.5M400.2,365.8l0,-1.8M400.2,364l3.2,-3.8M400.2,328.8l0.2,5.9M400.7,328.4l-0.5,0.4M400.2,382.8l3.2,3.9M400.2,382.8l2.2,-3.7M400.7,316.1l-0.5,0.5M401,335.2l-0.6,-0.5M400.5,347.2l0.7,0.7M400.8,341.3l-0.3,5.9M408.3,180.7l-7.8,-7.4M400.5,173.3l0.3,-2.7M400.6,397.2l5,2.7M400.7,328.4l6.4,0.6M400.7,328.4l0.2,-5.3M400.7,316.1l0,-5M402.5,309.7l-1.8,1.4M407.9,433.7l-7.2,-0.1M402.3,428l-1.6,5.6M407,316.9l-6.3,-0.8M400.7,475.9l4.2,5.4M406.3,471.5l-5.6,4.4M401,335.2l-0.3,6M400.8,341.3l6.6,0.2M406.8,354.3l-6,-0.6M401.2,347.9l-0.4,5.8M404.2,167.2l-3.4,3.4M400.9,493.6l6.3,1.9M400.9,493.6l7,-7M402.6,291.9l-1.7,-1.3M401.5,284.9l-0.6,5.7M400.9,323.1l6,-1M401,335.2l5.9,-0.3M406.8,347.5l-5.6,0.4M402.2,278.5l-0.8,6.2M404.3,450l-2.9,0.6M407.8,285.5l-6.3,-0.6M401.7,389.8l0.2,2.7M403.4,387.4l-1.7,2.4M401.9,392.5l6.5,0.9M401.9,303.6l0.5,0.4M402.1,297.9l-0.2,5.7M402.1,297.9l0.7,-0.6M402.2,278.5l2,-1.3M402.2,406.3l0.8,0M404.7,426.6l-2.4,1.4M402.5,309.7l-0.1,-5.7M402.4,304l6.4,-0.1M402.4,379.1l3.4,0.7M402.5,269.4l1.9,1.5M402.5,261.8l0,7.6M407.4,310.7l-4.9,-1M402.6,261.7l8.8,0.1M402.6,261.7l0.3,-8.3M402.6,291.9l0.2,5.4M402.6,291.9l5.2,-1.4M402.7,520.1l1,6.1M407.2,515.3l-4.5,4.8M403.3,245.5l-0.6,7.8M402.8,297.3l5.8,0.6M402.9,253.4l8.5,0.2M405.2,407.6l-2.2,-1.3M405.6,399.9l-2.6,6.4M403.2,210.7l1.4,1.1M403.2,210.7l0,-6M403.3,245.5l1.1,-0.9M403.4,236l-0.1,-7.6M403.8,227.9l-0.5,0.5M403.4,236l1.2,1M406.4,360.2l-3,0M403.4,386.7l0,0.7M406.4,383.1l-3,3.6M409.8,389.1l-6.4,-1.7M405.5,527.7l-1.8,-1.5M412.2,228.4l-8.4,-0.5M403.8,227.9l0.2,-8M403.9,368.3l0.1,3M407.1,365.9l-3.2,2.4M407.9,373.6l-3.9,-2.3M406.3,471.5l-2.3,-4.7M407.8,462.6l-3.8,4.2M404.5,539l-0.5,-1.8M404,537.2l2.4,-3.9M404,219.9l0.6,-0.5M404.1,458l2.3,0M404.2,166.9l0,0.3M415,168.2l-10.8,-1M404.2,277.2l3.9,1.9M404.4,270.9l-0.2,6.3M404.3,509.9l2.9,5.4M404.3,509.9l2,-5.5M404.3,450l3.6,3.1M405.2,445.3l-0.9,4.7M404.4,244.6l7.1,1.2M404.6,237l-0.2,7.6M404.4,270.9l6.8,-1.2M409.2,542.6l-4.7,-3.6M404.5,421.1l0.2,5.5M405.9,419.7l-1.4,1.4M412.2,220l-7.6,-0.6M404.6,219.4l0,-7.6M411.3,210.7l-6.7,1.1M404.6,237l7.1,-0.8M405.2,445.3l-0.6,-0.9M404.6,444.4l1.5,-4.4M404.7,557.6l1.7,-1.9M408.8,428.5l-4.1,-1.9M407.9,486.6l-3.1,-4M404.8,482.6l0.1,-1.3M411.1,477.2l-6.2,4.1M406.4,555.7l-1.2,-4.6M409.6,546.2l-4.4,4.9M410.3,445.9l-5.1,-0.6M406.6,413.3l-1.4,-5.7M412.1,404.9l-6.9,2.7M405.9,419.7l-0.5,-5.1M405.4,414.6l1.2,-1.3M406.4,533.3l-0.9,-5.6M413.1,525.1l-7.6,2.6M406,202.1l-0.5,-0.1M405.6,399.9l1.2,-0.3M406.4,383.1l-0.6,-3.3M405.8,379.8l2.4,-1.8M405.9,419.7l4.5,1M406.8,439.7l-0.7,0.3M406.3,504.4l3.6,-2M406.4,555.7l2.2,0.6M407.7,459.7l-1.3,-1.7M407.9,453.1l-1.5,4.9M409.7,384.7l-3.3,-1.6M416.4,534.1l-10,-0.8M406.4,471.5l4.7,5.7M406.4,471.5l6.6,-3.6M407.1,360.8l-0.7,-0.6M406.4,360.2l0.4,-5.9M411.7,412.7l-5.1,0.6M412.1,404.9l-5.3,-5.3M406.8,399.6l2.1,-3M406.8,347.5l0.9,0.9M406.8,347.5l0.6,-6M412.8,441.2l-6,-1.5M407.9,433.7l-1.1,6M407.4,353.8l-0.6,0.5M406.9,322.1l0.7,0.8M406.9,322.1l0.1,-5.2M407.7,335.7l-0.8,-0.8M407.1,329l-0.2,5.9M407,316.9l0.7,-0.7M412.6,367.6l-5.5,-1.7M407.1,360.8l0,5.1M407.1,329l7.5,0.1M407.1,329l0.5,-6.1M407.1,360.8l4.9,-0.6M407.2,495.5l3,5.4M407.2,495.5l4.7,-4.9M407.2,515.3l4.5,0.5M407.4,310.7l0.3,5.5M407.4,310.7l1.5,-1.4M407.4,353.8l5.8,1.1M407.7,348.4l-0.3,5.4M414.5,342.3l-7,-1M407.5,341.3l0.2,-5.6M407.6,322.9l6.8,0.1M414.4,316.5l-6.7,-0.3M407.7,348.4l6.5,-0.5M407.7,335.7l5.9,-0.8M407.8,462.6l-0.1,-2.9M415.8,458.6l-8.1,1.1M407.8,290.5l0,-5M408.4,284.8l-0.6,0.7M412.6,466.2l-4.8,-3.6M409.1,291.5l-1.3,-1M407.9,486.6l1.7,0.5M408.2,378l-0.3,-4.4M412.1,371.6l-4.2,2M410.9,451.7l-3,1.4M409,432.9l-1.1,0.8M408.1,279.1l0.3,5.7M408.1,279.1l5,-2.1M410.5,378.8l-2.3,-0.8M408.9,396.6l-0.5,-3.2M408.4,393.4l2.1,-3.3M414.9,285.2l-6.5,-0.4M408.6,297.9l0.5,5.7M409,297.5l-0.4,0.4M411.6,203.7l-2.9,-0.8M408.8,303.9l0.1,5.4M408.8,303.9l0.3,-0.3M409,432.9l-0.2,-4.4M408.8,428.5l2.8,-2M408.9,309.3l5,1.2M412.9,397.3l-4,-0.7M409.1,291.5l-0.1,6M409,297.5l6.6,-0.3M409,432.9l2.2,1M409.1,303.6l5.4,0.1M409.1,291.5l6.3,-0.7M409.2,542.6l0.4,3.6M417.3,538l-8.1,4.6M409.6,546.2l6.4,3.1M409.6,487.1l2.3,3.5M414.1,482.4l-4.5,4.7M409.7,384.7l0.1,4.4M409.7,384.7l2.4,-1.9M409.8,389.1l0.7,1M409.9,502.4l3.1,2.3M409.9,502.4l0.3,-1.5M410.2,500.9l4.7,-3.9M410.3,445.9l1.1,4.7M410.3,445.9l2.7,-3.8M410.4,420.7l1.2,5.8M410.4,420.7l3.9,-2.6M410.4,180.4l5.7,-8.4M410.5,390.1l1.3,0.1M412.1,382.8l-1.6,-4M410.5,378.8l4.4,-2.2M410.9,451.7l5.7,5.4M411.4,450.6l-0.5,1.1M411.1,477.2l1.1,0.2M413,271.2l-1.8,-1.5M411.6,262l-0.4,7.7M411.2,433.9l2.4,5.6M416.8,431.8l-5.6,2.1M413.2,212.3l-1.9,-1.6M411.3,210.7l0.3,-7M411.4,261.8l0,-8.2M411.4,450.6l6.7,-2.6M411.5,245.8l0.1,7.6M411.5,245.8l1.4,-1.2M419.9,253.6l-8.3,-0.2M413.8,202.2l-2.2,1.5M411.6,262l8.1,0M411.6,426.5l2,0.2M411.7,515.8l0.8,1M411.7,515.8l2.4,-3.7M414.1,414.6l-2.4,-1.9M412.6,405.1l-0.9,7.6M411.7,236.2l1.1,1M412.2,228.4l-0.5,7.8M411.8,390.2l4.1,2.7M415.9,385l-4.1,5.2M411.9,490.6l0.6,0.2M412,360.2l1.4,1.4M413.2,354.9l-1.2,5.3M414.9,376.6l-2.8,-5M412.1,371.6l1.3,-3M412.1,382.8l2.7,0.6M412.6,405.1l-0.5,-0.2M412.2,228.4l0,-8.4M412.2,228.4l8.1,0.1M412.2,220l0.5,-0.5M412.2,477.4l0.9,0.6M415,469.4l-2.8,8M420.2,518.5l-7.7,-1.7M413.1,525.1l-0.6,-8.3M414.9,497l-2.4,-6.2M419.1,488.9l-6.6,1.9M412.6,405.1l1.2,-0.5M413,467.9l-0.4,-1.7M412.6,466.2l3.5,-5.1M412.6,367.6l0.7,0.9M413.4,361.6l-0.8,6M420.7,220.4l-8,-0.9M412.7,219.5l0.5,-7.2M412.9,244.6l-0.1,-7.4M412.8,237.2l7.5,-0.8M412.8,441.2l0.2,0.9M412.8,441.2l0.8,-1.7M412.9,244.6l7.3,1M415,402.7l-2.1,-5.4M412.9,397.3l3.4,-3.6M413.1,277l-0.1,-5.8M413,271.2l7,-1.5M414.1,512.1l-1.1,-7.4M413,504.7l6.7,-0.9M413,442.1l5.1,3.8M413,467.9l2,1.5M414.1,482.4l-1,-4.4M413.1,478l7.2,-1.9M413.1,277l3.5,2.8M417.8,528.7l-4.7,-3.6M413.2,354.9l0.2,-0.1M413.2,212.3l6.6,-1.3M419.4,364.5l-6.1,4M419.4,371.8l-6,-3.2M413.4,361.6l4.3,-0.4M413.4,354.8l3.2,0.8M414.4,348.3l-1,6.5M417.1,430.6l-3.5,-3.9M416.8,423.5l-3.2,3.2M413.6,334.9l2.2,2.7M413.6,334.9l1.1,-5.6M418.8,437l-5.2,2.5M413.8,202.2l5.9,1.7M413.8,202.2l0.1,-4M413.8,404.6l5.2,4.1M413.8,404.6l1.2,-1.9M414.4,316.5l-0.5,-6M415.9,308.6l-2,1.9M414.1,414.6l0.2,3.5M414.1,414.6l4.2,-2.2M414.1,512.1l6.8,-2.3M414.1,482.4l5.9,2.8M414.2,347.9l0.2,0.4M415.4,344.2l-1.2,3.7M414.3,418.1l1.2,1M414.4,348.3l6.5,3.2M414.6,316.8l-0.2,-0.3M414.4,323l0.2,6.1M415.1,322.2l-0.7,0.8M415.4,344.2l-0.9,-1.9M414.5,342.3l1.3,-4.7M414.5,303.7l1.4,4.9M417,300.8l-2.5,2.9M415,168.2l-0.4,-2.9M414.6,316.8l0.5,5.4M420.9,315l-6.3,1.8M421.3,330.1l-6.6,-0.8M421.6,194.4l-6.8,0.3M414.8,383.4l1.1,1.6M417,377.4l-2.2,6M416.9,377.2l-2,-0.6M414.9,285.2l1.4,3M416.6,279.8l-1.7,5.4M414.9,497l2.2,0.2M415,402.7l3.9,-2M415,168.2l1.2,1.1M415,469.4l2,0.1M415.1,322.2l7.2,0.7M415.4,344.2l6.8,0.2M416.7,294.2l-1.3,-3.4M415.4,290.8l0.9,-2.6M416.8,423.5l-1.3,-4.4M415.5,419.1l6.2,-0.5M417,300.8l-1.4,-3.6M416.7,294.2l-1.1,3M415.8,337.6l5.9,-1.2M416.1,461.1l-0.3,-2.5M415.8,458.6l0.8,-1.5M420.6,309.2l-4.7,-0.6M415.9,385l3.9,1.1M416.3,393.7l-0.4,-0.8M419.8,386.9l-3.9,6M416,549.3l1,2.2M416,549.3l3.1,-7.2M420.2,464.6l-4.1,-3.5M416.2,552.4l0.8,-0.9M417.6,394.5l-1.3,-0.8M423.3,287.4l-7,0.8M417.5,537.1l-1.1,-3M416.4,534.1l1.4,-5.4M416.6,279.8l5.2,-1.1M418.7,358.7l-2.1,-3.1M420.9,351.5l-4.3,4.1M417,456.9l-0.4,0.2M416.7,294.2l6.9,0.3M416.8,431.8l2,5.2M417.1,430.6l-0.3,1.2M420.9,424.7l-4.1,-1.2M416.9,377.2l2.5,-5.4M421.3,301.9l-4.3,-1.1M417,456.9l6.1,0.2M417,456.9l1.7,-8.1M417,551.5l1,0.2M417,469.5l3.3,6.6M420,467.4l-3,2.1M417,377.4l3.7,1.7M420.2,429.1l-3.1,1.5M417.1,497.2l3.3,5.4M421,493.4l-3.9,3.8M417.3,538l1.8,4.1M417.3,538l0.2,-0.9M417.5,537.1l12.7,-1.4M418.9,400.7l-1.3,-6.2M423.4,393.6l-5.8,0.9M417.7,361.2l1.7,3.3M417.7,361.2l1,-2.5M417.8,528.7l5.5,-3M418.7,448.8l-0.6,-0.8M418.1,445.9l0,2.1M418.1,445.9l3.8,-3.4M418.2,185l3.7,0.2M418.3,412.4l3.5,2.3M418.3,412.4l0.7,-3.7M422.3,450.2l-3.6,-1.4M418.7,358.7l5.1,-1M420.4,401l-1.5,-0.3M419,408.7l4,-1.7M421.1,492.5l-2,-3.6M420,485.2l-0.9,3.7M421.9,442.5l-2.8,-5.4M423.4,434.9l-4.3,2.2M419.1,542.1l6.2,2.7M419.8,371.6l-0.4,0.2M419.4,364.5l2,0.8M419.7,262l0.4,-8.2M420.9,509.8l-1.2,-6M419.7,503.8l0.7,-1.2M419.8,211l-0.1,-7.1M419.7,203.9l2.2,-1.5M419.8,386.9l3.8,6.3M419.8,386.1l0,0.8M420.3,385.6l-0.5,0.5M419.8,211l1.5,1.2M424.9,373.2l-5.1,-1.6M419.8,371.6l1.6,-6.3M419.9,262.2l8.7,0M420,269.7l-0.1,-7.5M419.9,253.6l0.2,0.2M419.9,253.6l0.3,-8M421.9,271.2l-1.9,-1.5M425,469.6l-5,-2.2M420.2,464.6l-0.2,2.8M420,485.2l1.3,-0.9M420.1,253.8l8.4,0.1M420.2,245.6l0.9,-0.8M420.2,464.6l4,-3.3M423.5,525.2l-3.3,-6.7M420.2,518.5l3.5,-5.1M423.5,430.9l-3.3,-1.8M420.2,429.1l0.7,-4.4M420.3,236.4l1,1M420.3,228.5l0,7.9M427.2,386.5l-6.9,-0.9M420.3,385.6l1.1,-4.7M423.6,405.8l-3.2,-4.8M420.4,401l3.8,-3.3M423.7,501.5l-3.3,1.1M420.5,228.3l8.2,0.5M420.7,220.4l-0.2,7.9M420.5,476.2l1.2,7.3M420.5,476.2l5,-2.2M420.6,309.2l0.3,5.8M422,307.9l-1.4,1.3M420.7,379.1l0.7,1.8M420.7,379.1l3.9,-3.9M420.7,220.4l0.8,-0.8M420.9,315l1.7,1.3M420.9,424.7l0.5,-0.4M422.9,511l-2,-1.2M420.9,351.5l1.7,-0.2M421,493.4l3.5,3.9M421.1,492.5l-0.1,0.9M428.3,490.5l-7.2,2M428.6,245.8l-7.5,-1M421.1,244.8l0.2,-7.4M421.9,336.1l-0.6,-6M421.3,330.1l1.4,-1.5M421.3,484.3l7,4.5M421.7,483.5l-0.4,0.8M421.3,237.4l7.5,-1M422,307.9l-0.7,-6M421.3,301.9l1.2,-0.9M421.5,219.6l-0.2,-7.4M421.3,212.2l6.7,-1.4M423,365l-1.6,0.3M426.5,424.8l-5.1,-0.5M421.4,424.3l0.3,-5.7M421.4,380.9l4.7,0.2M421.5,219.6l7.5,0.7M421.6,194.4l0.7,0.6M421.6,194.4l0.3,-9.2M422.8,343.8l-1.1,-7.4M421.9,336.1l-0.2,0.3M421.7,483.5l7.2,-2.9M427.4,419.5l-5.7,-0.9M421.7,418.6l0.1,-3.9M421.8,278.7l0.8,0.6M421.8,278.7l0.1,-7.5M425.6,412.7l-3.8,2M424.9,183.1l-3,2.1M424.5,442.7l-2.6,-0.2M428.2,204l-6.3,-1.6M422.3,195l-0.4,7.4M421.9,271.2l6.7,-1.6M428.9,336.2l-7,-0.1M422,307.9l5.7,0.8M422.2,344.4l0.4,6.9M422.8,343.8l-0.6,0.6M422.3,195l7.6,-0.3M422.3,450.2l1.8,5.6M422.3,450.2l3.7,-2.3M422.3,322.9l0.4,5.7M422.3,322.9l0.7,-0.7M422.5,301l6.7,1.2M423.9,294.7l-1.4,6.3M422.6,351.3l0.6,0.4M426,175.4l-3.4,-3M423.3,287.4l-0.7,-8.1M430.1,279l-7.5,0.3M422.6,316.3l0.4,5.9M422.6,316.3l5.2,-1.8M422.7,328.6l6.2,0.8M428.7,343.5l-5.9,0.3M423.7,513.4l-0.8,-2.4M422.9,511l4.4,-3.7M423,407l2.6,5.7M423.6,405.8l-0.6,1.2M423,322.2l6.8,-0.1M426.9,367.4l-3.9,-2.4M423,365l1.7,-5M424.2,461.3l-1.1,-4.2M424.1,455.8l-1,1.3M423.2,351.7l1.1,4.5M428.8,349.8l-5.6,1.9M430.1,534.1l-6.8,-8.4M423.3,525.7l0.2,-0.5M423.7,287.7l-0.4,-0.3M424.2,397.7l-0.8,-4.1M423.6,393.2l-0.2,0.4M427.4,437l-4,-2.1M423.5,430.9l-0.1,4M423.5,430.9l4.3,-2.1M427.9,522.4l-4.4,2.8M424.4,392.7l-0.8,0.5M423.6,294.5l0.3,0.2M423.7,287.7l-0.1,6.8M423.6,405.8l2.2,-0.7M429.4,287.3l-5.7,0.4M426.9,503.1l-3.2,-1.6M424.5,497.3l-0.8,4.2M423.7,513.4l5.4,2.4M424.7,360l-0.9,-2.3M423.8,357.7l0.5,-1.5M423.9,294.7l5.9,0.6M429,454.4l-4.9,1.4M425.5,462.1l-1.3,-0.8M427.6,399.3l-3.4,-1.6M431.6,355.8l-7.3,0.4M429,393.3l-4.6,-0.6M427.2,386.5l-2.8,6.2M430.6,494.7l-6.1,2.6M426,447.9l-1.5,-5.2M424.5,442.7l3.6,-2.5M425.3,544.8l-0.8,3.2M424.6,375.2l2.8,3.8M424.9,373.2l-0.3,2M429.6,361.4l-4.9,-1.4M427.4,184.9l-2.5,-1.8M424.9,183.1l1.1,-7.7M424.9,373.2l0.9,-0.8M425,469.6l1,3.2M426.9,466.5l-1.9,3.1M425.3,544.8l5,-2.5M425.5,474l3.5,6M426,472.8l-0.5,1.2M426.9,466.5l-1.4,-4.4M430,460.9l-4.5,1.2M427.6,413.1l-2,-0.4M429.9,407.6l-4.1,-2.5M428.1,400.8l-2.3,4.3M430.1,373.8l-4.3,-1.4M426.9,367.4l-1.1,5M426,447.9l1.5,0.7M426,472.8l4.9,-0.8M429.6,174.7l-3.6,0.7M427.7,385.6l-1.6,-4.5M426.1,381.1l1.3,-2.1M427.8,428.8l-1.3,-4M428.6,421.1l-2.1,3.7M430.2,366.1l-3.3,1.3M426.9,503.1l0.4,4.2M430.8,501.3l-3.9,1.8M426.9,466.5l4.8,-0.3M427.2,386.4l3.9,3.8M427.7,385.6l-0.5,0.8M427.3,507.3l4.1,1.8M427.4,437l0.7,3.2M430.6,432.2l-3.2,4.8M427.4,419.5l1.2,1.6M427.9,413.5l-0.5,6M431.8,378.5l-4.4,0.5M427.5,448.6l1.9,4.5M427.5,448.6l4.9,-3.4M427.9,413.5l-0.3,-0.4M427.6,413.1l2.3,-5.5M427.6,399.3l0.5,1.5M430.4,396.2l-2.8,3.1M433,382.8l-5.3,2.8M427.7,308.7l0.1,5.8M427.7,308.7l0.3,-0.2M427.8,314.5l1.9,1.5M427.8,428.8l1.4,0.7M427.9,522.4l8.6,2.3M427.9,522.4l1.2,-6.6M427.9,413.5l5.3,0.7M428,210.8l1.9,1.5M428,210.8l0.2,-6.8M428,308.5l7,0.8M428,308.5l1.2,-6.3M432.3,402.4l-4.2,-1.6M430.1,441l-2,-0.8M430.5,202.3l-2.3,1.7M428.3,488.8l0,1.7M431.2,484.3l-2.9,4.5M430.9,494l-2.6,-3.5M428.5,253.9l0.2,0.3M428.5,253.9l0.1,-8.1M428.6,245.8l1.2,-1M430.5,271.2l-1.9,-1.6M428.6,269.6l0,-7.4M430.9,421.1l-2.3,0M428.7,228.8l0.1,7.6M428.9,228.5l-0.2,0.3M437.3,262.3l-8.6,-0.2M428.7,262.1l0,-7.9M428.7,343.5l0.1,6.3M428.7,254.2l8.5,-0.5M431.6,351.7l-2.8,-1.9M428.8,236.4l1.1,1M428.9,336.2l1.1,1.1M428.9,336.2l0,-6.8M428.9,480.6l2.3,3.7M428.9,480.6l0.1,-0.6M428.9,343.3l6.6,1.8M428.9,343.3l1.1,-6M429,220.3l-0.1,8.2M435.4,228.4l-6.5,0.1M429,454.4l1.1,1.4M429.4,453.1l-0.4,1.3M429,480l5.8,-3.9M429,220.3l0.7,-0.6M430.4,396.2l-1.4,-2.9M431.1,390.2l-2.1,3.1M435.6,329.5l-6.5,-0.3M429.1,329.2l0.8,-7M429.1,515.8l3,-1.5M430.6,432.2l-1.4,-2.7M433.8,425.6l-4.6,3.9M430.4,301.2l-1.2,1M429.4,453.1l4.1,-2.5M430.6,294.4l-1.2,-7.1M429.4,287.3l0.4,-0.3M430.2,366.1l-0.6,-4.7M431.7,358.8l-2.1,2.6M429.7,219.7l7.7,0.9M429.7,219.7l0.2,-7.4M429.7,316l0.1,6.1M435.1,314.6l-5.4,1.4M437.3,287.5l-7.5,-0.5M430.4,279.2l-0.6,7.8M429.8,295.3l0.6,5.9M430.6,294.4l-0.8,0.9M429.9,194.7l-0.1,-2.9M429.8,244.8l7.4,1.3M429.8,244.8l0.1,-7.4M436,322.7l-6.1,-0.5M430.2,195l-0.3,-0.3M429.9,407.6l3.1,-0.7M429.9,212.3l6.6,-1.3M433.2,236.9l-3.3,0.5M430,337.3l5.1,-0.7M431.7,462.1l-1.7,-1.2M430,460.9l0.1,-5.1M430.2,535.6l-0.1,-1.5M430.1,534.1l6.6,-8.8M432.5,445.1l-2.4,-4.1M435,437.8l-4.9,3.2M437.3,457.2l-7.2,-1.4M430.4,279.2l-0.3,-0.2M430.5,271.2l-0.4,7.8M431.8,378.5l-1.7,-4.7M430.1,373.8l2.8,-2.4M430.2,366.1l1.4,0.4M430.2,535.7l0.1,6.6M430.2,535.6l11.3,0.4M430.5,202.3l-0.3,-7.3M434.4,194.6l-4.2,0.4M430.3,542.3l3.1,2.9M436.9,279.9l-6.5,-0.7M435.1,302.3l-4.7,-1.1M434.4,396.5l-4,-0.3M436.6,204l-6.1,-1.7M437.2,270.1l-6.7,1.1M430.6,494.7l0.2,6.6M430.9,494.2l-0.3,0.5M430.6,294.4l5.7,-0.6M433.1,432.9l-2.5,-0.7M434.3,503.2l-3.5,-1.9M430.9,494.2l6.5,3.6M430.9,472l3.9,4.1M430.9,472l2.3,-4.3M436.9,489.8l-6,4.2M430.9,421.1l2.9,4.5M432.9,419.5l-2,1.6M431.4,390.2l-0.3,0M431.2,484.3l5.4,0.7M432.9,512.2l-1.5,-3.1M434.3,503.2l-2.9,5.9M435.2,393.2l-3.8,-3M434.9,386.4l-3.5,3.8M431.6,351.7l0,4.1M431.6,351.7l3.6,-2.3M432.9,371.4l-1.3,-4.9M435.4,365.3l-3.8,1.2M439.1,355.9l-7.4,-0.1M431.7,355.8l0,3M431.7,466.2l1.5,1.5M431.7,466.2l0,-4.1M436.8,460l-5.1,2.1M431.7,358.8l5,3.3M432.2,378.8l-0.4,-0.3M432.1,514.3l5.8,5.9M432.1,514.3l0.8,-2.1M433,382.8l-0.8,-4M432.2,378.8l4.7,-2.7M432.3,402.4l1.3,3.1M435.2,397.8l-2.9,4.6M432.4,445.2l1.1,5.4M437.3,444.6l-4.8,0.5M437.2,372.9l-4.3,-1.5M432.9,419.5l6.4,1M432.9,419.5l0.3,-5.3M432.9,512.2l5.2,-1.7M435.5,411.5l-2.5,-4.6M433.6,405.5l-0.6,1.4M433,382.8l1.5,1.1M433.1,432.9l1.9,4.9M437.2,430.6l-4.1,2.3M433.2,414.2l1.7,-1.2M436.8,467.7l-3.6,0M434.4,551.5l-1,-6.3M433.4,545.2l9.7,-3.8M434.4,551.5l-1,0.8M437.8,452.1l-4.3,-1.5M438.4,404l-4.8,1.5M437.6,426.3l-3.8,-0.7M435.2,397.8l-0.8,-1.3M435.2,393.2l-0.8,3.3M440.7,553.3l-6.3,-1.8M434.5,503.2l4.2,2.2M437.4,497.8l-2.9,5.4M434.9,386.4l-0.4,-2.5M434.5,383.9l4.8,-1.6M435.2,476.1l-0.4,0M439.4,417.4l-4.5,-4.4M434.9,413l0.6,-1.5M438.6,389.7l-3.7,-3.3M435.1,314.6l-0.1,-5.3M435.4,308.9l-0.4,0.4M435,437.8l3.1,0.9M435.1,336.6l1.4,0.9M435.6,329.5l-0.5,7.1M436.3,315.6l-1.2,-1M435.1,302.3l0.3,6.6M437.1,301.2l-2,1.1M438.9,351.7l-3.7,-2.3M435.2,349.4l0.3,-4.3M435.2,397.8l3,1.1M438,479.2l-2.8,-3.1M438.2,471.4l-3,4.7M438.6,390.9l-3.4,2.3M441.9,308.5l-6.5,0.4M438.7,371.6l-3.3,-6.3M435.4,365.3l1.2,-1.4M440.7,409.8l-5.2,1.7M435.5,345.1l1.4,-1.2M435.6,329.5l0.4,-0.3M436,329.2l6,1.3M436,329.2l0.4,-6.2M436.4,323l-0.4,-0.3M436,322.7l0.3,-7.1M441.9,315.1l-5.6,0.5M437.3,294.8l-1,-1M437.4,287.5l-1.1,6.3M436.4,323l6.4,-0.5M436.7,525.3l-0.2,-0.6M437.9,520.2l-1.4,4.5M437.9,212.2l-1.4,-1.2M436.6,204l-0.1,7M436.5,337.5l0.4,6.4M441.6,336.5l-5.1,1M441.7,365.8l-5.1,-1.9M436.6,363.9l0.1,-1.8M436.6,204l2,-1.5M438,479.2l-1.4,5.8M439.6,527.2l-2.9,-1.9M436.7,362.1l3,-3.4M444.9,485.5l-8.2,-0.3M436.9,489.8l-0.2,-4.6M439,464.9l-2.2,-4.9M436.8,460l0.5,-2.8M438.2,471.4l-1.4,-3.7M439,464.9l-2.2,2.8M436.9,376.1l2.2,2.1M436.9,376.1l0.3,-3.2M441.3,493.3l-4.4,-3.5M436.9,279.9l0.4,7.6M436.9,279.9l2,-1.4M442.6,344.9l-5.7,-1M437.1,301.2l4.5,1.3M437.1,301.2l0.2,-6.4M437.2,430.6l2.5,2.9M438,427.2l-0.8,3.4M437.2,253.7l0.3,0.3M437.2,246.1l0,7.6M437.2,270.1l1.6,1.3M437.2,270.1l0.1,-7.8M438.7,371.6l-1.5,1.3M437.2,246.1l1.4,-1.2M437.3,444.6l2.5,4M437.3,444.6l2,-4.5M443.2,294.9l-5.9,-0.1M438.5,456l-1.2,1.2M437.4,287.5l6.1,0.3M437.4,262.3l8.5,0.1M437.4,262.3l0.1,-8.3M437.4,220.6l0.1,6.2M438.2,219.8l-0.8,0.8M439.2,497.2l-1.8,0.6M437.5,254l8.1,0M437.5,236.6l1.1,0.9M438,427.2l-0.4,-0.9M437.6,426.3l1.9,-5.5M437.8,452.1l0.7,3.9M439.8,448.6l-2,3.5M437.9,520.2l5.7,-3.8M438.2,219.8l-0.3,-7.6M442.2,211.5l-4.3,0.7M438,427.2l6.6,1.2M442.6,478.2l-4.6,1M438.1,510.5l4.9,3.3M438.1,510.5l0.6,-5.1M439.3,440.1l-1.2,-1.4M439.7,433.5l-1.6,5.2M440.6,219.9l-2.4,-0.1M438.2,398.9l1.4,3.3M441.7,395.3l-3.5,3.6M444.1,472.9l-5.9,-1.5M438.4,404l2.3,5.8M438.4,404l1.2,-1.8M442.5,456.5l-4,-0.5M438.6,390.9l0,-1.2M438.6,389.7l2.6,-3.1M438.6,237.5l0,7.4M445.6,236.2l-7,1.3M438.6,202.5l3.7,0.8M438.7,197.4l-0.1,5.1M438.6,244.9l7,1M438.6,390.9l2.8,2.2M438.7,505.4l1.2,-0.5M443.3,372.9l-4.5,-1.4M438.8,371.5l3.2,-5.1M438.9,278.5l-0.1,-7.1M438.8,271.4l7.2,-1.5M439.1,355.9l-0.2,-4.2M442.5,349.2l-3.6,2.5M438.9,278.5l4.6,1.3M439,464.9l3.7,-0.1M439.1,355.9l0.3,0.5M439.1,378.2l0.2,4.1M444,376.9l-4.9,1.3M439.2,497.2l2.5,3.7M439.2,497.2l2.1,-3.9M439.3,440.1l2.5,0.1M439.3,382.3l0.5,0.3M439.3,420.5l0.2,0.3M439.4,417.4l-0.1,3.1M439.4,356.4l0.3,2.3M439.4,356.4l7.4,-2.3M443,413.7l-3.6,3.7M439.5,420.8l5.5,0.7M441.7,535.5l-2.1,-8.3M439.6,527.2l6.4,-1.4M443.9,402.4l-4.3,-0.2M439.7,358.7l3.9,2.3M439.7,433.5l5.5,-0.5M441.2,386.6l-1.4,-4M439.8,382.6l4.5,-1M439.8,448.6l2.7,-0.4M439.9,504.9l6.4,2.4M441.7,500.9l-1.8,4M441.3,561.8l-0.6,-8.5M440.7,553.3l4,-2.5M442.5,410.3l-1.8,-0.5M444.2,386.9l-3,-0.3M441.3,561.8l1.3,0.7M441.3,493.3l1.1,-0.2M441.4,393.1l0.3,2.2M446.3,390.4l-4.9,2.7M441.5,536l1.7,5.1M441.5,536l0.2,-0.5M441.6,336.5l1.8,1.3M442,330.5l-0.4,6M442.6,307.8l-1,-5.3M441.6,302.5l2.3,-2M442,366.4l-0.3,-0.6M441.7,365.8l1.9,-4.7M445.5,397.8l-3.8,-2.5M441.7,500.9l4,-0.3M441.7,535.5l8.1,-4.6M445,444.6l-3.2,-4.4M441.8,440.2l4.5,-3.9M441.9,315.1l0,-6.6M442.6,307.8l-0.7,0.7M442.8,315.8l-0.9,-0.7M445.4,367.8l-3.4,-1.4M442,330.5l1.2,-0.9M442.4,493.1l5.4,2M442.4,493.1l2.5,-7.6M442.5,456.5l2,6.7M444.6,455.5l-2.1,1M442.5,349.2l3.7,2.8M442.5,349.2l0.1,-4.3M443,413.7l-0.5,-3.4M445.5,408.1l-3,2.2M446.2,451.8l-3.7,-3.6M442.5,448.2l2.5,-3.6M442.6,344.9l1.6,-1.4M448.9,308.3l-6.3,-0.5M442.6,478.2l2.6,7M444.5,475.8l-1.9,2.4M442.6,562.5l0.6,1.7M449.4,560.5l-6.8,2M445.3,471l-2.6,-6.2M442.7,464.8l1.8,-1.6M442.8,315.8l0,6.7M442.8,315.8l6.3,-1M443.6,516.4l-0.6,-2.6M443,513.8l3.4,-6.2M443,322.7l6.4,0M443.2,329.6l-0.2,-6.9M443,413.7l4.2,2.8M444.9,550.4l-1.8,-9M443.1,541.4l0.1,-0.3M443.2,294.9l0.7,5.6M443.2,294.9l0.9,-1M443.2,541.1l8.3,-0.8M443.2,329.6l5.4,1M444.5,376.1l-1.2,-3.2M443.3,372.9l2.8,-3.4M444.2,343.5l-0.8,-5.7M443.4,337.8l5.7,-2.2M444.1,293.9l-0.6,-6.1M444.8,286.7l-1.3,1.1M448.4,355.9l-4.8,5.1M447.8,363.8l-4.2,-2.7M448.2,518.7l-4.6,-2.3M445.5,408.1l-1.6,-5.7M443.9,402.4l2.1,-2.2M449.6,301.2l-5.7,-0.7M444,376.9l0.3,4.7M444.5,376.1l-0.5,0.8M444.1,280.6l0.7,6.1M444.1,293.9l6.6,0.5M444.1,472.9l0.4,2.9M445.3,471l-1.2,1.9M444.2,343.5l5.5,0.9M446.3,389.7l-2.1,-2.8M444.2,386.9l1.7,-4.1M445.9,382.8l-1.6,-1.2M447.4,462.9l-2.9,0.3M444.5,376.1l3.4,0.3M444.5,475.8l5.6,2.3M444.6,428.4l0.6,4.6M444.6,428.4l2.7,-3.5M444.6,455.5l5.1,3.1M444.6,455.5l1.6,-3.7M450.3,556.5l-5.6,-5.7M444.9,550.4l-0.2,0.4M450.3,287.2l-5.5,-0.5M445.2,485.2l-0.3,0.3M444.9,550.4l10.4,-3.8M445,421.5l2.3,3.4M447.2,416.5l-2.2,5M445,444.6l2.8,-0.2M445.2,433l1.5,1.8M446.3,485.2l-1.1,0M445.3,471l4.2,-1.4M446.1,369.5l-0.7,-1.7M445.4,367.8l2.4,-4M449.9,408.5l-4.4,-0.4M446,400.2l-0.5,-2.4M449,393.6l-3.5,4.2M446,262.3l-0.4,-8.3M445.6,254l0.4,-0.4M445.6,245.9l0.4,7.7M447.2,244.6l-1.6,1.3M445.6,236.2l1.6,1.3M445.7,228.9l-0.1,7.3M445.7,500.6l1.7,3M447.8,495.1l-2.1,5.5M446,269.9l-0.1,-7.5M449.6,382.4l-3.7,0.4M449.8,530.9l-3.8,-5.1M446,525.8l2.2,-7.1M452.7,261.9l-6.7,0.4M446,253.6l7.2,0M451.2,401.6l-5.2,-1.4M446,269.9l1.1,0.9M446.1,369.5l3,1M446.2,451.8l3.7,-1M446.2,352l0.6,2.1M446.2,352l3.6,-4.7M446.3,436.3l2.8,5.5M446.7,434.8l-0.4,1.5M446.4,507.6l-0.1,-0.3M447.4,503.6l-1.1,3.7M446.3,390.4l2.7,3.2M446.3,389.7l0,0.7M446.3,485.2l3.7,3.5M450.2,480.9l-3.9,4.3M450.2,386.7l-3.9,3M452.1,509.9l-5.7,-2.3M446.6,228.6l4.1,0.1M452.8,433.6l-6.1,1.2M448.3,355.6l-1.5,-1.5M447.2,244.6l8.3,1.5M447.2,237.5l0,7.1M450.4,415.5l-3.2,1M454.8,236.3l-7.6,1.2M451.2,425.1l-3.9,-0.2M447.4,462.9l3.3,4.1M449.9,459.2l-2.5,3.7M453,502.4l-5.6,1.2M448.4,363.7l-0.6,0.1M447.8,495.1l1.8,-0.5M451.2,448.5l-3.4,-4.1M449.1,441.8l-1.3,2.6M447.9,376.4l2,5.5M447.9,376.4l1.3,-1.2M450.4,518.4l-2.2,0.3M450.6,569.4l-2.3,-0.4M448.4,355.9l-0.1,-0.3M448.3,355.6l5.9,-3.8M450.1,358.2l-1.7,-2.3M452.7,365.8l-4.3,-2.1M450.1,358.2l-1.7,5.5M448.6,330.6l0.5,5M448.6,330.6l1.7,-1.7M448.9,308.3l0.7,-7.1M452.2,394.1l-3.2,-0.5M449,308.4l0.1,6.4M449,308.4l6.8,-0.1M449.1,314.8l1,0.9M449.2,375.2l-0.1,-4.7M449.1,370.5l2.8,-1.4M450.7,336.8l-1.6,-1.2M453.8,440.6l-4.7,1.2M449.2,375.2l4.5,0.3M449.4,560.5l5,4.9M450.3,556.5l-0.9,4M449.4,322.7l0.8,0.7M450.1,315.7l-0.7,7M449.5,469.6l3.1,3.7M450.7,467l-1.2,2.6M449.6,382.4l0.6,4.3M449.6,382.4l0.3,-0.5M453.9,499.7l-4.3,-5.1M449.6,494.6l0.8,-1.4M449.9,301l-0.3,0.2M449.8,347.3l-0.1,-2.9M450.7,343.5l-1,0.9M449.7,458.6l0.2,0.6M451.7,454.2l-2,4.4M449.8,530.9l3.3,0.7M454.2,351.8l-4.4,-4.5M451.1,414.3l-1.2,-5.8M449.9,408.5l0.5,-0.6M457,302.3l-7.1,-1.3M449.9,301l0.8,-6.6M456,461.2l-6.1,-2M449.9,381.9l4,-0.9M449.9,450.8l1.8,3.4M449.9,450.8l1.3,-2.3M450,488.7l0.4,4.5M454.8,485.4l-4.8,3.3M455.3,359.9l-5.2,-1.7M450.2,480.9l-0.1,-2.8M452.2,476.5l-2.1,1.6M455.9,315.6l-5.8,0.1M450.2,323.4l0.1,5.5M450.2,323.4l6.5,-0.8M454.8,484.1l-4.6,-3.2M452.3,387.9l-2.1,-1.2M450.3,328.9l6.4,1.4M450.9,294.3l-0.6,-7.1M450.3,556.5l4.2,-1.6M455.1,520.2l-4.7,-1.8M450.4,518.4l1.7,-8.5M450.4,415.5l2.8,5.5M451.1,414.3l-0.7,1.2M450.4,407.9l0.8,-6.3M450.4,407.9l8.5,0M457,491.8l-6.6,1.4M453.3,287.1l-2.8,-0.1M450.5,287l0.1,-0.7M454.4,565.4l-3.8,4M450.7,343.5l0,-6.7M455.8,335.8l-5.1,1M455,465.6l-4.3,1.4M457.5,343.9l-6.8,-0.4M456.7,294.3l-5.8,0M451.1,414.3l6.6,-0.6M455.7,447.1l-4.5,1.4M451.2,425.1l3.2,4.1M453.2,421l-2,4.1M451.2,401.6l1.5,-1M451.5,540.3l4,5.9M451.5,540.3l2.7,-7.3M451.7,454.2l4.1,0.7M451.9,369.1l2.9,4.8M452.9,367.2l-1,1.9M455.5,508l-3.4,1.9M452.7,400.6l-0.5,-6.5M452.5,393.8l-0.3,0.3M452.2,476.5l5,1.5M452.6,473.3l-0.4,3.2M452.3,387.9l0.2,5.9M452.3,387.9l3.9,-1.4M452.5,393.8l1.5,-0.3M452.6,473.3l5.2,-2.8M452.7,400.6l4.8,0.8M452.7,365.8l0.2,1.4M455.6,361.7l-2.9,4.1M452.8,433.6l2.5,3.9M452.8,433.6l1.6,-4.4M452.9,367.2l6.2,1.8M455.5,508l-2.5,-5.6M453.9,499.7l-0.9,2.7M454.2,533l-1.1,-1.4M455.9,522.5l-2.8,9.1M453.1,261.6l0.1,-8M453.2,421l7.2,-1.6M453.2,253.6l3.3,-2.4M453.7,375.5l0.9,4.7M453.7,375.5l1.1,-1.6M453.8,440.6l1.9,6.5M455.3,437.5l-1.5,3.1M456.2,386.5l-2.3,-5.5M453.9,381l0.7,-0.8M457.7,498.8l-3.8,0.9M454,393.5l4.4,2.5M457.4,390.2l-3.4,3.3M460.3,534.1l-6.1,-1.1M455.1,351.9l-0.9,-0.1M454.4,429.2l6,-1.3M456.7,565.2l-2.3,0.2M460.2,558.6l-5.7,-3.7M454.5,554.9l0.8,-8.3M454.6,380.2l5.4,-0.5M454.8,484.1l0,1.3M454.8,484.1l2.9,-3.1M456.9,373.5l-2.1,0.4M457.8,488.4l-3,-3M455,465.6l3,3.6M456,461.2l-1,4.4M455.1,351.9l1.4,6.4M455.1,351.9l2.4,-1.7M455.1,520.2l0.8,2.3M455.1,520.2l5.2,-4.6M455.3,359.9l0.3,1.8M455.3,359.9l1.2,-1.6M455.3,437.5l2.9,0.3M462.8,550.7l-7.4,-4.3M462.1,540.7l-6.6,5.5M456.5,251.2l-1,-5.1M455.8,245.6l-0.3,0.5M456.3,508.1l-0.8,-0.1M455.6,361.7l3.2,1.8M458.1,447.9l-2.4,-0.8M457.5,337.5l-1.7,-1.7M455.8,335.8l0.9,-5.5M455.8,308.3l0.1,7.3M455.8,308.3l0.7,-0.6M455.8,454.9l0.5,6.1M455.8,454.9l4.4,-4.3M455.9,522.5l9.4,4.3M455.9,315.6l0.5,0.3M456,461.2l0.3,-0.2M456.7,386.8l-0.5,-0.3M462,460.5l-5.7,0.5M456.3,508.1l4.1,7.2M460.4,505.5l-4.1,2.6M457.4,287.2l-1,0M456.4,315.9l0.3,6.7M456.4,315.9l6.5,-1M462.6,309.6l-6.1,-1.9M457,302.3l-0.5,5.4M456.5,358.3l4.5,-1M456.7,386.8l0.7,3.4M456.7,386.8l3.3,-1.5M456.7,322.6l0.9,0.7M456.7,330.3l0.8,-0.5M456.7,294.3l1.4,7M456.7,294.3l0.6,-0.5M459.6,568.7l-2.9,-3.5M456.7,565.2l3.7,-6.1M456.9,373.5l3.4,2.8M459.1,369l-2.2,4.5M458.3,493.4l-1.3,-1.6M457.8,488.4l-0.8,3.4M457,302.3l1.1,-1M457.7,481l-0.5,-3M457.2,478l2.8,-2.7M464.3,294l-7,-0.2M457.7,287.4l-0.4,6.4M457.4,287.2l0,-0.4M457.4,287.2l0.3,0.2M457.4,390.2l3,1.3M457.5,329.8l5.9,1M457.5,329.8l0.1,-6.5M457.5,337.5l0,6.4M457.5,337.5l6.3,-1.4M457.5,401.4l1.4,6.5M458.4,400.6l-0.9,0.8M457.5,350.2l5.4,2.3M457.5,350.2l0,-6.3M457.5,343.9l6.7,-0.4M464.3,322.4l-6.7,0.9M464.3,287.2l-6.6,0.2M461.5,500.8l-3.8,-2M457.7,498.8l0.6,-5.4M457.7,481l5.5,2.5M457.7,413.7l2.7,5.7M457.7,413.7l1.7,-4.6M460,475.3l-2.2,-4.8M458,469.2l-0.2,1.3M462.5,486.7l-4.7,1.7M466.2,466.3l-8.2,2.9M458.1,301.3l4.4,0.1M458.1,447.9l2.1,2.7M458.1,447.9l3,-5.8M461.1,442.1l-2.9,-4.3M461.8,435.1l-3.6,2.7M464.6,493.4l-6.3,0M458.4,396l0,4.6M458.4,400.6l5,-0.6M458.4,396l2.5,-2M458.8,363.5l0.6,5.4M464,362l-5.2,1.5M458.9,407.9l0.3,0.2M459.4,368.9l-0.3,0.1M459.2,408.1l0.2,1M466.1,404.3l-6.9,3.8M459.6,568.7l-0.3,0.9M463.1,369.4l-3.7,-0.5M467,412.8l-7.6,-3.7M459.6,568.7l6.1,0.9l4.3,-3M463.7,475.8l-3.7,-0.5M460,385.3l3.9,2.3M460.3,380l-0.3,5.3M460.3,380l-0.3,-0.3M460.3,376.3l-0.3,3.4M460.2,450.6l2.6,1M460.4,559.1l-0.2,-0.5M460.2,558.6l2.6,-7.9M463.9,373.5l-3.6,2.8M462.1,540.7l-1.8,-6.6M460.3,534.1l5.4,-4.1M465,380.7l-4.7,-0.7M460.3,515.6l5.6,3.5M465.2,510.7l-4.8,4.6M460.4,505.5l4.5,2.8M460.4,505.5l1.1,-4.7M460.4,391.5l0.5,2.5M463.9,387.9l-3.5,3.6M460.4,559.1l8.5,1.6M461.1,419.7l-0.7,-0.3M460.4,427.9l0.5,0.4M460.4,427.9l0.7,-8.2M464.8,395.7l-3.9,-1.7M466.7,428.7l-5.8,-0.4M461.8,435.1l-0.9,-6.8M461,357.3l3.1,4.3M462.9,352.5l-1.9,4.8M461.1,442.1l5.6,-0.6M465.6,418.5l-4.5,1.2M461.5,500.8l1.4,-0.6M466.7,436.7l-4.9,-1.6M465.8,463.8l-3.8,-3.3M462.8,451.6l-0.8,8.9M464.9,541.8l-2.8,-1.1M462.5,486.7l2.6,3.7M463.2,483.5l-0.7,3.2M464.3,307.7l-1.8,-6.3M463.8,300.4l-1.3,1M462.6,309.6l0.3,5.3M462.6,309.6l1.7,-1.9M467.5,549.1l-4.7,1.6M471.7,454.7l-8.8,-3.1M468.5,443.7l-5.6,7.9M462.9,500.2l4.1,1.7M465,494.3l-2.1,5.9M462.9,314.9l1,0.8M464.1,352.1l-1.2,0.4M463.1,369.4l0.8,4.1M464.7,367.8l-1.6,1.6M465.8,481.2l-2.6,2.3M463.4,400l2.7,4.3M465.1,396.6l-1.7,3.4M463.8,336.1l-0.4,-5.3M464.6,329.7l-1.2,1.1M465.9,480.9l-2.2,-5.1M467.4,470.4l-3.7,5.4M463.8,336.1l1.2,1.2M470.2,302.2l-6.4,-1.8M465,294.8l-1.2,5.6M464.3,322.4l-0.4,-6.7M469.5,314.5l-5.6,1.2M463.9,387.6l0,0.3M463.9,387.6l1.9,-2.2M463.9,387.9l2.9,3.5M463.9,373.5l5,2.8M464.7,367.8l-0.7,-5.8M464.1,361.6l-0.1,0.4M464.5,287l-0.5,-3M466.5,352.8l-2.4,-0.7M464.1,352.1l0.7,-8M469.2,359.7l-5.1,1.9M464.8,344.1l-0.6,-0.6M465,337.3l-0.8,6.2M464.3,287.2l0,6.8M469.7,307.5l-5.4,0.2M465,294.8l-0.7,-0.8M471.3,322.6l-6.9,-0.2M464.6,329.7l-0.2,-7.3M464.5,287l6.1,-0.4M470.9,330.1l-6.3,-0.4M465,494.3l-0.4,-0.9M465.1,490.4l-0.5,3M470.5,368.1l-5.8,-0.3M465.1,396.6l-0.3,-0.9M464.8,395.7l2,-4.3M464.8,344.1l6,0.6M467.5,549.1l-2.6,-7.3M471.7,537.9l-6.8,3.9M464.9,508.3l0.3,2.4M464.9,508.3l3.2,-3.4M465,337.3l5.4,-0.5M471.7,496.4l-6.7,-2.1M465,294.8l5.6,-0.3M465,380.7l0.8,4.7M468.7,377.7l-3.7,3M471.6,488.1l-6.5,2.3M465.1,396.6l6.1,1.5M465.2,510.7l4.4,1.7M466,528l-0.7,-1.2M465.3,526.8l0.6,-7.7M468.2,420.4l-2.6,-1.9M467,412.8l-1.4,5.7M471.6,535.6l-5.9,-5.6M465.7,530l0.3,-2M466.2,466.3l-0.4,-2.5M465.8,463.8l6.8,-7.8M472.5,487l-6.7,-5.8M465.9,480.9l-0.1,0.3M470.3,385.4l-4.5,0M465.9,519.1l3,-1.3M473.3,476.9l-7.4,4M473,525.1l-7,2.9M469.8,405.4l-3.7,-1.1M467.4,467.7l-1.2,-1.4M466.5,352.8l2.7,6.9M466.5,352.8l5.3,-2.8M466.7,428.7l2.3,5.7M466.7,428.7l3.3,-3.5M468.5,443.7l-1.8,-2.2M466.7,436.7l0,4.8M469,434.4l-2.3,2.3M470.9,391.1l-4.1,0.3M467,501.9l1.1,3M467,501.9l5.2,-4.3M470.6,409.9l-3.6,2.9M467.4,470.4l5.9,6.5M467.4,470.4l0,-2.7M467.4,467.7l8.8,-0.9M470.1,550.1l-2.6,-1M471.3,506.1l-3.2,-1.2M470,425.2l-1.8,-4.8M468.2,420.4l7,-2.9M468.5,443.7l4.9,0.9M468.7,377.7l4.1,5.1M468.7,377.7l0.2,-1.4M474.4,520.1l-5.5,-2.3M469.6,512.4l-0.7,5.4M469.7,375.4l-0.8,0.9M468.9,560.7l1.1,5.9M468.9,560.7l1.9,-2.5M469,434.4l4.5,0.1M469.2,359.7l2.6,0.8M469.5,314.5l1.5,1.2M470.5,308.4l-1,6.1M471.5,511.4l-1.9,1M469.7,307.5l0.8,0.9M469.7,307.5l0.5,-5.3M470.5,368.1l-0.8,7.3M469.7,375.4l5.8,-0.6M469.8,405.4l0.8,4.5M470.8,403.9l-1,1.5M470,566.6l4.3,2.5l4.1,-0.8M475.6,426.7l-5.6,-1.5M470.1,550.1l0.7,8.1M470.1,550.1l1,-0.6M470.2,302.2l1.5,-1.3M470.3,385.4l0.6,5.7M470.3,385.4l2.5,-2.6M471.4,281.3l-1.1,-0.4M470.4,336.8l1.5,1.2M470.9,330.1l-0.5,6.7M476.6,308.7l-6.1,-0.3M470.5,368.1l1.7,-1.4M471.7,300.9l-1.1,-6.4M470.6,409.9l3.9,1.8M471.2,287.2l-0.6,-0.6M470.6,286.6l0.8,-5.3M470.8,558.2l10,0.1M471.2,287.2l-0.4,7.1M470.8,294.3l6.9,-0.1M471.8,350l-1,-5.3M470.8,344.7l1.3,-1.5M470.8,403.9l0.4,-5.8M470.8,403.9l8.6,-0.9M472.8,392.4l-1.9,-1.3M470.9,330.1l1,-0.7M471,315.7l0.4,6.9M477.1,314.9l-6.1,0.8M471.1,549.5l7.7,0.7M471.1,549.5l3.2,-8.4M473,396.2l-1.8,1.9M471.2,287.2l6.4,0.6M471.9,329.4l-0.6,-6.8M471.5,511.4l-0.2,-5.3M474.5,504.2l-3.2,1.9M474.4,278.8l-3,2.5M471.4,322.6l6.8,-1M474.6,512.3l-3.1,-0.9M471.6,535.6l0.1,2.3M477.6,531.6l-6,4M471.7,496.4l-0.1,-8.3M472.5,487l-0.9,1.1M471.7,496.4l0.4,0.5M471.7,454.7l0.9,1.3M473.4,444.6l-1.7,10.1M471.7,537.9l2.6,3.2M471.7,300.9l5.8,0.6M472.2,366.7l-0.4,-6.2M471.8,360.5l3.5,-2.2M471.8,350l2.6,1.5M472.1,343.2l-0.2,-5.2M471.9,338l6.2,-1.9M471.9,329.4l5.3,0.9M472.1,343.2l6.7,0.6M472.1,496.9l0.1,0.7M478.6,493.3l-6.5,3.6M472.2,497.6l3.1,4.1M478.2,369.4l-6,-2.7M473.1,486.9l-0.6,0.1M474.1,456.5l-1.5,-0.5M472.8,392.4l0.2,3.8M472.8,392.4l2.2,-1.4M472.8,382.8l3,0.3M473,396.2l6,2.1M477.7,529.2l-4.7,-4.1M473,525.1l1.4,-5M473.1,486.9l6,2.4M476,477.4l-2.9,9.5M473.3,476.9l2.7,0.5M473.4,444.6l0.5,-0.2M475.8,438.8l-2.3,-4.3M477,429l-3.5,5.5M473.9,444.4l6.1,2.6M473.9,444.4l1.9,-5.6M477.7,461.7l-3.6,-5.2M474.1,456.5l7.8,-5.5M474.3,541.1l4.6,0.5M474.4,351.5l1.3,5.7M474.4,351.5l4.1,-2.5M477.5,279l-3.1,-0.2M477,518.5l-2.6,1.6M475.2,417.5l-0.7,-5.8M474.5,411.7l4.1,-1.6M478.3,508.9l-3.8,-4.7M474.5,504.2l0.8,-2.5M477,518.5l-2.4,-6.2M478.3,508.9l-3.7,3.4M480.8,392.3l-5.8,-1.3M476.9,384.3l-1.9,6.7M475.2,417.5l2.7,2.3M479.9,500.7l-4.6,1M481,362.6l-5.7,-4.3M475.7,357.2l-0.4,1.1M477.5,379l-2,-4.2M478.3,370.1l-2.8,4.7M477,428.8l-1.4,-2.1M475.6,426.7l2.3,-6.9M482.8,354.4l-7.1,2.8M475.8,438.8l9.1,-1.4M475.8,383.1l1.1,1.2M475.8,383.1l1.7,-4.1M476,477.4l2,-0.7M476.2,466.8l3.9,5.5M477.7,461.7l-1.5,5.1M477.1,314.9l-0.5,-6.2M477.2,308.1l-0.6,0.6M481.7,385.7l-4.8,-1.4M477,428.8l8.5,-3.5M477,429l7.9,6.9M477.3,518.5l-0.3,0M477.1,314.9l1.2,1M477.2,330.3l1.2,5.5M477.2,330.3l1.6,-1.6M477.2,308.1l8.8,0.8M477.2,308.1l0.3,-6.6M478.9,520.5l-1.6,-2M479.7,517l-2.4,1.5M477.5,301.5l0.7,-0.6M478.5,287l-1,-8M477.5,279l1.1,-0.7M477.5,379l5.6,-1.6M477.6,287.8l0.3,6.2M477.6,287.8l0.9,-0.8M477.7,461.7l7.9,-1.3M478.2,300.9l-0.5,-6.7M483.1,418.8l-5.2,1M485,293.7l-7.1,0.3M482.4,481.8l-4.4,-5.1M480.1,472.3l-2.1,4.4M479.3,343.3l-1.2,-7.2M478.1,336.1l0.3,-0.3M478.2,300.9l3.8,0.1M478.2,369.4l0.1,0.7M478.2,369.4l2.3,-2.6M478.2,321.6l1,0.9M478.2,321.6l0.1,-5.7M478.3,315.9l5.9,-1.6M483.9,375l-5.6,-4.9M478.3,508.9l1.4,0M478.4,335.8l7.4,0M479.4,569.6l-1,-1.3M478.4,568.3l4.2,-5.6M478.5,349l5.2,2.6M478.8,343.8l-0.3,5.2M483.9,287l-5.4,0M482.8,412.5l-4.2,-2.4M478.6,410.1l1.4,-6.3M478.6,493.3l3,4.6M478.6,493.3l0.7,-3.8M485.8,280.8l-7.2,-2.5M479.2,276.2l-0.6,2.1M481.2,554l-2.4,-3.8M478.8,550.2l2.3,-5.7M478.8,328.7l7.1,1.1M478.8,328.7l0.4,-6.2M478.8,343.8l0.5,-0.5M478.9,541.6l2.2,2.9M479.9,539.7l-1,1.9M479.4,403l-0.4,-4.7M479,398.3l3.4,-3.5M482.4,481.8l-3.3,7.5M479.2,322.5l5.9,-0.3M488.3,490.9l-9,-1.4M479.3,343.3l3.9,-0.1M479.4,403l0.6,0.8M481.2,511.1l-1.5,-2.2M482.6,505.3l-2.9,3.6M482.6,505.3l-2.7,-4.6M481.6,497.9l-1.7,2.8M480,403.8l2.5,0.1M480,447l1.9,4M480,447l5.9,-7.4M480.1,472.3l4.8,-1.2M486.9,368l-6.4,-1.2M480.5,366.8l0.5,-4.2M480.8,558.3l1.7,2.5M480.8,558.3l0.4,-4.3M480.8,392.3l1.6,2.5M481.7,385.7l-0.9,6.6M485.2,360.2l-4.2,2.4M481.2,554l2.1,-1.1M488.3,497.1l-6.7,0.8M483.8,384.9l-2.1,0.8M485.8,452.7l-3.9,-1.7M482,301l4.3,6.5M482,301l3.6,-3.4M482.4,481.8l7.1,0.6M482.4,394.8l3.1,0.2M482.6,562.7l-0.1,-1.9M485.3,559.7l-2.8,1.1M482.5,403.9l5.5,5.5M486.8,400.6l-4.3,3.3M487.5,565.9l-4.9,-3.2M483.2,505.4l-0.6,-0.1M482.8,412.5l0.3,6.3M482.8,412.5l5.2,-3.1M485.4,359.7l-2.6,-5.3M482.8,354.4l0.9,-2.8M485,382.1l-1.9,-4.7M483.9,375l-0.8,2.4M484.1,419.5l-1,-0.7M486.4,349.8l-3.2,-6.6M483.2,343.2l2.9,-2.9M483.7,351.6l2.5,-1.5M487.3,388l-3.5,-3.1M483.8,384.9l1.2,-2.8M483.9,287l2.9,3.8M483.9,287l1.9,-6.2M487,373.7l-3.1,1.3M484.1,419.5l1.4,5.8M484.1,419.5l6,-2.1M484.2,314.3l2.4,4.4M486.2,309.4l-2,4.9M486,439.4l-1.1,-2M484.9,435.9l0,1.5M487.2,432.6l-2.3,3.3M484.9,471.1l1,0.3M484.9,471.1l1.2,-9.8M485,382.1l5.7,-1.3M485,293.7l0.6,3.9M486.8,290.8l-1.8,2.9M487.6,325.9l-2.5,-3.7M486.6,318.7l-1.5,3.5M488.2,364.1l-3,-3.9M485.2,360.2l0.2,-0.5M491.6,356.4l-6.2,3.3M485.5,395l0.3,0.2M487.3,388l-1.8,7M485.6,297.6l5.1,2.8M485.6,460.4l0.5,0.9M485.6,460.4l1.3,-5.3M487.2,432.6l-1.5,-7.2M485.7,425.4l7,-0.7M486.9,455.1l-1.1,-2.4M485.8,452.7l4.2,-5.8M486.1,340.3l-0.3,-4.5M485.8,395.2l1,5.4M491.3,394.8l-5.5,0.4M487.2,280.1l-1.4,0.7M485.9,335.7l0,-5.9M487.5,327.8l-1.6,2M494.1,335.2l-8.2,0.5M485.9,471.4l4.8,9.4M493,469.6l-7.1,1.8M490,446.9l-4.1,-7.3M495.4,438.5l-9.4,0.9M486.2,309.4l-0.2,-0.5M486,308.9l0.3,-1.4M494,464.2l-7.9,-2.9M491.3,343.1l-5.2,-2.8M491.6,356.4l-5.4,-6.3M486.2,350.1l0.2,-0.3M486.2,309.4l5.4,2.2M486.3,307.5l4.4,-4.9M490.7,347.2l-4.3,2.6M492.6,317.8l-6,0.9M486.8,290.8l1,-0.1M486.8,400.6l4.5,2.6M486.9,455.1l7.5,0.4M486.9,368l1.3,2.6M486.9,368l1.3,-3.9M487,373.7l4,3.4M488.2,370.6l-1.2,3.1M487.2,432.6l6.6,-1.4M487.2,280.1l6,4.9M487.2,280.1l2.7,-5.8M487.3,388l3.3,-0.3M487.5,270.7l0.5,0.1M495.2,331l-7.7,-3.2M487.5,327.8l0.1,-1.9M487.6,325.9l5.7,-3.1M487.8,290.7l7.7,4.8M487.8,290.7l5.4,-5.7M488,409.4l0.9,0M489.5,272.4l-1.5,-1.6M488.2,270.2l-0.2,0.6M488.2,370.6l5.2,-1M488.2,364.1l5.5,-0.6M488.3,490.9l0,6.2M488.3,490.9l1.8,-2.4M488.7,497.6l-0.4,-0.5M488.7,497.6l-0.1,0.8M488.7,497.6l0.6,0.1M489.8,410.4l-0.9,-1M491.4,404.3l-2.5,5.1M489.5,272.4l0.4,1.9M489.5,272.4l10.3,-4M490.1,488.5l-0.6,-6.1M489.5,482.4l1.2,-1.6M498.4,412.1l-8.6,-1.7M490.1,417.4l-0.3,-7M499.2,279.6l-9.3,-5.3M495.2,446.8l-5.2,0.1M493.3,419.1l-3.2,-1.7M498,490.4l-7.9,-1.9M490.6,387.7l2.3,5.6M490.6,387.7l1.5,-1.6M490.7,300.4l0,2.2M490.7,300.4l4.8,-4.9M494.9,349.9l-4.2,-2.7M490.7,347.2l0.6,-4.1M496.4,306.1l-5.7,-3.5M492.1,386.1l-1.4,-5.3M490.7,380.8l0.5,-0.7M496.1,478.8l-5.4,2M491,377.1l0.2,3M494.8,374.6l-3.8,2.5M491.2,380.1l5.5,0.7M493.1,400.6l-1.8,-5.8M492.9,393.3l-1.6,1.5M491.3,403.2l0.1,1.1M493.1,400.6l-1.8,2.6M491.3,343.1l1.6,-1M499.8,407.2l-8.4,-2.9M492.3,356.6l-0.7,-0.2M491.6,311.6l2.4,4.4M491.6,311.6l4.9,-5M492.1,386.1l4.9,0.2M492.3,356.6l2.8,4.9M492.3,356.6l2.7,-3.3M492.6,317.8l0.7,5M494,316l-1.4,1.8M493.8,431.2l-1.1,-6.5M492.7,424.7l2,-2.6M492.9,393.3l4.6,-0.3M499.3,343.7l-6.4,-1.6M494.1,335.2l-1.2,6.9M493,469.6l5.1,5.2M494,464.2l-1,5.4M498.3,399.4l-5.2,1.2M496.9,284.8l-3.7,0.2M498,326.1l-4.7,-3.3M494.7,422.1l-1.4,-3M493.3,419.1l5.1,-7M493.4,369.6l1.4,5M493.4,369.6l0.7,-0.9M493.7,363.5l0.4,5.2M493.7,363.5l1.4,-2M493.8,431.2l0.3,0.2M495,315.9l-1,0.1M494,464.2l3.3,-2.2M495.3,334.1l-1.2,1.1M495.8,438l-1.7,-6.6M502.3,429l-8.2,2.4M494.1,368.7l7,0.8M494.4,455.5l2.9,6.5M494.4,455.5l2.6,-3.8M498.2,422.7l-3.5,-0.6M494.8,374.6l3.4,1M494.9,349.9l0.1,3.4M498.9,347l-4,2.9M495,315.9l7,4.6M495,315.9l6.2,-5.5M502,354.8l-7,-1.5M498.7,361.5l-3.6,0M495.3,334.1l-0.1,-3.1M495.2,331l2.9,-4.4M497,451.7l-1.8,-4.9M495.2,446.8l1.1,-1.6M495.3,334.1l5.7,2.9M495.4,438.5l0.9,6.7M495.4,438.5l0.4,-0.5M495.5,295.5l1,-0.2M500.1,437.3l-4.3,0.7M501.4,485.6l-5.3,-6.8M498.1,474.8l-2,4M502.6,444.5l-6.3,0.7M496.4,306.1l0.1,0.5M496.4,306.1l4,-6.2M500.4,299.9l-3.9,-4.6M498.8,291.1l-2.3,4.2M501.2,310.4l-4.7,-3.8M498.3,384.3l-1.6,-3.5M496.7,380.8l1.9,-4M496.9,284.8l1.9,6.3M499.6,280.7l-2.7,4.1M498.4,391.9l-1.4,-5.6M497,386.3l1.3,-2M504.5,453l-7.5,-1.3M497.3,462l2.7,0.3M497.5,393l0.8,6.4M497.5,393l0.9,-1.1M498.1,326.6l-0.1,-0.5M498,326.1l4,-5.6M498.1,326.6l5.7,3M500.7,473.7l-2.6,1.1M498.2,375.6l0.4,1.2M501.3,370.8l-3.1,4.8M502.4,427.5l-4.2,-4.8M502,417.9l-3.8,4.8M498.3,399.4l2.7,2M502.6,383.6l-4.3,0.7M499.9,411.5l-1.5,0.6M502.7,391.9l-4.3,0M502.7,378.6l-4.1,-1.8M498.7,361.5l3.5,3M502,354.8l-3.3,6.7M505.6,291.1l-6.8,0M498.9,347l4.9,4.9M498.9,347l0.4,-3.3M499.6,280.7l-0.4,-1.1M499.2,279.6l2,-9.4M499.2,489.5l2.2,-3.9M499.3,343.7l0.9,-0.8M499.5,265l0.3,3.4M499.6,280.7l8.6,1M499.8,268.4l1.4,1.8M499.9,411.5l-0.1,-4.3M501.7,403.8l-1.9,3.4M499.9,411.5l0.7,0.6M500,462.3l4,4.1M504.9,453.7l-4.9,8.6M503.4,440.1l-3.3,-2.8M503.2,430.4l-3.1,6.9M506.6,344.5l-6.4,-1.6M501,337l-0.8,5.9M505.8,301.1l-5.4,-1.2M500.6,412.1l1.4,5.8M509.2,411.9l-8.6,0.2M507.1,477.4l-6.4,-3.7M500.7,473.7l3.3,-7.3M501,401.4l0.7,2.4M504.8,396.6l-3.8,4.8M501,337l2.9,-1.3M501.1,369.5l0.2,1.3M501.1,369.5l1.6,-3.3M501.2,270.2l7.2,1M503.8,310.6l-2.6,-0.2M501.3,370.8l4.4,3.3M506,484.7l-4.6,0.9M506.8,404.2l-5.1,-0.4M502,320.5l0.3,-0.2M502,354.8l0.8,-0.5M507.5,420.2l-5.5,-2.3M502.7,366.2l-0.5,-1.7M502.2,364.5l5.3,-5.3M508.6,325.2l-6.3,-4.9M505,316.1l-2.7,4.2M503.2,430.4l-0.9,-1.4M502.3,429l0.1,-1.5M507.5,422.8l-5.1,4.7M505.6,385.5l-3,-1.9M502.6,383.6l0.1,-5M502.6,444.5l2.7,2.8M503.4,440.1l-0.8,4.4M502.7,391.9l2.1,4.7M502.7,391.9l3.4,-3.3M506.3,376.4l-3.6,2.2M508,367.1l-5.3,-0.9M502.8,354.3l4.7,4.9M503.8,351.9l-1,2.4M503.2,430.4l6.3,3.1M503.4,440.1l6.3,-2.5M503.8,351.9l2.3,-1.4M503.8,310.6l1.2,5.5M503.8,310.6l0.4,-0.3M503.8,329.6l0.1,6.1M503.8,329.6l5.2,-2.9M503.9,335.7l3.4,0.9M504,466.4l4.2,-0.5M504.2,310.3l1.6,-9.2M513.4,309.8l-9.2,0.5M504.5,453l0.4,0.7M505.3,447.3l-0.8,5.7M504.8,396.6l4,0.6M510.3,455.8l-5.4,-2.1M512,317.6l-7,-1.5M511.8,444.4l-6.5,2.9M508.7,295l-3.1,-3.9M508.5,282.7l-2.9,8.4M505.6,385.5l0.5,3.1M509.3,382.1l-3.7,3.4M506.3,376.4l-0.6,-2.3M508.9,370.9l-3.2,3.2M508.2,299.8l-2.4,1.3M510.9,391l-4.8,-2.4M506.1,350.5l5.4,1.3M506.6,344.5l-0.5,6M508.6,377.9l-2.3,-1.5M506.6,344.5l3.1,-2.3M510.3,409.2l-3.5,-5M506.8,404.2l3.7,-4.6M507.4,483.7l-0.3,-6.3M507.1,477.4l5.2,-3.4M509.8,341.9l-2.5,-5.3M510.7,333.6l-3.4,3M509.4,359.3l-1.9,-0.1M513.9,427.2l-6.4,-4.4M507.5,422.8l0,-2.6M507.5,260.2l3.9,0.4M507.5,420.2l3.6,-3.9M508,367.1l0.9,3.8M509.8,365.8l-1.8,1.3M512.3,474l-4.1,-8.1M509.2,464.9l-1,1M513.3,302.3l-5.1,-2.5M508.2,299.8l0.5,-4.8M508.2,281.7l0.3,1M508.4,281.5l0,-10.3M508.4,281.5l9,-3.3M510.2,269.9l-1.8,1.3M508.5,282.7l6.5,5.8M509,326.7l-0.4,-1.5M508.6,325.2l3.8,-7M509.3,382.1l-0.7,-4.2M508.6,377.9l4.1,-2.2M514.6,291.5l-5.9,3.5M508.8,397.2l1.7,2.4M508.8,397.2l2.1,-6.2M508.9,370.9l4.6,1.7M511,328.1l-2,-1.4M511.1,416.3l-1.9,-4.4M510.3,409.2l-1.1,2.7M510.3,455.8l-1.1,9.1M518.8,464.7l-9.6,0.2M509.3,382.1l2.8,0.9M509.8,365.8l-0.4,-6.5M512.2,357.9l-2.8,1.4M509.5,433.5l0.2,4.1M513.9,429.7l-4.4,3.8M509.7,342.2l4.6,6.6M509.7,342.2l0.1,-0.3M509.7,437.6l2.8,3.6M516.9,339.4l-7.1,2.5M509.8,365.8l4.1,0.6M510.2,269.9l8.6,3.8M510.2,269.9l1.6,-8.5M510.3,455.8l0.4,-0.1M510.3,409.2l3.3,-1.6M512.3,399.9l-1.8,-0.3M517.5,336.4l-6.8,-2.8M510.7,333.6l0.3,-5.5M517.3,457.7l-6.6,-2M514.4,448.6l-3.7,7.1M510.9,391l0.5,-0.1M514.9,327.5l-3.9,0.6M511.1,416.3l3.9,1M511.4,390.9l5,4.4M511.4,390.9l2.8,-3.1M511.8,261.4l-0.4,-0.8M511.4,260.6l0.9,-1.8M511.5,351.8l0.7,6.1M514.3,349.2l-2.8,2.6M522.4,266.2l-10.6,-4.8M511.8,444.4l2.6,4.2M511.8,444.4l0.7,-3.2M512,317.6l0.4,0.6M513.4,309.8l-1.4,7.8M512,258l0.3,0.8M512.1,383l2.1,4.8M512.1,383l4.3,-2.9M512.2,357.9l1.6,0.6M512.3,258.8l8.3,-4.9M516.5,474.9l-4.2,-0.9M512.3,399.9l2.6,3.1M512.3,399.9l4.1,-4.6M515.5,319.3l-3.1,-1.1M512.5,441.2l3.7,-0.9M516.5,379.5l-3.8,-3.8M512.7,375.7l0.8,-3.1M513.3,302.3l2.2,4.4M513.3,302.3l6.2,-6.2M515.3,308.1l-1.9,1.7M515.3,371.1l-1.8,1.5M513.6,407.6l6.9,3.6M514.9,403l-1.3,4.6M513.8,358.5l1.7,3.9M519.3,356.3l-5.5,2.2M513.9,427.2l0,2.5M513.9,427.2l3.7,-5.1M513.9,429.7l6.3,3.3M513.9,366.4l1.9,3.1M513.9,366.4l1.6,-4M515.7,387.7l-1.5,0.1M514.3,349.2l0,-0.4M518.8,342.5l-4.5,6.3M517.5,350.6l-3.2,-1.4M521.6,449.7l-7.2,-1.1M514.6,291.5l4.9,4.6M515,288.5l-0.4,3M520.3,333.4l-5.4,-5.9M514.9,327.5l2,-3.2M521,402.1l-6.1,0.9M515,288.5l6.7,-3.6M515,417.3l2.6,4.8M520.6,411.3l-5.6,6M515.3,371.1l4.4,3.7M515.8,369.5l-0.5,1.6M519.8,312.3l-4.5,-4.2M515.3,308.1l0.2,-1.4M515.5,306.7l7,-2.5M520.8,363.3l-5.3,-0.9M515.5,319.3l1.4,5M519.6,317l-4.1,2.3M519.7,390.2l-4,-2.5M518.5,383.5l-2.8,4.2M521.8,367.2l-6,2.3M516,247.9l4.6,4.8M518.9,242.3l-2.9,3.7M521.5,443.1l-5.3,-2.8M520.2,433l-4,7.3M518.5,383.5l-2.1,-3.4M516.5,379.5l-0.1,0.6M516.6,475.3l-0.1,-0.4M518.6,472.6l-2.1,2.3M516.5,379.5l2.8,-1.9M521.1,400.6l-4.5,-5.3M519.7,392.4l-3.1,2.9M516.9,324.3l8,0.3M516.9,339.4l1.9,3.1M516.9,339.4l0.6,-3M520.1,462.3l-2.8,-4.6M521.6,449.7l-4.3,8M517.4,278.2l4.3,6.7M518.8,273.7l-1.4,4.5M517.5,350.6l1.8,5.7M522.3,348.7l-4.8,1.9M520.3,333.4l-2.8,3M517.6,422.1l4.5,0.5M523.1,384.3l-4.6,-0.8M518.8,464.7l1,6.3M520.1,462.3l-1.3,2.4M518.8,273.7l3.9,-2.6M518.8,342.5l1.8,0.7M519.3,377.6l3.1,1.5M519.7,374.8l-0.4,2.8M522.4,359.9l-2.9,-3.5M524.3,352.7l-4.8,3.7M523.3,296.1l-3.8,0M525.1,320.1l-5.5,-3.1M519.8,312.3l-0.2,4.7M522.7,373.1l-3,1.7M524.5,395.3l-4.8,-2.9M519.7,390.2l0,2.2M523.8,386.9l-4.1,3.3M528.5,310.1l-8.7,2.2M520.1,462.3l4.1,-1M523.9,427.5l-3.7,5.5M527.1,437.7l-6.9,-4.7M520.3,333.4l0.9,-0.2M522,403.4l-1.5,7.8M520.6,253.9l0,-1.2M525.4,246.6l-4.8,6.1M526.6,259.1l-6,-5.2M520.6,411.3l2.5,1.2M520.6,343.2l2,4.6M520.6,343.2l6.6,-3.3M521.8,367.2l-1,-3.9M522.4,359.9l-1.6,3.4M521,402.1l1,1.3M521.1,400.6l-0.1,1.5M521.1,400.6l3.6,-4.7M521.2,333.2l5.2,3.8M521.2,333.2l4.3,-6.7M521.7,449.7l-0.2,-6.6M527.3,438.4l-5.8,4.7M521.7,449.7l4.5,1.5M521.7,284.9l0.5,0.1M529.5,404l-7.5,-0.6M522,367.3l0.7,5.8M522,367.3l3,-0.1M523.9,427.5l-1.8,-4.9M522.9,421.9l-0.8,0.7M522.2,285l2.1,9.9M526.7,283.3l-4.5,1.7M524.3,352.7l-2,-4M522.3,348.7l0.3,-0.9M522.4,359.9l3.2,-0.4M522.4,266.2l0.6,4.2M522.4,266.2l4.2,-7.1M523.3,383.9l-0.9,-4.8M522.4,379.1l3.2,-2.2M527.8,307.9l-5.3,-3.7M522.5,304.2l0.8,-8.1M522.6,347.8l5.9,-1.5M526,374.6l-3.3,-1.5M528.4,278.6l-5.7,-7.5M523,270.4l-0.3,0.7M524.2,241.9l-1.4,-0.6M524.1,414.3l-1.2,7.6M532.5,421l-9.6,0.9M533.7,269.4l-10.7,1M524.1,414.3l-1,-1.8M529,408.5l-5.9,4M523.1,384.3l0.7,2.6M523.1,384.3l0.2,-0.4M523.3,383.9l5.5,-3.1M524,295.7l-0.7,0.4M527,388.8l-3.2,-1.9M531.1,429.1l-7.2,-1.6M530.5,299.8l-6.5,-4.1M524,295.7l0.3,-0.8M531.8,417l-7.7,-2.7M526.9,462.6l-2.7,-1.3M526.7,452.8l-2.5,8.5M524.2,241.9l1.2,4.7M525.5,241.1l-1.3,0.8M524.3,352.7l0.7,0.3M532.2,290l-7.9,4.9M524.7,395.9l-0.2,-0.6M524.5,395.3l2.5,-6.5M528.7,397.3l-4,-1.4M524.9,324.6l0.6,1.9M525.7,321.2l-0.8,3.4M528.3,369.4l-3.3,-2.2M525,367.2l2.9,-4.9M525,353l1.7,4.6M529.3,351.2l-4.3,1.8M525.1,320.1l0.6,1.1M528.5,310.1l-3.4,10M525.4,246.6l6.3,2.8M525.5,326.5l4.5,2M527.9,362.3l-2.3,-2.8M525.6,359.5l1.1,-1.9M528.8,380.8l-3.2,-3.9M526,374.6l-0.4,2.3M533.7,319.7l-8,1.5M528.9,372.8l-2.9,1.8M526.2,451.2l0.5,1.6M526.2,451.2l4.3,-3.8M526.4,337l0.8,2.9M526.4,337l5.1,-4.7M526.6,259.1l1.1,-0.2M534.5,457.8l-7.8,-5M530.6,356.3l-3.9,1.3M532.4,287.5l-5.7,-4.2M526.7,283.3l1.7,-4.7M527,388.8l2.7,-0.2M527.3,438.4l-0.2,-0.7M531.1,429.1l-4,8.6M527.2,339.9l1.8,1.5M536.3,438.5l-8.9,0M527.4,438.5l3.1,8.9M534.2,265.8l-6.5,-6.9M532.5,254.6l-4.8,4.3M528.6,310l-0.8,-2.1M527.8,307.9l2.7,-8.1M531.3,362.9l-3.4,-0.6M528.9,372.8l-0.6,-3.4M528.3,369.4l4.3,-3.6M528.4,278.6l5.6,-1.7M529.3,351.2l-0.8,-4.9M528.5,346.3l1.2,-1.8M528.6,310l5.3,1.2M530.4,403.1l-1.7,-5.8M528.7,397.3l3.2,-3.3M529.6,380.9l-0.8,-0.1M530.4,373.5l-1.5,-0.7M529,408.5l4.4,4.5M529.5,404l-0.5,4.5M529,341.4l0.7,3.1M535.1,338.1l-6.1,3.3M529.3,351.2l1.6,1.2M530.4,403.1l-0.9,0.9M529.6,380.9l1.7,2.7M532.3,377.2l-2.7,3.7M529.7,388.6l1.5,1.3M529.7,388.6l1.6,-5M529.7,344.5l5.2,1.7M531.5,332.3l-1.5,-3.8M530,328.5l5.7,-3.8M530.4,373.5l1.9,3.7M530.4,373.5l5.4,-2.9M534,403l-3.6,0.1M530.5,299.8l6.2,-1.3M530.5,447.4l0.8,0M533.6,358.8l-3,-2.5M530.9,352.4l-0.3,3.9M530.9,352.4l4.4,-1.2M532.4,428.3l-1.3,0.8M531.9,394l-0.7,-4.1M531.2,389.9l4.7,-1M536.6,451.9l-5.3,-4.5M538.1,442.6l-6.8,4.8M532.6,365.8l-1.3,-2.9M533.6,358.8l-2.3,4.1M531.3,383.6l4.6,-0.4M534.4,333.7l-2.9,-1.4M532.5,254.6l-0.8,-5.2M536.2,244.1l-4.5,5.3M532.7,420.6l-0.9,-3.6M531.8,417l1.6,-4M531.9,394l4,1.8M532.2,290l4.8,6.3M532.4,287.5l-0.2,2.5M535.9,377.6l-3.6,-0.4M532.4,287.5l5,-3.1M532.4,428.3l2.7,1.4M532.4,428.3l0.1,-7.3M532.5,421l0.2,-0.4M539.2,256.2l-6.7,-1.6M534.2,366.5l-1.6,-0.7M532.7,420.6l7.7,-0.5M537.8,410.7l-4.4,2.3M533.6,358.8l2.6,-0.5M533.7,269.4l2.6,3.8M533.7,269.4l0.5,-3.6M533.7,319.7l2,4.3M535.5,314.9l-1.8,4.8M533.9,311.2l1.6,3.7M537.7,307l-3.8,4.2M534,403l4,7.4M537,400.5l-3,2.5M534,276.9l3.4,7.5M534,276.9l2.3,-3.7M541.2,261.2l-7,4.6M535.8,370.6l-1.6,-4.1M534.2,366.5l4.9,-2.9M535.6,336.7l-1.2,-3M534.4,333.7l4.6,-4.5M536.6,451.9l-2,5.9M536,349.3l-1.1,-3.1M537.9,342.9l-3,3.3M537.2,436.4l-2.1,-6.7M535.1,429.7l6.4,-1.9M535.1,338.1l2.8,4.8M535.6,336.7l-0.5,1.4M535.3,351.2l1.9,3.8M535.3,351.2l0.7,-1.9M535.7,242.3l-0.4,-0.4M535.5,314.9l6.3,1.7M541.5,336.3l-5.9,0.4M535.7,324.7l3.3,4.5M535.7,324l0,0.7M535.7,324l5.5,-1.9M535.8,370.6l1.5,0.8M536.8,383.9l-0.9,-0.7M535.9,377.6l0,5.6M535.9,377.6l2.4,-1.5M537,400.5l-1.1,-4.7M535.9,395.8l4,-4.1M539.7,391.4l-3.8,-2.5M535.9,388.9l0.9,-5M541.4,349l-5.4,0.3M536.2,244.1l7.3,6.4M536.2,244.1l0,-1.1M536.8,242.7l-0.6,0.3M536.2,358.3l3.4,3.2M536.2,358.3l1,-3.3M536.3,438.5l1.8,4.1M536.3,438.5l0.9,-2.1M536.3,273.2l4.9,0.1M539.6,450.7l-3,1.2M538.1,300.4l-1.4,-1.9M537,296.3l-0.3,2.2M540.6,383.7l-3.8,0.2M543.1,290.3l-6.1,6M541.3,400.9l-4.3,-0.4M545.1,434.2l-7.9,2.2M537.2,355l5.2,-1.2M537.3,371.4l1,4.7M537.3,371.4l4.8,-2.7M539.9,284.8l-2.5,-0.4M544.6,309.2l-6.9,-2.2M538.1,300.4l-0.4,6.6M537.8,410.7l4,7.9M538,410.4l-0.2,0.3M541.6,343.1l-3.7,-0.2M538,410.4l2.3,-1.1M540.8,444.1l-2.7,-1.5M546.9,300.6l-8.8,-0.2M538.3,376.1l2.5,0.9M540.7,329.5l-1.7,-0.3M539.1,363.6l3,5.1M539.1,363.6l0.5,-2.1M541.2,261.2l-2,-5M539.2,256.2l4.3,-5.7M544.9,454.5l-5.3,-3.8M540.8,444.1l-1.2,6.6M539.6,361.5l4.1,-1.3M541.6,385.7l-1.9,5.7M539.9,391.7l2.6,1.2M543.1,290.3l-3.2,-5.5M543.8,280.4l-3.9,4.4M540.3,409.3l7.6,2.1M542.9,402.1l-2.6,7.2M540.4,420.1l1.1,7.7M540.4,420.1l1.3,-1.2M540.6,383.7l1,2M540.6,383.7l2.2,-3.6M541.9,335.7l-1.2,-6.2M542.4,328.7l-1.7,0.8M542.8,380.1l-2,-3.1M540.8,377l3.6,-4.1M540.8,444.1l4,-0.7M541.2,322.1l2.8,2.5M541.8,316.6l-0.6,5.5M545,263.5l-3.8,-2.3M541.2,273.3l2.6,7.1M543.7,271.1l-2.5,2.2M542.9,402.1l-1.6,-1.2M541.3,400.9l1.5,-7.3M543,350.5l-1.6,-1.5M541.4,349l0.2,-5.9M541.5,427.8l1.2,0.6M543.1,342l-1.6,-5.7M541.5,336.3l0.4,-0.6M543.1,342l-1.5,1.1M541.6,385.7l4.6,1.4M547.8,421.4l-6.1,-2.5M541.8,418.6l6.1,-7.2M541.8,316.6l2.1,-0.7M541.9,335.7l5.7,-1.2M544.4,372.9l-2.3,-4.2M545.5,366.8l-3.4,1.9M548.2,331.3l-5.8,-2.6M544,324.6l-1.6,4.1M542.4,353.8l2.6,3.6M543,350.5l-0.6,3.3M542.8,393.6l-0.3,-0.7M542.5,392.9l3.7,-3.1M545.1,434.2l-2.4,-5.8M548.5,424.9l-5.8,3.5M542.8,380.1l2.5,0.1M542.8,393.6l4.9,2.5M542.9,402.1l2.3,0.1M543,350.5l5.3,-1.8M543.1,290.3l5.2,1.1M544.9,342.2l-1.8,-0.2M543.5,250.5l2.7,-0.8M546.1,363.5l-2.4,-3.3M543.7,360.2l1.3,-2.8M543.7,271.1l7.1,2.6M543.7,271.1l1.3,-7.6M551.4,281.4l-7.6,-1M543.9,315.9l3,1.2M544.6,309.2l-0.7,6.7M547.5,323.3l-3.5,1.3M547.2,373.5l-2.8,-0.6M546.2,308.2l-1.6,1M544.6,455.1l0.3,-0.6M547.5,450.3l-2.7,-6.9M544.8,443.4l1.3,-1.3M544.9,454.5l0.5,-0.2M544.9,342.2l4,5.4M544.9,342.2l3.5,-3M545,263.5l4.4,-1.3M545,357.4l5,-1.3M546.1,434.8l-1,-0.6M545.2,402.2l2,1.2M545.2,402.2l2.5,-6.1M545.3,380.2l1.6,1.4M548.3,375.5l-3,4.7M545.5,366.8l4.2,2.6M545.5,366.8l0.6,-3.3M545.6,241.2l0.8,0.6M552.5,442.8l-6.4,-0.7M546.1,434.8l0,7.3M552.2,432.7l-6.1,2.1M546.1,363.5l6,-0.6M546.2,387.1l0,2.7M546.2,387.1l1,-1.1M552,310.2l-5.8,-2M546.9,300.6l-0.7,7.6M546.2,249.7l3.6,1.4M546.4,241.8l-0.2,7.9M546.2,389.8l3.4,1.7M551.9,239.5l-5.5,2.3M546.9,317.1l0.6,6.2M550.7,315.7l-3.8,1.4M547.2,386l-0.3,-4.4M552.1,381.2l-5.2,0.4M549.7,298.8l-2.8,1.8M547.2,386l5.2,0.4M547.2,373.5l1.1,2M549.7,369.4l-2.5,4.1M547.2,403.4l1.6,7.8M547.2,403.4l4.8,-1.8M550.5,325l-3,-1.7M548.4,339.2l-0.8,-4.7M548.6,332.7l-1,1.8M547.7,396.1l1.6,-0.6M548.5,424.9l-0.7,-3.5M547.8,421.4l4,-4.1M548.8,411.2l-0.9,0.2M548.2,331.3l0.4,1.4M550.5,325.1l-2.3,6.2M548.3,291.4l1.4,7.4M551.6,288l-3.3,3.4M548.3,348.7l1.9,6.9M548.9,347.6l-0.6,1.1M548.3,375.5l3,0.8M548.4,339.2l5,1.4M551.2,426.6l-2.7,-1.7M548.6,332.7l6.7,1M550.4,411.8l-1.6,-0.6M548.9,347.6l2,-0.7M549.3,395.5l1.8,1M549.6,391.5l-0.3,4M549.4,262.2l2.1,0.7M549.4,262.2l0.4,-11.1M553.3,389.4l-3.7,2.1M549.7,369.4l2.6,-0.7M553.1,300.1l-3.4,-1.3M549.8,251.1l1.7,-0.4M552.6,360.7l-2.6,-4.6M550.2,355.6l-0.2,0.5M550.2,355.6l5,-2.3M551.8,417.3l-1.4,-5.5M554,410l-3.6,1.8M554.9,320.5l-4.4,4.5M550.5,325.1l6.5,4.5M550.7,315.7l4.2,4.8M552.3,312.2l-1.6,3.5M550.8,273.7l1.2,6.9M550.8,273.7l3.1,-3.2M556.1,350.9l-5.2,-4M550.9,346.9l2.7,-3.7M551.1,396.5l0.9,5.1M551.1,396.5l4.4,-1.7M552.2,432.7l-1,-6.1M551.2,426.6l4.6,-2.8M552.1,381.2l-0.8,-4.9M554.4,374.2l-3.1,2.1M551.6,288l-0.2,-6.6M551.4,281.4l0.6,-0.8M553.9,270.5l-2.4,-7.6M551.5,262.9l5,-1.6M557.7,253.8l-6.2,-3.1M555.5,244.1l-4,6.6M551.6,288l5,1.5M556.3,419.7l-4.5,-2.4M551.9,239.5l3.6,4.6M552,239.1l-0.1,0.4M552,310.2l0.3,2M555.1,306l-3.1,4.2M552,280.6l6.2,-1.1M552,401.6l2.4,0.8M553.6,366.7l-1.5,-3.8M552.1,362.9l0.5,-2.2M553.8,382.5l-1.7,-1.3M554,433.6l-1.8,-0.9M554.4,374.2l-2.1,-5.5M552.3,368.7l1.3,-2M559.3,314.5l-7,-2.3M552.4,386.4l0.9,3M553.8,382.5l-1.4,3.9M552.7,443.6l-0.2,-0.8M554,441.5l-1.5,1.3M558.5,359.1l-5.9,1.6M553.1,300.1l2,5.9M553.1,300.1l5.7,-2.9M553.3,389.4l1.5,0.9M553.4,340.6l0.2,2.6M553.4,340.6l3,-3.8M558.8,366.9l-5.2,-0.2M559,345.7l-5.4,-2.5M557.4,381.7l-3.6,0.8M561.8,271.7l-7.9,-1.2M554.4,434.2l-0.4,-0.6M560.4,427.9l-6.4,5.7M561.1,414.9l-7.1,-4.9M554,410l2.3,-3.8M555.2,441.7l-1.2,-0.2M554.4,434.2l-0.4,7.3M562.8,437.1l-8.4,-2.9M556.9,374.9l-2.5,-0.7M556.3,406.2l-1.9,-3.8M557.2,398.9l-2.8,3.5M554.8,390.3l1.2,3.4M558.7,388l-3.9,2.3M555.7,320.5l-0.8,0M555.1,306l5.7,1.5M555.2,353.3l3.8,4.3M555.2,353.3l0.9,-2.4M555.3,333.7l1.1,3.1M555.3,333.7l1.7,-4.1M559.9,243.9l-4.4,0.2M555.5,394.8l1.7,4.1M556,393.7l-0.5,1.1M559.2,326.3l-3.5,-5.8M559.2,317.9l-3.5,2.6M560.4,427.9l-4.6,-4.1M556.3,419.7l-0.5,4.1M556,393.7l5,-0.2M559.4,349l-3.3,1.9M558.7,418.6l-2.4,1.1M561.6,405.9l-5.3,0.3M557.9,337.2l-1.5,-0.4M561.8,263.7l-5.3,-2.4M556.5,261.3l1.2,-7.5M556.6,289.5l2.6,6.7M556.6,289.5l6.1,-3.4M557.4,381.7l-0.5,-6.8M556.9,374.9l2.1,-1.1M557,329.6l1.3,-0.8M557.2,398.9l3,0.2M557.4,381.7l1.2,0.5M560.9,217.2l-3.5,3.6M557.7,253.8l5.1,-1.8M562,342.1l-4.1,-4.9M561.3,335.7l-3.4,1.5M564.1,238.2l-6.1,-3.2M558.2,279.5l4.6,5.5M562.3,272.4l-4.1,7.1M558.3,328.8l5.6,2.6M558.3,328.8l0.9,-2.5M561.2,364.7l-2.7,-5.6M558.5,359.1l0.5,-1.5M558.6,382.2l0.1,5.8M558.6,382.2l2.1,-0.3M558.7,388l3.7,1.7M560.8,417.7l-2,0.8M558.8,297.2l5.2,5.1M558.8,297.2l0.4,-1M559,373.8l-0.2,-6.9M560.6,365.8l-1.8,1.1M563.1,374.7l-4.1,-0.9M559,345.7l0.4,3.3M562,342.1l-3,3.6M562.1,355.8l-3.1,1.8M559.1,226.9l8.3,1.3M566.8,292.1l-7.6,4.1M559.2,326.3l5.4,-3.3M559.2,317.9l4.8,2.7M559.3,314.5l-0.1,3.4M559.3,314.5l2.1,-2.5M563.7,351.4l-4.3,-2.4M562.8,252l-2.9,-8.1M559.9,243.9l4.4,-5M562.6,402.2l-2.4,-3.1M560.2,399.1l1.8,-3.4M560.4,427.9l2.4,0M566.1,372.2l-5.5,-6.4M561.2,364.7l-0.6,1.1M560.7,381.9l4.2,3.5M563.6,378.4l-2.9,3.5M562.3,419l-1.5,-1.3M560.8,417.7l0.3,-2.8M560.8,307.5l0.6,4.5M560.8,307.5l3.1,-2.8M561,393.5l1,2.2M561,393.5l1.6,-3.1M561.1,414.9l0.9,-1.1M564.7,363.4l-3.5,1.3M567.3,314l-5.9,-2M562,413.8l-0.4,-7.9M561.6,405.9l2.4,-1.7M561.8,263.7l0,8M568.6,259.1l-6.8,4.6M562.3,272.4l-0.5,-0.7M563.3,342.1l-1.3,0M568.9,412.1l-6.9,1.7M562,395.7l4.9,1M562.8,437.1l-0.7,1.9M565.4,358.9l-3.3,-3.1M563.7,351.4l-1.6,4.4M568.3,279.9l-6,-7.5M562.3,272.4l11.8,-3.1M562.4,389.7l0.2,0.7M564.9,385.4l-2.5,4.3M562.6,390.4l4.6,1.7M562.7,216.2l5.7,2.8M566.8,291.6l-4.1,-5.5M562.8,285l-0.1,1.1M567.5,253.6l-4.7,-1.6M564,404.2l-1.2,-1.6M562.9,429l-0.1,-1.1M563.8,427.1l-1,0.8M562.8,285l5.3,-3.9M562.8,437.1l1,-0.6M563.6,378.4l-0.5,-3.7M563.1,374.7l3,-2.5M563.8,436.5l-0.6,-5.6M563.6,378.4l4.7,1.7M565,351l-1.3,0.4M567.1,428.4l-3.3,-1.3M565,422.6l-1.2,4.5M568.1,437.1l-4.3,-0.6M571.2,308.5l-7.3,-3.8M564,302.3l-0.1,2.4M564,320.6l0.6,2.4M567.4,315.9l-3.4,4.7M564,302.3l3.7,-3.1M564.3,238.9l-0.2,-0.7M564.1,238.2l3.3,-10M568,408.4l-3.8,-4.2M564.2,404.2l1.1,-1.1M568.8,241.1l-4.5,-2.2M564.6,323l2.5,1.7M567.1,364.8l-2.4,-1.4M565.8,360l-1.1,3.4M567.9,385l-3,0.4M565.9,329.3l1.2,-4.6M566.6,339.9l-0.6,1.2M567.8,371.9l-1.7,0.3M566.6,339.9l3.7,-1.5M566.8,292.1l1.5,2.1M566.8,291.6l0,0.5M566.8,291.6l6.7,-5.4M566.9,344.5l1.3,2.5M566.9,396.7l0.9,1.3M566.9,396.7l0.3,-4.6M571.2,324.3l-4.1,0.4M569.7,390.2l-2.5,1.9M567.3,314l0.1,1.9M571.2,310l-3.9,4M567.4,315.9l5.1,3.9M570.3,226.3l-2.9,1.9M568.6,259.1l-1.1,-5.5M572.2,247.9l-4.7,5.7M568.2,347l-0.5,0.7M567.7,299.2l4.6,2.5M568.3,294.2l-0.6,5M567.8,399l0,-1M567.8,398l6.3,-3.2M567.9,385l2.3,2.8M567.9,385l0.9,-2.8M568.1,437.1l0.6,0.7M568.1,437.1l3.6,-6.8M570.9,414.4l-2.8,5.5M568.1,281.1l5.4,5.1M568.3,279.9l-0.2,1.2M571,332.9l-2.8,-0.6M568.5,347l-0.3,0M568.3,279.9l6.4,-4.4M568.3,294.2l6.6,1M568.4,219l1.9,7.3M575.1,212.2l-6.7,6.8M573.6,350.7l-5.1,-3.7M573.7,343.8l-5.2,3.2M568.6,259.1l3.3,2.2M572.2,247.9l-3.4,-6.8M568.8,241.1l8.4,-6.8M570.9,414.4l-2,-2.3M574.1,394.8l-4.4,-4.6M570.2,387.8l-0.5,2.4M570,208l4.8,2.2M570.2,387.8l5.3,-1M574,342.1l-3.7,-3.7M572,335l-1.7,3.4M574.6,227.7l-4.3,-1.4M570.4,408.3l4.4,-3.2M570.9,414.4l1.1,0.1M572,335l-1,-2.1M571,332.9l1.9,-3.9M572.9,329l-1.7,-4.7M572.5,322.9l-1.3,1.4M571.2,310l5.3,4.9M571.2,310l0,-1.5M571.2,308.5l1.3,-1.4M571.7,430.3l-0.3,-0.2M573,354.5l-1.5,0.5M571.7,430.3l1.3,-0.6M571.9,261.3l2.2,8M571.9,261.3l7.5,-3.3M572,335l4.3,0.5M572.2,247.9l4.1,0M572.5,307.1l-0.2,-5.4M575.8,298.7l-3.5,3M579.9,305.8l-7.4,1.3M572.5,322.9l6.5,0.8M572.5,322.9l0,-3.1M576.5,314.9l-4,4.9M577.6,329.8l-4.7,-0.8M575.9,356.4l-2.9,-1.9M573.6,350.7l-0.6,3.8M573,429.7l1.1,0.5M573,428.5l0,1.2M573.1,415.3l3.2,5.2M573.5,286.2l2.1,0.1M577.8,348.7l-4.2,2M577.6,347.1l-3.9,-3.3M573.7,343.8l0.3,-1.7M576.7,360.3l-2.8,1.2M574,342.1l3.9,-2.8M574.9,395l-0.8,-0.2M574.1,430.2l0.7,1.6M574.1,430.2l2.4,-0.5M574.7,275.5l-0.4,-6.1M574.3,269.4l8.7,-1M574.6,227.7l2.7,5.2M574.6,227.7l8.3,-7M574.6,376.3l2.7,0.2M574.7,275.5l1.7,1.8M574.8,210.2l0.3,2M574.8,210.2l3.1,-5.2M574.8,397.5l0.1,-2.5M574.9,295.2l0.9,3.5M576.6,292.9l-1.7,2.3M575.8,406.7l-0.9,-1.6M577.9,393.5l-3,1.5M581.9,216.9l-6.8,-4.7M576.6,292.9l-1,-6.6M575.6,286.3l0.5,-0.4M578.3,300.1l-2.5,-1.4M576.7,360.3l-0.8,-3.9M575.9,356.4l5.6,-4.6M576.4,277.3l-0.3,8.6M584.5,285.4l-8.4,0.5M576.3,202l1.6,3M577.9,339.3l-1.6,-3.8M578.2,333.2l-1.9,2.3M579.1,371.3l-2.8,-2.1M576.3,247.9l3.7,2.4M576.3,247.9l3.8,-8.2M576.4,277.3l5.4,0.7M576.5,314.9l2.1,0.1M582.5,293.7l-5.9,-0.8M576.7,360.3l1.9,1.1M579.3,363.3l-2.4,4M580.1,239.7l-2.9,-5.4M577.2,234.3l0.1,-1.4M588.2,231.8l-10.9,1.1M577.6,329.8l0.6,3.4M580,327l-2.4,2.8M577.8,348.7l-0.2,-1.6M577.6,347.1l3.8,-4.8M581.5,351.8l-3.7,-3.1M577.9,205l9.6,-1.4M580.8,340.5l-2.9,-1.2M582.3,333.9l-4.1,-0.7M578.3,300.1l1.6,5.7M583.8,296.9l-5.5,3.2M578.6,315l1.8,7.8M580.7,313.6l-2.1,1.4M578.6,361.4l0.7,1.9M578.6,361.4l5.6,-3.9M579.3,363.3l2.7,1.7M579.4,258l6.4,4.1M579.4,258l0.6,-7.7M580.6,306.2l-0.7,-0.4M580,323.5l0.4,-0.7M585.4,249.4l-5.4,0.9M580.1,239.7l7.1,1.4M586.9,320.9l-6.5,1.9M580.6,306.2l0.1,7.4M580.6,306.2l3.4,-1M580.7,313.6l4.7,1M580.8,424l0.5,2.4M581.4,342.3l-0.6,-1.8M580.8,340.5l2.5,-2.9M585.9,345.1l-4.5,-2.8M582.2,352l-0.7,-0.2M581.8,278l2.9,5.7M581.8,278l3.8,-5.8M582.9,220.7l-1,-3.8M581.9,216.9l7.7,-8.7M582.2,352l2,5.5M582.2,352l3.8,-2.9M583.9,296.6l-1.4,-2.9M584.9,287.3l-2.4,6.4M582.9,220.7l5.2,2.5M583.3,337.6l-0.3,-1.7M583,268.4l2.6,3.8M585.8,262.1l-2.8,6.3M583.3,405.8l-0.2,0.5M584,337.7l-0.7,-0.1M583.8,296.9l2.2,4.3M583.9,296.6l8,-2.7M584,305.2l4.7,3.5M586,301.2l-2,4M584.2,357.5l1.6,0.9M585.4,329.8l-1.2,-0.7M584.7,283.7l-0.2,1.7M584.5,285.5l0.4,1.8M592.8,285.2l-8.3,0.3M590.8,277.4l-6.1,6.3M591.7,293.1l-6.8,-5.8M586.9,320.9l-1.5,-6.3M585.4,314.6l2.7,-2.1M589.6,325.8l-4.2,4M589.7,252.4l-4.3,-3M585.4,249.4l1.8,-8.3M586.1,412.6l-0.6,0.3M585.6,272.2l4.1,1.5M588.3,261l-2.5,1.1M585.9,345.1l0.1,4M587.4,343.8l-1.5,1.3M586,301.2l5.4,-0.1M588.1,349.9l-2.1,-0.8M586,199.5l1.9,2.7M587.2,419.7l-0.8,-0.4M589,322.2l-2.1,-1.3M587.7,420.6l-0.5,-0.9M587.2,419.7l0.4,-0.2M587.2,241.1l1.6,-1.1M587.5,203.6l2.1,4.6M587.9,202.2l-0.4,1.4M591.8,198.7l-3.9,3.5M588.1,223.2l1.1,7.3M588.1,223.2l3.9,-2.2M595.8,316.1l-7.7,-3.6M588.1,312.5l0.6,-3.8M588.2,231.8l0.6,8.2M589.2,230.5l-1,1.3M594.6,263.7l-6.3,-2.7M589.7,252.4l-1.4,8.6M592.8,306.3l-4.1,2.4M597.1,242.3l-8.3,-2.3M589,322.2l0.6,3.6M589,322.2l7.1,-4.6M589.2,230.5l8.7,1M594.5,328.8l-4.9,-3M594.7,211.2l-5.1,-3M589.6,334.6l4.8,-0.7M589.7,252.4l1.9,-0.7M590.8,277.4l-1.1,-3.7M589.7,273.7l3,-2.3M590.8,277.4l3.4,2.4M591.4,301.1l1.8,3.1M593.2,295.3l-1.8,5.8M591.6,251.7l6.2,2.7M591.6,251.7l5.5,-9.4M591.9,293.9l-0.2,-0.8M591.7,293.1l2.8,-5.8M591.9,293.9l1.3,1.4M599.4,223.7l-7.4,-2.7M592,221l2.7,-9.8M600.4,274.1l-7.7,-2.7M594.6,263.7l-1.9,7.7M597.5,311.3l-4.7,-5M593.2,304.2l-0.4,2.1M592.8,285.2l1.7,2.1M594.2,279.8l-1.4,5.4M593.2,295.3l3.8,0.3M599.3,302.3l-6.1,1.9M595.9,279.6l-1.7,0.2M595.3,330.7l-0.9,3.2M598.7,287.4l-4.2,-0.1M595.3,330.7l-0.8,-1.9M594.5,328.8l4.1,-6.1M598.2,262.8l-3.6,0.9M597.8,210.9l-3.1,0.3M596.8,330.6l-1.5,0.1M595.3,198.2l5.2,1.8M596.1,317.6l-0.3,-1.5M597.5,311.3l-1.7,4.8M595.9,279.6l4.4,3.8M600.4,274.1l-4.5,5.5M596.1,317.6l0.4,0.3M598.6,322.7l-2.1,-4.8M602.7,317.2l-6.2,0.7M599.4,302.3l-2.4,-6.7M598.9,294.4l-1.9,1.2M597.7,242.1l-0.6,0.2M601.8,309.2l-4.3,2.1M601.7,244.5l-4,-2.4M599.3,234.5l-1.6,7.6M602.7,216.4l-4.9,-5.5M601.2,206.9l-3.4,4M597.8,254.4l1.1,7.7M601.9,251l-4.1,3.4M599.3,234.5l-1.4,-3M600.4,225.8l-2.5,5.7M602.4,272.3l-4.2,-9.5M598.2,262.8l0.7,-0.7M600.9,323.7l-2.3,-1M600.1,289.5l-1.4,-2.1M600.3,283.4l-1.6,4M598.9,262.1l5.9,-1.1M598.9,294.4l4.2,1.4M600.1,289.5l-1.2,4.9M599.3,234.5l10.1,-0.5M599.3,302.3l2.5,6.9M599.4,302.3l4.1,-1.6M600.4,225.8l-1,-2.1M599.4,223.7l3.3,-7.3M600.1,289.5l6.4,0M604.5,281.8l-4.2,1.6M600.4,225.8l6.5,0.6M600.4,274.1l0.7,-0.2M601.2,206.9l-0.7,-6.9M600.5,200l2.1,-1.6M604.5,281.8l-3.4,-7.9M602.4,272.3l-1.3,1.6M601.2,206.9l5.1,0.2M601.7,244.5l0.2,6.5M607.9,243.3l-6.2,1.2M601.8,309.2l1.7,0.3M606.6,254.4l-4.7,-3.4M608.5,271.3l-6.1,1M602.6,198.4l5.7,1M602.7,197.2l-0.1,1.2M609.2,216.8l-6.5,-0.4M603.7,310.6l-0.2,-1.1M604.2,296.2l1.4,0.5M604.5,281.8l3,0.9M610.5,264.8l-5.7,-3.8M606.6,254.4l-1.8,6.6M605.6,296.7l0.5,0.9M605.9,294.6l-0.3,2.1M605.8,298.5l0.3,-0.9M610.1,297.2l-4,0.4M610.1,213.4l-3.8,-6.3M609,204.7l-2.7,2.4M609.7,253.3l-3.1,1.1M606.9,226.4l2.8,3.2M609.9,217.8l-3,8.6M607.5,282.7l0.2,4.6M607.5,282.7l3.1,-2.2M611.5,247l-3.6,-3.7M607.9,243.3l2.9,-6.8M609,204.7l-0.7,-5.3M611.8,196.8l-3.5,2.6M608.5,271.3l3,4.1M610.6,265.3l-2.1,6M609,204.7l4.5,0.8M609.2,216.8l0.7,1M610.1,213.4l-0.9,3.4M609.4,234l1.4,2.5M609.7,229.6l-0.3,4.4M609.7,253.3l4.2,2.9M611.5,247l-1.8,6.3M616.2,226.4l-6.5,3.2M616.4,220.1l-6.5,-2.3M610.1,213.4l4.9,-4M610.6,265.3l-0.1,-0.5M614,260.8l-3.5,4M610.6,280.5l5.3,2.8M611.5,275.4l-0.9,5.1M610.6,265.3l8.7,3.7M610.8,236.5l1.2,0.1M615.3,247l-3.8,0M611.5,275.4l5.5,-0.9M611.5,196.2l0.3,0.6M617.3,198l-5.5,-1.2M618.9,241.7l-6.9,-5.1M619.9,232.7l-7.9,3.9M612.9,290.6l1,0.4M615,209.4l-1.5,-3.9M613.5,205.5l4.3,-6.7M613.8,295.7l0.1,-4.7M613.9,256.2l0.1,4.6M618.9,253.1l-5,3.1M615.5,289.8l-1.6,1.2M621.8,261.7l-7.8,-0.9M619,210.6l-4,-1.2M619.3,251.3l-4,-4.3M615.3,247l3.6,-5.3M622,291.6l-5.8,-2M616.2,226.4l4.8,3.8M616.4,220.1l-0.2,6.3M617.8,219.3l-1.4,0.8M622.3,279.3l-5.3,-4.8M617,274.5l2.3,-5.5M617.3,198l0.5,0.8M617.8,195.6l-0.5,2.4M617.8,198.8l4.2,1.9M617.8,219.3l9,3.7M620,214.8l-2.2,4.5M623.7,259.6l-4.8,-6.5M618.9,253.1l0.4,-1.8M622.5,240.9l-3.6,0.8M620,214.8l-1,-4.2M619,210.6l4.9,-4.9M619.3,251.3l3.7,-1.8M621.7,267.9l-2.4,1.1M622.5,240.9l-2.6,-8.2M621,230.2l-1.1,2.5M620,214.8l8.3,0.5M623.9,229.4l-2.9,0.8M624.6,269.6l-2.9,-1.7M621.8,261.7l-0.1,6.2M621.8,292.4l0.2,-0.8M623.7,259.6l-1.9,2.1M622,200.7l2,4.8M629.6,194.3l-7.6,6.4M623.6,290.8l-1.6,0.8M622.2,281.1l0.1,-1.8M624.9,276.4l-2.6,2.9M623.9,241.4l-1.4,-0.5M628.5,252.1l-5.5,-2.6M623,249.5l1.2,-7.5M624.4,291.3l-0.8,-0.5M624.5,287.1l-0.9,3.7M623.7,259.6l1.8,-0.4M623.9,241.4l0.3,0.6M623.9,241.4l5.7,-6.2M628.9,214.8l-5,-9.1M629.6,235.2l-5.7,-5.8M623.9,229.4l3.3,-5.5M631.9,204.8l-7.9,0.7M631.3,245.5l-7.1,-3.5M624.9,276.4l-0.3,-6.8M629.4,268.3l-4.8,1.3M632.5,276.2l-7.6,0.2M625.5,259.2l4.9,4.3M629.2,254l-3.7,5.2M626.8,223l0.4,0.9M626.8,223l1.5,-7.7M627.2,223.9l4.3,0.8M628.3,215.3l0.6,-0.5M629.2,254l-0.7,-1.9M628.5,252.1l2.8,-6.6M628.9,214.8l1.6,-0.4M629.2,254l3.4,0.7M629.4,268.3l2.7,2.4M630.4,263.5l-1,4.8M629.6,235.2l3.4,-0.1M630.1,284.6l0.6,0.1M630.4,263.5l5.4,-1.9M630.5,214.4l5.7,4.6M634.5,209.4l-4,5M631.7,285.6l-1,-0.9M630.7,284.7l0.3,-1M630.9,194.2l4.8,2.3M634,244.6l-2.7,0.9M634.5,229l-3,-4.3M631.5,224.7l4.7,-4.5M631.5,288.4l0.2,-2.8M631.7,285.6l1.4,0M634.5,209.4l-2.6,-4.6M635.7,196.5l-3.8,8.3M632.1,270.7l0.4,5.5M637.6,268.3l-5.5,2.4M632.9,276.7l-0.4,-0.5M632.6,278l0.3,-1.3M636.6,260.4l-4,-5.7M632.6,254.7l4.2,-3.6M636.1,277l-3.2,-0.3M634,244.6l-1,-9.5M633.6,234.8l-0.6,0.3M641.5,236.2l-7.9,-1.4M633.6,234.8l0.9,-5.8M634,244.6l1.5,0.7M639.9,210.1l-5.4,-0.7M634.5,229l6.3,-2.2M635.5,285.7l0.6,0.1M635.5,245.3l1.3,5.8M635.5,245.3l6.9,-2.1M640.8,195.8l-5.1,0.7M637.6,268.3l-1.8,-6.7M635.8,261.6l0.8,-1.2M636.2,219l0,1.2M640.1,215.3l-3.9,3.7M640.8,223.8l-4.6,-3.6M636.6,260.4l6.2,-1.7M641.6,252.9l-4.8,-1.8M637.6,268.3l3.2,1.6M637.9,284.3l0.2,-0.2M639.9,210.1l0.2,5.2M641.9,208.5l-2,1.6M646.5,219.4l-6.4,-4.1M640.3,184.7l3.5,3.3M641.8,274.4l-1.4,1.1M642.4,197.8l-1.6,-2M643.8,188l-3,7.8M644,230.1l-3.2,-3.3M640.8,226.8l0,-3M640.8,269.9l1,4.5M644,266.3l-3.2,3.6M646.5,219.4l-5.7,4.4M643.9,240.5l-2.4,-4.3M641.5,236.2l2.5,-6.1M642.8,258.7l-1.2,-5.8M644.1,249.1l-2.5,3.8M642.4,274.6l-0.6,-0.2M648.3,210.5l-6.4,-2M641.9,208.5l0.5,-10.7M642.4,243.2l1.7,5.9M643.9,240.5l-1.5,2.7M642.4,197.8l7,2.1M643.1,258.9l-0.3,-0.2M643.1,258.9l0.9,7.4M643.1,258.9l1.8,-0.2M651,184.6l-7.2,3.4M643.9,240.5l4.7,-0.2M646.3,229.6l-2.3,0.5M650.4,267.9l-6.4,-1.6M650.2,250.3l-6.1,-1.2M644.9,258.7l6.3,3.6M650.4,254l-5.5,4.7M653,234.5l-6.7,-4.9M650.4,223.2l-4.1,6.4M648,219.3l-1.5,0.1M647.3,170.1l1.9,0.1M650.4,223.2l-2.4,-3.9M649.7,215.9l-1.7,3.4M649.7,215.9l-1.4,-5.4M648.3,210.5l4.4,-4.7M648.6,240.3l4.1,4.8M653,234.5l-4.4,5.8M650.4,267.9l-1.4,3.7M649.2,170.2l1.8,14.4M649.2,170.2l7.7,-6M649.4,199.9l3.3,5.9M649.4,199.9l7.7,-5.6M658.9,214.8l-9.2,1.1M650.2,250.3l0.8,-1.1M651,267.6l-0.6,0.3M656.3,225.2l-5.9,-2M659.1,187.8l-8.1,-3.2M654.1,268.5l-3.1,-0.9M651.2,262.3l-0.2,5.3M655.3,259.4l-4.1,2.9M652.6,153.3l4.3,10.9M652.7,205.8l3.3,0.6M653,234.5l1.2,-0.4M678,155.7l-1.4,-7.8l-3.7,-4.1l-10.1,-1.6l-9.2,8.8M655.3,258.2l0,1.2M655.8,259.7l-0.5,-0.3M658.9,214.8l-2.9,-8.4M660.5,203.1l-4.5,3.3M656.8,226l-0.7,3.6M656.3,225.2l0.5,0.8M656.3,225.2l3.8,-9.7M656.8,226l0.5,0.1M663.3,166l-6.4,-1.8M657.1,194.3l3.4,8.8M659.1,187.8l-2,6.5M658.6,263.9l-0.8,1.7M660.1,215.5l-1.2,-0.7M666.3,173.6l-7.2,14.2M667.9,191.5l-8.8,-3.7M660.1,215.5l2.5,-0.1M664.6,203.7l-4.1,-0.6M664,216.6l-1.4,-1.2M666.3,209.2l-3.7,6.2M663.3,166l3,7.6M678,155.7l-14.7,10.3M664.9,258.6l-0.9,-1.1M666.3,209.2l-1.7,-5.5M668.7,199.7l-4.1,4M666.7,258l-0.9,1.1M681.9,181.5l-15.6,-7.9M674.1,210.4l-7.8,-1.2M666.4,264.5l0.6,-1.1l-0.3,-0.3M667.9,191.5l0.8,8.2M676.3,188.1l-8.4,3.4M677.7,203.7l-9,-4M675.7,208.7l2.1,-4.3M676.3,188.1l3.3,12.4M681.9,181.5l-5.6,6.6M677.7,203.7l0.1,0.7M679.6,200.5l-1.9,3.2M681.5,206.4l-3.7,-2M681,157.8l-3,-2.1M688.6,197.6l-9,2.9M681,157.8l4.2,22.1M686.9,157.7l-5.9,0.1M684.3,180.8l-2.4,0.7M689.9,195.6l-5.6,-14.8M685.2,179.9l-0.9,0.9M695.3,178l-10.1,1.9M688.9,199.1l-0.3,-1.5M689.9,195.6l-1.3,2M694.4,195.9l-4.5,-0.3M702.5,187.7l-7.2,-9.7M696.1,177.1l-0.8,0.9M702.5,188.8l-1.9,2.5" fill="none" stroke="#000" stroke-width="0.7"/>
<path d="M195.3,625.5 197.2,611.2 199,596.9 200.9,582.7 202.8,568.5 204.7,554.3 206.5,540.1 208.4,526 210.2,511.9 212.1,497.8 214,483.8 215.8,469.7 217.6,455.7 219.5,441.7 221.3,427.7 223.2,413.7 225,399.7 226.9,385.8 228.7,371.8 230.5,357.9 232.4,344 234.2,330 236,316.1 237.9,302.1 239.7,288.2 241.6,274.3 243.4,260.3 245.2,246.4 247.1,232.4 248.9,218.5 250.8,204.5 252.6,190.5 254.4,176.5 256.3,162.5 258.1,148.4 260,134.4 261.8,120.3 263.7,106.2 265.6,92.1 267.4,77.9 M300.1,636.3 301.2,621.9 302.3,607.6 303.4,593.3 304.5,579 305.6,564.7 306.6,550.5 307.7,536.3 308.8,522.1 309.8,507.9 310.9,493.8 312,479.7 313,465.6 314.1,451.5 315.2,437.4 316.2,423.3 317.3,409.3 318.3,395.3 319.4,381.2 320.5,367.2 321.5,353.2 322.6,339.2 323.6,325.1 324.7,311.1 325.7,297.1 326.8,283.1 327.9,269.1 328.9,255.1 330,241 331,227 332.1,212.9 333.2,198.8 334.2,184.8 335.3,170.7 336.3,156.5 337.4,142.4 338.5,128.2 339.6,114 340.6,99.8 341.7,85.6 M405.5,641.3 405.7,626.9 406,612.5 406.3,598.2 406.6,583.8 406.9,569.5 407.1,555.3 407.4,541 407.7,526.8 408,512.6 408.3,498.4 408.5,484.3 408.8,470.1 409.1,456 409.4,441.9 409.6,427.8 409.9,413.7 410.2,399.6 410.5,385.5 410.7,371.5 411,357.4 411.3,343.4 411.6,329.3 411.9,315.3 412.1,301.2 412.4,287.2 412.7,273.1 413,259 413.2,245 413.5,230.9 413.8,216.8 414.1,202.7 414.3,188.6 414.6,174.4 414.9,160.3 415.2,146.1 415.4,131.9 415.7,117.7 416,103.4 416.3,89.1 M510.9,640.4 510.4,626 509.8,611.7 509.3,597.3 508.8,583 508.3,568.7 507.8,554.4 507.3,540.2 506.8,526 506.2,511.8 505.7,497.6 505.2,483.5 504.7,469.3 504.2,455.2 503.7,441.1 503.2,427 502.7,412.9 502.2,398.9 501.7,384.8 501.1,370.7 500.6,356.7 500.1,342.6 499.6,328.6 499.1,314.6 498.6,300.5 498.1,286.5 497.6,272.4 497.1,258.3 496.6,244.3 496.1,230.2 495.6,216.1 495,202 494.5,187.9 494,173.8 493.5,159.6 493,145.4 492.5,131.2 492,117 491.5,102.8 490.9,88.5 M616.1,633.7 614.8,619.3 613.5,605 612.1,590.7 610.8,576.4 609.5,562.2 608.2,548 606.9,533.8 605.6,519.6 604.3,505.5 603,491.4 601.7,477.3 600.4,463.2 599.1,449.1 597.8,435.1 596.5,421 595.2,407 593.9,393 592.6,379 591.4,365 590.1,351 588.8,337 587.5,323 586.2,309 584.9,295 583.6,281 582.3,267 581,253 579.8,238.9 578.5,224.9 577.2,210.9 575.9,196.8 574.6,182.8 573.3,168.7 572,154.6 570.7,140.5 569.4,126.3 568.1,112.1 566.8,98 565.5,83.7 M720.8,621.1 718.7,606.8 716.5,592.6 714.4,578.4 712.3,564.2 710.2,550.1 708.1,536 706,521.9 703.9,507.8 701.9,493.8 699.8,479.7 697.7,465.7 695.6,451.7 693.5,437.8 691.5,423.8 689.4,409.9 687.3,395.9 685.2,382 683.2,368.1 681.1,354.2 679,340.3 677,326.4 674.9,312.5 672.8,298.6 670.8,284.7 668.7,270.7 666.6,256.8 664.6,242.9 662.5,229 660.4,215.1 658.4,201.1 656.3,187.2 654.2,173.2 652.1,159.2 650,145.2 648,131.2 645.9,117.1 643.8,103 641.7,88.9 639.6,74.8 M108.5,517.2 121.2,519.6 133.9,521.8 146.6,524 159.4,526.1 172.1,528 184.9,529.9 197.7,531.7 210.5,533.5 223.3,535.1 236.1,536.6 249,538 261.8,539.4 274.7,540.6 287.5,541.8 300.4,542.9 313.3,543.8 326.1,544.7 339,545.5 351.9,546.2 364.8,546.8 377.7,547.3 390.6,547.7 403.6,548.1 416.5,548.3 429.4,548.4 442.3,548.5 455.2,548.4 468.1,548.3 481,548.1 493.9,547.7 506.8,547.3 519.7,546.8 532.6,546.2 545.5,545.5 558.4,544.7 571.3,543.9 584.2,542.9 597.1,541.8 609.9,540.7 622.8,539.4 635.6,538.1 648.5,536.7 661.3,535.1 674.1,533.5 686.9,531.8 699.7,530 712.5,528.1 725.2,526.1 738,524.1 750.7,521.9 763.4,519.6 776.1,517.3 788.8,514.9 801.5,512.3 814.1,509.7 826.7,507 839.3,504.2 851.9,501.3 864.5,498.3 M129.8,404.1 141.7,406.3 153.6,408.4 165.5,410.5 177.5,412.4 189.4,414.3 201.4,416 213.3,417.7 225.3,419.3 237.3,420.8 249.3,422.3 261.3,423.6 273.4,424.9 285.4,426 297.4,427.1 309.5,428.1 321.5,429 333.6,429.9 345.7,430.6 357.7,431.3 369.8,431.8 381.9,432.3 394,432.7 406,433 418.1,433.2 430.2,433.3 442.3,433.4 454.4,433.3 466.5,433.2 478.6,433 490.7,432.7 502.7,432.3 514.8,431.8 526.9,431.3 539,430.6 551,429.9 563.1,429.1 575.1,428.2 587.2,427.2 599.2,426.1 611.3,424.9 623.3,423.7 635.3,422.3 647.3,420.9 659.3,419.4 671.3,417.8 683.2,416.1 695.2,414.3 707.1,412.5 719.1,410.5 731,408.5 742.9,406.4 754.8,404.2 766.6,401.9 778.5,399.5 790.3,397.1 802.2,394.6 814,391.9 825.7,389.2 837.5,386.4 M151.1,291.8 162.1,293.8 173.2,295.8 184.3,297.7 195.5,299.5 206.6,301.3 217.7,302.9 228.9,304.5 240.1,306 251.2,307.4 262.4,308.7 273.6,310 284.8,311.1 296.1,312.2 307.3,313.3 318.5,314.2 329.7,315 341,315.8 352.2,316.5 363.5,317.1 374.7,317.6 386,318.1 397.3,318.4 408.5,318.7 419.8,318.9 431.1,319 442.3,319.1 453.6,319 464.9,318.9 476.1,318.7 487.4,318.4 498.6,318.1 509.9,317.6 521.2,317.1 532.4,316.5 543.7,315.8 554.9,315.1 566.1,314.2 577.4,313.3 588.6,312.3 599.8,311.2 611,310 622.2,308.8 633.4,307.4 644.6,306 655.7,304.5 666.9,303 678,301.3 689.2,299.6 700.3,297.8 711.4,295.9 722.5,293.9 733.6,291.9 744.6,289.7 755.7,287.5 766.7,285.3 777.7,282.9 788.7,280.4 799.7,277.9 810.7,275.3 M172.3,179.4 182.6,181.3 192.9,183.1 203.2,184.9 213.5,186.6 223.8,188.2 234.1,189.7 244.5,191.2 254.8,192.6 265.2,193.9 275.6,195.1 285.9,196.3 296.3,197.4 306.7,198.4 317.1,199.3 327.5,200.2 338,201 348.4,201.7 358.8,202.3 369.2,202.9 379.7,203.4 390.1,203.8 400.6,204.1 411,204.4 421.4,204.6 431.9,204.7 442.3,204.7 452.8,204.7 463.2,204.6 473.7,204.4 484.1,204.1 494.6,203.8 505,203.4 515.4,202.9 525.9,202.3 536.3,201.7 546.7,201 557.1,200.2 567.5,199.3 577.9,198.4 588.3,197.4 598.7,196.3 609.1,195.2 619.5,193.9 629.9,192.6 640.2,191.2 650.6,189.8 660.9,188.3 671.2,186.6 681.5,185 691.8,183.2 702.1,181.4 712.4,179.5 722.6,177.5 732.9,175.5 743.1,173.4 753.3,171.2 763.5,168.9 773.7,166.6 783.9,164.1" fill="none" stroke="#999" stroke-width="0.6" stroke-opacity="0.18"/>
<path d="M604,196 603.6,203 604.4,214" fill="none" stroke="#000" stroke-width="2.4" stroke-linecap="round"/>
<path d="M644.1,265.9 645.9,265.3 647.3,268.8 646.5,272.4 644.7,272.9 644.1,269.4Z" fill="#000"/>
<path d="M703.4,189.4 702.7,190.2 701.4,190 701.4,191.9 699.9,191.5 699.4,192.6 698.1,192.4 697.5,193.3 696.3,193.4 695.8,194.4 694.9,194.8 695,196.6 693.9,196.3 694.1,198.2 692.7,197.6 693.1,200 690.9,198.4 690.7,199.8 688.8,198.6 688.7,200.1 688,200.6 688.7,203 686.9,201.9 686.3,202.7 684.7,202.2 684.6,204 683.5,203.8 684.2,206.4 683,206.1 682.8,207.5 680.9,206.3 680,206.7 678.8,206.7 679.1,209.2 677,207.9 676.7,209.6 674.9,208.9 675.4,211 673.8,210.1 673.6,211.5 672.7,211.6 672.7,213.3 670.8,212 671,214.1 668.9,212.6 668.9,214.3 666.9,213 666.5,214 665.4,214 665.4,215.6 664.4,215.5 664,216.6 663.3,216.9 663.2,218.4 661.7,217.9 661.2,219 659.8,218.7 660,220.6 659,220.7 658.9,222.2 658.4,223" fill="none" stroke="#000" stroke-width="1.2" stroke-linejoin="round"/>
<path d="M524,466 523.8,467.2 522.6,467.7 522.8,469.4 521.1,469.4 519.9,469.8 519.7,471.1 519,472 518.9,473.3 517.8,473.8 517,474.5 516.5,475.5 516,476.5 515.2,477.2 514.8,478.3 514,479 512.3,478.5 512.2,480.2 511.6,481.1 510.5,481.5 509.9,482.5 508.8,482.8 507.2,482.4 507,484 506.4,485.1 505.2,485.2 504.4,485.9 503.5,486.5 503.3,488.1 501.8,487.8 501.4,489.1 500,489 498.8,489.1 498.3,490.1 497.2,490.4 496.6,491.3 495.7,491.8 494.9,492.4 494,493 493.4,493.9 492.5,494.5 491.5,495 491,496 490.3,496.8 489.5,497.5 489.1,498.6 488,499 487.6,500.5 486,500.7 485,501.6 484,502.3 484.1,503.4 482.6,503.8 483.3,505.3 483.2,506.3 482.4,507.1 482,508 481,508.8 481.5,510 482.1,511.2 481,512 481.7,513.2 480.5,514 481.4,515.3 480,516 478.8,516.8 479.5,518 479.4,519 479,520 478.4,520.9 478.5,522 477,522.7 478,524 477.7,525 477.9,526 477.8,527 477.8,528 478.6,529 477.7,530 477.5,531 477.6,532 M318,546 317.5,546.9 317,547.8 317.6,549.2 316,549.5 315.8,550.6 315,551.2 315.3,552.6 314,553 313.4,553.8 313,554.8 312.6,555.7 312,556.5 310.7,556.9 311,558.2 310.8,559.3 310,560 309.5,558.4 308,559.2 307.1,558.5 306,558.4 305,558 303.9,558.4 303.6,559.4 302.9,560.1 302.1,560.9 301.4,561.6 300.7,562.3 300,563 299.1,564 298,563.3 296.9,563.1 296,563.7 295,563.6 294,564 293.3,562.5 292,563.5 291.1,562.7 290,563 288.8,563.6 288,562.5 287.2,561.5 286,562 285.1,561.4 284.3,560.6 282.8,560.6 282.6,559.1 282.6,557.4 280.9,557.7 280,557 279.9,555.7 278.7,555.3 279,553.7 277.3,553.7 277.4,552.2 276,552 274.8,551.8 274,551 273.6,549.2 272,550 271,549.5 270,549 269.2,547.6 268,548.7 266.9,549.1 266,548.3 264.8,549.3 264,548 263.2,546.7 262,547.7 260.9,548.3 260,547.3 259.1,546.3 258,547 256.6,547.2 256,546 254.4,546.7 254,545 253,544.4 252,544 250.4,544.6 250,543 248.9,543.2 248,542.6 246.9,542.9 246,542.2 245,541.8 244,541.8 242.7,542.9 242,541.4 240.7,542.5 240,541 M397,550 396.8,548.8 395.6,548.6 394.5,548.2 394.1,547.1 393.2,546.6 392.7,545.7 392,545 390.5,545.3 390.3,543.9 389.6,543 388.6,542.7 387.6,542.3 386.9,541.6 386,541 385.4,539.8 384,540 383,539.5 382,539 380.5,539.4 380,538 379,538.5 378,538 377,539 376,538 375,537.1 374,538 373,537.1 372,538 370.8,539 370,537.7 368.8,538.7 368,537.3 367,537.3 366,537 365.3,538 364.2,538.3 363.6,539.3 362.4,539.6" fill="none" stroke="#000" stroke-width="1.1" stroke-linejoin="round"/>
<circle cx="676" cy="207" r="1.1" fill="#000"/>
<circle cx="679" cy="209.5" r="1.0" fill="#000"/>
<circle cx="682" cy="206.5" r="1.1" fill="#000"/>
<circle cx="685.5" cy="205" r="0.9" fill="#000"/>
<circle cx="673" cy="204.5" r="0.9" fill="#000"/>
<circle cx="688" cy="200.5" r="0.9" fill="#000"/>
<circle cx="692" cy="197" r="0.8" fill="#000"/>
<circle cx="697" cy="194" r="0.8" fill="#000"/>
<path d="M575.3,380.8 574.5,377 575.5,372 577,367 578.5,364 577.5,361.5 575,362 573,361 572.5,358 571.5,355 569,353 568,349 567,345 566,341 567.5,337 568,333 569,329 570.5,326 M569.5,325 567,328 564.5,331 562,332.5 561,335 562.5,339 563.5,343 564.5,347 565,351 565.5,354.5 565,358 567,363 567.5,371 569,375 568,379 569.5,385 M549.5,352.5 552.5,353.5 555,352 559,351 563,353 565.5,354.5 M555,360 559,364 563,368 567.5,371 M559,372 563,375 568,379 M556,378 560,381 565,384 569.5,385 M577.5,397 570,398.5 563,400 562.5,402.5 570,404 576.5,405.5 574.5,409 570,408.2 564.5,408.8 569,412 574.5,416.5 577.2,419.8 574.5,421.8 569,420 558.5,418.5 565,422.5 568.2,426.8 566.2,429.8 560,428.2 564.5,432 569.2,434 M318,546 321,550 318,554 314,554 318,558 322,560 326,564 323,567.6 320,567 314,564 310,560" fill="none" stroke="#000" stroke-width="1.8" stroke-linejoin="round" stroke-linecap="round"/>
<path d="M294,117 300,118 303.5,119.5 304.5,123 309,123 311.5,125.5 315,128 319,130 324,127.5 328,127 329.5,130 337,131 341,133.5 347,133.5 M329,164.5 337,171 345,175 353,179 359,181 365,183 368,186 370,187 359.7,181.2 365,182.9 366.8,185.3 369.7,188.8 369.1,195.3 372.6,200 M304.5,159 301.5,161 301,167 300.5,173 297,175 293,177.5 290.5,181 290,185 291.5,188 290.5,194 289.5,200 289,203 292,207 298,213 304,219 309,226 311,234.4 M232,116.6 232.4,127 233,139 233.6,151 232.8,161 232.4,167.4 229.2,173 227.6,175 231,178.6 231.6,183 231,195 229.2,209 227.2,223 225.6,224.2 M192,160.6 232.4,168 M225.6,224.2 311,234.4 M225.6,224.2 224,227 223.6,233 222,238 220,242 M192,233 198,235 204,234.6 210,236.6 215,239 220,242 222,247 224,255 225.6,263 226.4,271 227.2,281 228,285 229,291 232,299 235,305 239,310 237,315 240,322 242.4,326 M311,234.4 312.4,239 312,245 315,252 320,257 324.4,263 326.4,269 324,275 318,280 310,283 309.6,285 311,291 307,297 302,301 300,305 301,313 304,321 308,328 312,335 314,339 320,341 318,347 316,353 320,359 326,365 330,371 331,379 333,384 334,389 331,394 328,399 325,403 323,407 320,413 318,417 315,423 312,428 310,432 305,440 299,446 294,452 292,460 291,468 290,473 291,480 293,488 290,494 286,500 282,504 279,510 278,517.6 M320,257.4 366,261 M242.4,326 235,386.4 233.6,403 229,451 230,451 M192,299 234,304.6 M229,291.4 299.6,300.8 301.6,302.6 M192,368 236.4,374 M235,386.4 315,395.4 317,400 314,403 312,406 323,406.4 M333.6,385 338,381 343,379 348,383 352,377 356,373 359,367 360,365 364,367 368,365 374,367 380,364 384,365 388,362 394,363 398,358 403,354 405,349 412,348 415,345 416,340.6 420,342 424,344 427,348 434,350 440,352 446,350 450,352 454,355 458,354 462,349 464,344 469,343 471,338 476,334 480,333 485,328 488,320 489,313 488,306 490.4,305 M370,279.7 370,285 368,325 366,333 367,343 364,351 361,356 359.4,359.4 358.8,367 M416.4,279.4 417,285 415.6,340 M377.1,278.5 416.4,279.5 440.6,279.7 M490,276.2 490,285 491,305 492,325.6 M492,325.6 530,323 525,324.5 575,321.2 577,319.5 579.5,319 M575.5,321.5 578,350 587.8,348 M509,325.6 509,335 M454,355.4 455,361 457,367 461,373 464,377 465,378 M465,378 469,382 475,383 480,381 486,380 492,377 497,374 498,369 502,363 507,355 512,352 518,345 522,341 526,337 529,332 527.5,338.5 529.5,334 529,327 M509,335 514,333 520,330 526,328 525,327.5 529,327 533.5,325.8 538,327.5 539,332.5 541.5,335 545,335.5 546.5,338.5 550,340 554,341.5 555,343.5 553,346 551,349 549.5,352.5 552.5,353.5 555,352 559,351 563,353 565.5,354.5 M465,378 460,381 454,385 448,391 442,395 437,397 434,397.6 M329,396.6 354.4,396.6 355,394.2 360,397.6 434,397.6 472,399 530,397 577,394 M471.6,399 471.8,400 470.6,402.9 465.9,405.9 461.2,408.8 455.3,410.6 451.8,411.8 448.2,415.3 443.5,417.6 438.8,420 434.1,421.8 429.4,423.5 427.6,427.6 424.1,428.8 422.9,434.1 M312,428.2 351,432 360,432 423,434 445.3,434.4 M445.3,434.4 450.6,432.4 456.5,430.4 461.2,430 482.4,430.4 484.7,431.2 487.1,434.1 489.4,437.4 500,437.9 509,437.6 520,446 530,455 534.4,459.2 M445.3,434.4 440.6,440.6 447.1,445.9 450.6,448.2 452.9,454.1 456.5,458.8 461.2,463.5 465.9,468.2 470.6,475.3 475.3,480 478.2,487.1 482.4,494.1 484.1,500 485,501.6 488,499.6 M399,434 405,474 409,496 408,500 406,508 407,518 409,526 411,531.4 M411,531.4 464,535.6 465,540 468,538 467,532 471,530 477.6,532 M351,431.6 345,486 340,538.4 M357.6,523.4 360,523.6 408.6,525.2 M357.6,523.4 359,530 358.4,536 360,539.6 M235.6,467.2 290,473 M230,451.4 236.4,454.4 235.6,467.2 233,489 234,492 237,500 239,508 238,516 235,524 234,532 233,538 231,540.4 M192,444 198,442.4 205,441.6 212,442.4 217,443.6 222,448 227,450 230,451.4 M278,517.6 313,521.6 314,528 315,535 316,540 318,543 M500.6,116.9 501.8,150.3 507.6,164.4 517.1,173.8 531.2,177.3 542.9,183.2 554.7,190.3 564.1,191.5 575.9,185.6 585.3,187.9 585,191 586,195 581,199 575,203 569,209 563,216 557,219.4 M578,200.6 604,197 633,194 637,190 639,186 644,181 647,171 651,157 657,143 661,134 665,137 673,133 679,134 683,137 685,149 688,163 693,171 696,177 701,180 703.4,181 M663,135 669,131 672,121 679,118 693,116.6 M604,196.6 603.4,203 604.6,215 606,227 609,239 610,248.6 609.4,247.7 608.8,264.1 609.4,285.3 607.6,287.3 M633,194 631,203 627,211 625,219 624,231 623,239 622,247 M609.4,247.7 621.8,246.8 649.4,241.2 650.6,239.4 652,237.3 M639,186 641,199 644,215 647,229 650,238 651.4,242.4 M608.8,264.1 644.1,261.8 644.7,268.8 645.9,272.4 M637.4,262.4 638.2,276.1 M499.9,265.6 499.9,273.1 535,272 577,269 582,275 585,281 588,285 582.4,277.1 585.9,281.8 583.5,286.5 581.8,292.4 582.4,297.1 585.9,301.8 589.4,306.5 591.2,310 588.2,312.4 583.5,315.9 580,318.2 585,315 580,319 M585.9,282 602.9,288.8" fill="none" stroke="#000" stroke-width="1.4" stroke-linejoin="round" stroke-linecap="round"/>
<path d="M304.5,159 310,154 318,148 323,144 330,140 339,136.5 345,134 347,133.5 351,130 353,125.5 357,122.5 361,122 365,118.5 367.5,117.8 367.5,119.5 371,117.5 377,117.2 385,117.5 395,117.8 397,121 398.5,128 401,134 405,137.5 412,138.5 419,138.5 417,142 416,146 419.5,149 422.5,153 420,157 420.5,161 424,162 425.5,164 424,167 425,171 430,172 430.5,175 M304.5,159 309,160 315,159 321,157 325,156 327,156.5 329.5,155 331,153.5 331.8,154.5 330,157.5 328,159.5 326,161.5 323.5,164 327,163 329,164.5 333,164 339,161.5 345,159.5 351,158 355,156 359,152.5 364,149 365,147.8 370,147 374.5,148.5 371,150.7 368,153.5 365.5,155.5 365,159 369,160 373,162 376,165 378,169 383,170.5 386,172 390,171 391,169.5 395,168.5 403,167 409,166.5 413,165.5 416.5,165 416,172 421,173 425,171.5 430,172 M351.8,137.5 355,135 360,132.2 364.5,130.8 364,132.2 359.5,134.5 355,137.2 352.5,138.5 351.8,137.5 M401.5,142.8 403.5,141.6 406.5,141.8 407.8,143 406,144 403,144 401.5,142.8 M430.5,175 433,176 437,177 443,178 450,179.5 437.1,177.3 448.8,178.5 460.6,180.9 470,183.2 479.4,184.4 484.1,185.6 488.8,191.5 493.5,198.5 497.1,205.6 499.4,211.5 494.7,215.7 491.2,216.2 484.1,211.9 479.4,213.8 480.6,209.1 477.1,205.6 471.2,200.9 468.8,200.9 470,202.1 474.7,207.9 472.4,216.2 470,225.6 468.8,237.3 466.5,246.8 460.6,253.8 454.7,260.9 M420.6,183.2 432.4,183.7 444.1,185.1 455.9,186.3 465.3,185.1 469.3,189.8 467.2,194.5 460.6,192.7 451.2,190.8 441.8,189.8 432.4,187.9 425.3,186.8 420.6,183.2 M430.5,175 429,179 431,181.5 435,184 420.6,183.2 M390.3,270 392.6,265.3 393.6,259.4 393.2,252.3 392.1,246.5 390.3,240.6 389.7,235.9 390.1,230 390.9,225.3 393.2,220.6 394.4,214.7 395.6,210.6 397.9,207.7 400.9,207.1 403.2,204.7 406.2,201.2 405.6,204.1 406.8,209.4 409.1,205.3 408.5,201.8 410.3,199.4 413.8,198.2 416.8,196.5 415,195.9 414.4,192.9 415.6,189.4 418.5,187.7 420.3,184.1 423.2,183.5 425.6,187.7 427.9,190.6 432.6,193.5 437.4,196.5 441.5,199.4 442.6,205.3 442.3,211.2 441.5,217.1 439.7,222.9 437.4,227.1 433.2,230 432.1,233.5 433.2,237.1 436.2,238.2 439.7,234.1 444.4,229.4 449.1,227.7 452.6,230 454.4,234.7 454.7,235 455.9,246.8 457.1,253.8 454,260.9 451.6,262.8 450.7,267.5 446.5,271.5 445.3,276.2 443,279 M390.3,270 389,269 384,276 380,280 375,280.6 369.6,273 367.4,263 366.8,253 368,243 370.4,234 373.6,225 372.6,221.8 374.4,215.9 376.8,210.6 380.3,205.3 383.2,199.4 385,196.1 385,195.3 382.6,197.1 378.5,201.8 373.8,207.7 369.1,212.3 366.2,214.1 367.9,210 370.9,205.3 372.6,200.3 376.2,195.3 380.3,189.4 383.2,184.7 384.4,186.5 383.2,189.4 386.2,187.7 389.1,184.7 390.9,185.9 389.7,189.4 388.5,191.2 391.5,187.7 395,184.1 399.7,182.3 405.6,181.2 410.3,180.3 414.4,181.8 417.4,184.1 419.1,185.9 M405.6,188.8 407.4,188.6 407.7,191.8 406.5,192.9 405.4,191.8 405.6,188.8 M451.6,262.8 455.9,263.7 456.4,267.5 452.4,268.4 450.7,267.5 M443,279 445,274 450,269 455,268 460,269 466,265 473,262 480,260 488,258 493,257.6 497,261 495.6,257.6 502,255 509,253.6 515,253.6 515.9,256.2 510,259 504,262 498,266 490,269 484,273 478,277 472,280 466,283 460,286 455,287.6 451,286.4 448,286 445,282 443,279 M515.9,256.2 516,243 M501,243.6 504,238 512,233 524,230 536,228 544,227 547,223 549.6,224.4 552,221 558,219 557,219.4 559,226 560,233 555,238 547,241 535,243 536,242 524,241 516,243 508,245 503,245.6 501,243.6 M633,151 639,143 645,135 650,127 654,119 656,116.6 M633,151 635.6,152.2 640,148 644.6,143 650.6,135 656.2,125 661,116.6 M703.4,190 699,192 695,195 693,198 689,199 687,202 684,203 683,206 679,207 675,209 673,212 668,213 665,215 663,218 660,219 658,224 656,230 653,237 651.4,242.4 650.6,241.8 652.4,242.9 653.5,245.1 650.6,245.3 651.8,247.7 650.6,250 648.8,252.3 650.6,254.1 652.9,255.3 655.3,258.2 656.5,261.8 658.8,264.1 662.4,264.7 667.1,262.9 666.5,259.4 664.1,258.2 662.9,258.5 664.1,257.3 666.5,257.6 668.2,260.6 668.8,265.3 667.1,264.4 662.4,265.9 657.1,265.5 655.3,267.6 650.6,271.2 648.2,271.8 645.9,272.4 643.5,274.1 638.2,276.5 631.8,278.2 623.5,280.6 615.3,283.5 607.6,287.3 603.5,295.3 601.8,297.6 600,299.6 603.5,300.6 604.1,305.3 603.5,312.4 602.4,319.4 600,326.5 598.8,330 604,315 603,319 601,324 598,329 595,333 593,336.5 591,338 590,335 587,331.5 583.5,328.5 581,325.5 579.5,322.5 579.5,319 M602.4,298 607.1,293.5 612.9,290.6 618.8,288.8 624.7,287.1 629.4,285.3 631.2,283.5 637.6,283.5 631.8,286.2 635.3,285.9 638.5,283.9 635.3,286.5 630.6,288.8 624.7,291.2 617.6,294.1 610.6,297.1 603.5,299.2 602.4,298 M654.7,273.8 657.6,273.3 658.2,274.7 655.3,275.3 654.7,273.8 M665.3,274.9 667.6,273.3 670,274.5 668.2,275.9 665.3,274.9 M642.4,279.6 643.5,279.6 643.5,281.3 642.4,281.3 642.4,279.6 M579.5,319 579,324 581,330 583,336 586,341 588,345 588.2,348.5 588,353 586,358 584,362 582,365 580,369 578,374 576.5,379 575.3,380.8 574.5,377 575.5,372 577,367 578.5,364 577.5,361.5 575,362 573,361 572.5,358 571.5,355 569,353 568,349 567,345 566,341 567.5,337 568,333 569,329 570.5,326 571,324.5 569.5,325 567,328 564.5,331 562,332.5 561,335 562.5,339 563.5,343 564.5,347 565,351 565.5,354.5 565,358 567,363 567.5,371 569,375 568,379 569.5,385 575,385.5 577,391 579.5,398 M555,360 559,364 563,368 567.5,371 M559,372 563,375 568,379 M556,378 560,381 565,384 569.5,385 M578,394 580,400 584,407 587,415 588,423 582,426 576,430 571,437.4 562,439 556,441 551,445 547,451 545,455 530,459 524,466 519,472 514,479 507,484 500,489 494,493 488,499 485,501.6 482,508 480,516 478,524 477.6,532 480,540 483,552 486,562 489,569.6 M577.5,397 570,398.5 563,400 562.5,402.5 570,404 576.5,405.5 574.5,409 570,408.2 564.5,408.8 569,412 574.5,416.5 577.2,419.8 574.5,421.8 569,420 558.5,418.5 565,422.5 568.2,426.8 566.2,429.8 560,428.2 564.5,432 569.2,434 571.5,430 574.5,427 579,424.5 584,423 586.5,421.5 586.2,416 584.8,410 581.5,403 578.5,397 577.5,397 M449,569.6 446,567 442,563 438,558 434,553 430,548 426,547 420,551 412,554 406,558 400,556 397,550 392,545 386,541 380,538 372,538 366,537 362.4,539.6 360,538 358,534 356,527 355,532 352,540 349,538 348,532 346,539 340,538.4 330,540 321,542.4 318,546 321,550 318,554 314,554 318,558 322,560 326,564 323,567.6 320,567 314,564 310,560 305,558 300,563 294,564 286,562 280,557 276,552 270,549 264,548 258,547 250,543 240,541 230,542 222,543.6 212,547 202,552 192,559.4 M299,539 302,535.6 308,535.6 311,539 308,542.4 302,542.4 299,539 M205,542 207,539 212,538.4 211,542 208,544 M229,540 231,537 232.4,540 230,542.4 M327.6,543.6 330,548 329,553.6" fill="none" stroke="#000" stroke-width="1.5" stroke-linejoin="round" stroke-linecap="round"/>
</g>
<rect x="192.5" y="117.0" width="510.0" height="452.0" fill="none" stroke="#000" stroke-width="1"/>
<text x="173.5" y="163.8" font-size="11.7" text-anchor="end">46°N</text>
<text x="173.5" y="210.4" font-size="11.7" text-anchor="end">44°N</text>
<text x="173.5" y="256.7" font-size="11.7" text-anchor="end">42°N</text>
<text x="173.5" y="303.1" font-size="11.7" text-anchor="end">40°N</text>
<text x="173.5" y="349.3" font-size="11.7" text-anchor="end">38°N</text>
<text x="173.5" y="395.5" font-size="11.7" text-anchor="end">36°N</text>
<text x="173.5" y="442.1" font-size="11.7" text-anchor="end">34°N</text>
<text x="173.5" y="488.5" font-size="11.7" text-anchor="end">32°N</text>
<text x="173.5" y="535.2" font-size="11.7" text-anchor="end">30°N</text>
<text x="202.8" y="598" font-size="11.7" text-anchor="middle">95°W</text>
<text x="305.0" y="598" font-size="11.7" text-anchor="middle">90°W</text>
<text x="407.0" y="598" font-size="11.7" text-anchor="middle">85°W</text>
<text x="508.5" y="598" font-size="11.7" text-anchor="middle">80°W</text>
<text x="610.0" y="598" font-size="11.7" text-anchor="middle">75°W</text>
<path d="M180.6,159.7H192.5 M180.6,206.3H192.5 M180.6,252.6H192.5 M180.6,299.0H192.5 M180.6,345.2H192.5 M180.6,391.4H192.5 M180.6,438.0H192.5 M180.6,484.4H192.5 M180.6,531.1H192.5 M202.8,569.0V580.5 M305.0,569.0V580.5 M407.0,569.0V580.5 M508.5,569.0V580.5 M610.0,569.0V580.5" stroke="#000" stroke-width="1" fill="none"/>
<text x="191.3" y="25.6" font-size="17.6">IWFAQRP Eastern US Real Time WRF</text>
<text x="703.2" y="24.6" font-size="11.65" text-anchor="end">Init: 2025-12-04_00:00:00</text>
<text x="703.2" y="37.7" font-size="11.65" text-anchor="end">Valid: 2025-12-06_07:00:00</text>
<text x="194.8" y="101.2" font-size="11.67" xml:space="preserve">AFWA Diagnostic: Surface Lifted Index   (K)</text>
<text x="448" y="626.5" font-size="12.36" text-anchor="middle" xml:space="preserve">AFWA Diagnostic: Surface Lifted Index  (K)</text>
<rect x="228.70" y="633.6" width="19.90" height="17.399999999999977" fill="#a50026" stroke="#000" stroke-width="0.6"/>
<rect x="248.60" y="633.6" width="19.90" height="17.399999999999977" fill="#bd1726" stroke="#000" stroke-width="0.6"/>
<rect x="268.50" y="633.6" width="19.90" height="17.399999999999977" fill="#d42d27" stroke="#000" stroke-width="0.6"/>
<rect x="288.40" y="633.6" width="19.90" height="17.399999999999977" fill="#e34933" stroke="#000" stroke-width="0.6"/>
<rect x="308.30" y="633.6" width="19.90" height="17.399999999999977" fill="#f16640" stroke="#000" stroke-width="0.6"/>
<rect x="328.20" y="633.6" width="19.90" height="17.399999999999977" fill="#f7844e" stroke="#000" stroke-width="0.6"/>
<rect x="348.10" y="633.6" width="19.90" height="17.399999999999977" fill="#fca55d" stroke="#000" stroke-width="0.6"/>
<rect x="368.00" y="633.6" width="19.90" height="17.399999999999977" fill="#fdbf71" stroke="#000" stroke-width="0.6"/>
<rect x="387.90" y="633.6" width="19.90" height="17.399999999999977" fill="#fed687" stroke="#000" stroke-width="0.6"/>
<rect x="407.80" y="633.6" width="19.90" height="17.399999999999977" fill="#fee99d" stroke="#000" stroke-width="0.6"/>
<rect x="427.70" y="633.6" width="19.90" height="17.399999999999977" fill="#fff7b3" stroke="#000" stroke-width="0.6"/>
<rect x="447.60" y="633.6" width="19.90" height="17.399999999999977" fill="#f7fcce" stroke="#000" stroke-width="0.6"/>
<rect x="467.50" y="633.6" width="19.90" height="17.399999999999977" fill="#e9f6e8" stroke="#000" stroke-width="0.6"/>
<rect x="487.40" y="633.6" width="19.90" height="17.399999999999977" fill="#d6eef5" stroke="#000" stroke-width="0.6"/>
<rect x="507.30" y="633.6" width="19.90" height="17.399999999999977" fill="#bde2ee" stroke="#000" stroke-width="0.6"/>
<rect x="527.20" y="633.6" width="19.90" height="17.399999999999977" fill="#a3d3e6" stroke="#000" stroke-width="0.6"/>
<rect x="547.10" y="633.6" width="19.90" height="17.399999999999977" fill="#87bdd9" stroke="#000" stroke-width="0.6"/>
<rect x="567.00" y="633.6" width="19.90" height="17.399999999999977" fill="#6ea6ce" stroke="#000" stroke-width="0.6"/>
<rect x="586.90" y="633.6" width="19.90" height="17.399999999999977" fill="#588cc0" stroke="#000" stroke-width="0.6"/>
<rect x="606.80" y="633.6" width="19.90" height="17.399999999999977" fill="#4471b2" stroke="#000" stroke-width="0.6"/>
<rect x="626.70" y="633.6" width="19.90" height="17.399999999999977" fill="#3a54a4" stroke="#000" stroke-width="0.6"/>
<rect x="646.60" y="633.6" width="19.90" height="17.399999999999977" fill="#313695" stroke="#000" stroke-width="0.6"/>
<text x="248.6" y="673.5" font-size="12.2" text-anchor="middle">-40</text>
<text x="288.4" y="673.5" font-size="12.2" text-anchor="middle">-32</text>
<text x="328.2" y="673.5" font-size="12.2" text-anchor="middle">-24</text>
<text x="368.0" y="673.5" font-size="12.2" text-anchor="middle">-16</text>
<text x="407.8" y="673.5" font-size="12.2" text-anchor="middle">-8</text>
<text x="447.6" y="673.5" font-size="12.2" text-anchor="middle">0</text>
<text x="487.4" y="673.5" font-size="12.2" text-anchor="middle">8</text>
<text x="527.2" y="673.5" font-size="12.2" text-anchor="middle">16</text>
<text x="567.0" y="673.5" font-size="12.2" text-anchor="middle">24</text>
<text x="606.8" y="673.5" font-size="12.2" text-anchor="middle">32</text>
<text x="646.6" y="673.5" font-size="12.2" text-anchor="middle">40</text>
<text x="193.5" y="826" font-size="10.5">OUTPUT FROM WRF V4.6.1 MODEL</text>
<text x="193.5" y="838" font-size="10.5">WE = 310 ; SN = 275 ; Levels = 38 ; Dis = 8km ; Phys Opt = 8 ; PBL Opt = 1 ; Cu Opt = 3</text>
</svg></body></html>
